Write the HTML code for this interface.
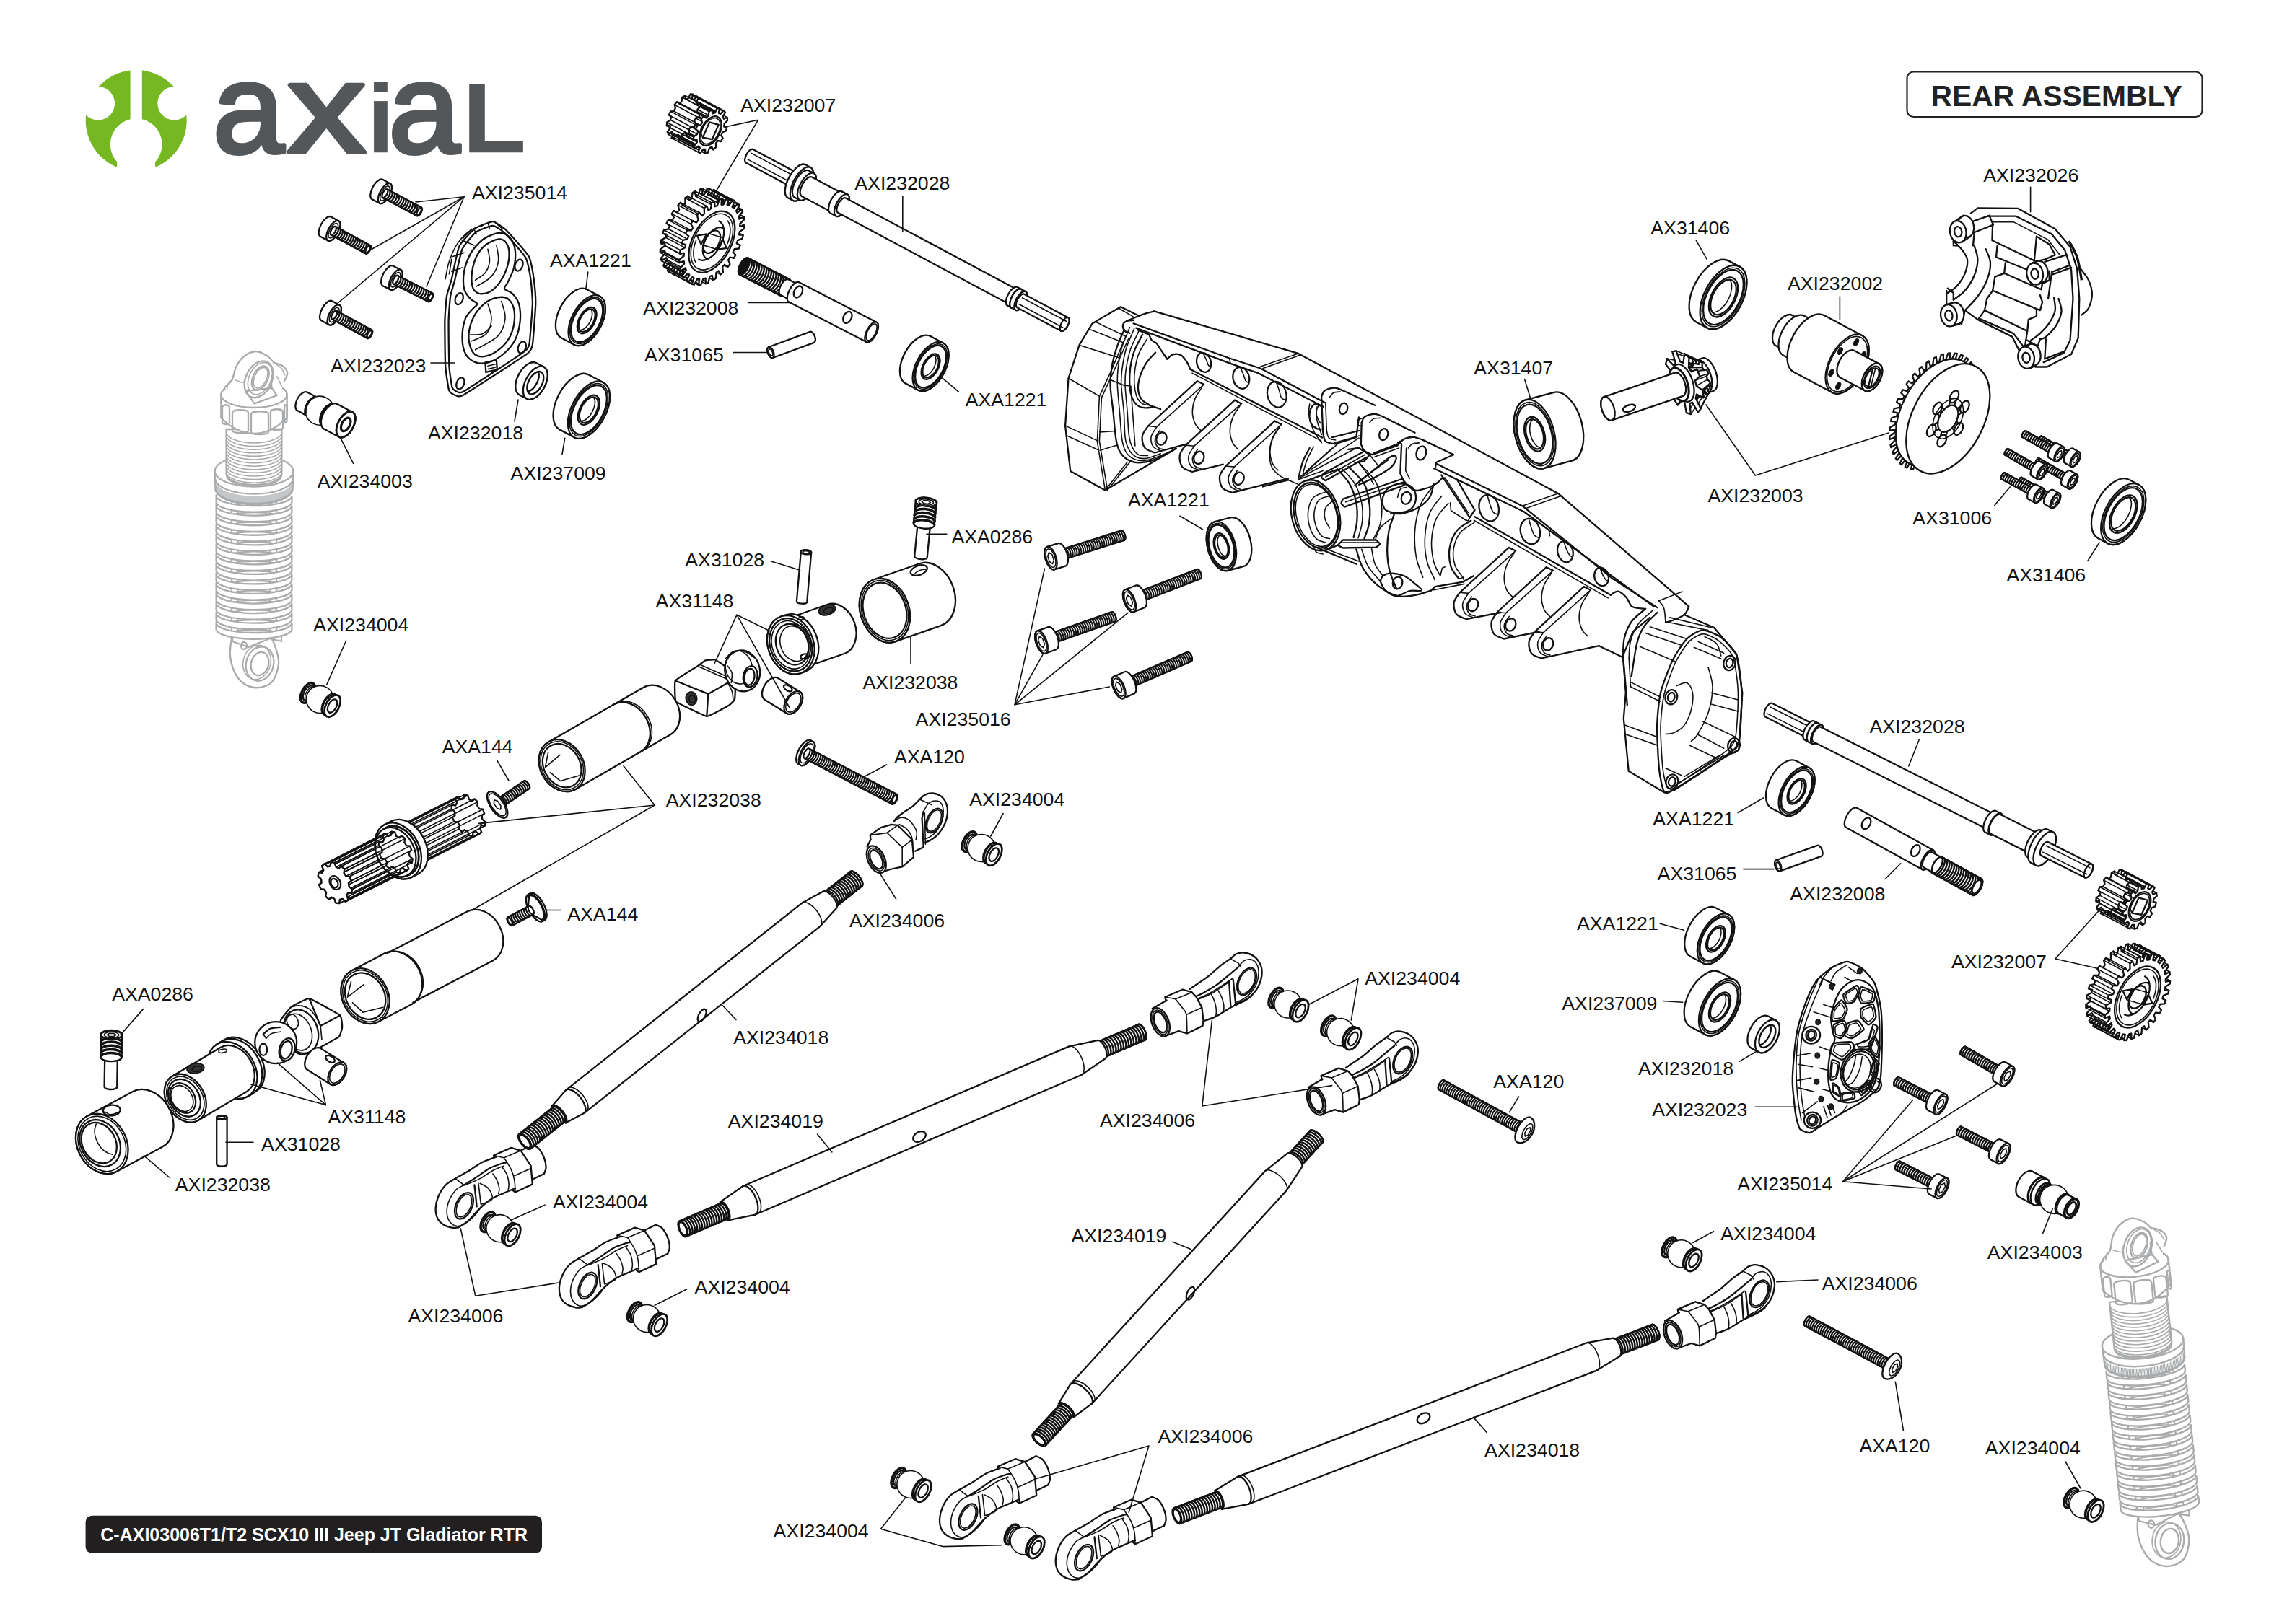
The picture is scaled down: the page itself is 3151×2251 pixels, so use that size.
<!DOCTYPE html>
<html><head><meta charset="utf-8"><title>Rear Assembly</title>
<style>
html,body{margin:0;padding:0;background:#fff;}
body{width:3151px;height:2251px;overflow:hidden;}
svg{display:block;}
.l{font-family:"Liberation Sans",sans-serif;font-size:26.7px;fill:#111;}
.k{fill:#fff;stroke:#111;stroke-width:2.3;stroke-linejoin:round;stroke-linecap:round;}
.w{fill:#fff;stroke:none;}
.n{fill:none;stroke:#111;stroke-width:2.3;stroke-linejoin:round;stroke-linecap:round;}
.t{fill:none;stroke:#111;stroke-width:1.6;stroke-linejoin:round;stroke-linecap:round;}
.ld{fill:none;stroke:#111;stroke-width:1.6;stroke-linecap:round;stroke-linejoin:round;}
.th{fill:#2a2a2a;stroke:#111;stroke-width:1.6;stroke-linejoin:round;}
.g .k{stroke:#a9abad;} .g .n{stroke:#a9abad;} .g .t{stroke:#a9abad;}
</style></head><body>
<svg xmlns="http://www.w3.org/2000/svg" width="3151" height="2251" viewBox="0 0 3151 2251">
<rect width="3151" height="2251" fill="#fff"/>

<defs><mask id="lm" maskUnits="userSpaceOnUse" x="100" y="80" width="180" height="170">
<rect x="100" y="80" width="180" height="170" fill="#000"/>
<circle cx="188.7" cy="167" r="70" fill="#fff"/>
<rect x="180.6" y="90" width="16.2" height="90" fill="#000"/>
<circle cx="188.7" cy="200.2" r="35.9" fill="#000"/>
<rect x="162.2" y="215" width="52.9" height="30" fill="#000"/>
<circle cx="135.9" cy="143.3" r="23.2" fill="#000"/>
<circle cx="241.5" cy="143.3" r="23.2" fill="#000"/>
</mask></defs>
<rect x="100" y="80" width="180" height="170" fill="#76b822" mask="url(#lm)"/>
<text y="210.8" style="font-family:'Liberation Sans',sans-serif;font-size:177px;fill:#53575a;stroke:#53575a;stroke-width:6;stroke-linejoin:round"><tspan x="295">a</tspan><tspan x="398" textLength="109" lengthAdjust="spacingAndGlyphs">x</tspan><tspan x="509" style="font-size:132.7px;font-weight:bold;stroke-width:0.6">i</tspan><tspan x="538.5">a</tspan><tspan x="641" style="font-size:138px;font-weight:bold;stroke-width:0.6" textLength="88" lengthAdjust="spacingAndGlyphs">L</tspan></text>

<!-- p_05_shocks -->
<g class="g" transform="translate(352,487)"><path class="k" d="M-30 391C-30.5 396.3 -34.3 412.7 -33 423C-31.7 433.3 -27.5 445.8 -22 453C-16.5 460.2 -7.7 465 0 466C7.7 467 18.3 464.5 24 459C29.7 453.5 33.2 441.5 34 433C34.8 424.5 31.3 415 29 408C26.7 401 21.5 393.8 20 391"/><ellipse class="n" cx="8" cy="433" rx="19" ry="24" transform="rotate(15 8 433)"/><ellipse class="n" cx="8" cy="433" rx="12" ry="16.5" transform="rotate(15 8 433)"/><ellipse class="t" cx="4" cy="431" rx="19" ry="24" transform="rotate(15 4 431)"/><ellipse class="n" cx="-14" cy="408" rx="4" ry="5"/><path class="n" d="M-30 392L-30 402L-8 410L22 398L38 402L38 388"/><path class="t" d="M18 386L18 398M28 384L28 400"/><rect class="k" x="-31" y="200" width="62" height="190"/><path class="t" d="M-22 200L-22 390M22 200L22 390"/><path class="t" d="M-44 217A46 10 0 0 1 44 217"/><path class="k" d="M-52.4 208A52.4 14 0 0 0 52.4 209.5L52.4 200.9A52.4 14 0 0 1 -52.4 199.4Z"/><path class="t" d="M-44 230.5A46 10 0 0 1 44 230.5"/><path class="k" d="M-52.4 221.5A52.4 14 0 0 0 52.4 223L52.4 214.4A52.4 14 0 0 1 -52.4 212.9Z"/><path class="t" d="M-44 244.1A46 10 0 0 1 44 244.1"/><path class="k" d="M-52.4 235.1A52.4 14 0 0 0 52.4 236.6L52.4 228A52.4 14 0 0 1 -52.4 226.5Z"/><path class="t" d="M-44 257.6A46 10 0 0 1 44 257.6"/><path class="k" d="M-52.4 248.6A52.4 14 0 0 0 52.4 250.1L52.4 241.5A52.4 14 0 0 1 -52.4 240Z"/><path class="t" d="M-44 271.2A46 10 0 0 1 44 271.2"/><path class="k" d="M-52.4 262.2A52.4 14 0 0 0 52.4 263.7L52.4 255.1A52.4 14 0 0 1 -52.4 253.6Z"/><path class="t" d="M-44 284.7A46 10 0 0 1 44 284.7"/><path class="k" d="M-52.4 275.7A52.4 14 0 0 0 52.4 277.2L52.4 268.6A52.4 14 0 0 1 -52.4 267.1Z"/><path class="t" d="M-44 298.2A46 10 0 0 1 44 298.2"/><path class="k" d="M-52.4 289.2A52.4 14 0 0 0 52.4 290.7L52.4 282.1A52.4 14 0 0 1 -52.4 280.6Z"/><path class="t" d="M-44 311.8A46 10 0 0 1 44 311.8"/><path class="k" d="M-52.4 302.8A52.4 14 0 0 0 52.4 304.3L52.4 295.7A52.4 14 0 0 1 -52.4 294.2Z"/><path class="t" d="M-44 325.3A46 10 0 0 1 44 325.3"/><path class="k" d="M-52.4 316.3A52.4 14 0 0 0 52.4 317.8L52.4 309.2A52.4 14 0 0 1 -52.4 307.7Z"/><path class="t" d="M-44 338.8A46 10 0 0 1 44 338.8"/><path class="k" d="M-52.4 329.8A52.4 14 0 0 0 52.4 331.3L52.4 322.7A52.4 14 0 0 1 -52.4 321.2Z"/><path class="t" d="M-44 352.4A46 10 0 0 1 44 352.4"/><path class="k" d="M-52.4 343.4A52.4 14 0 0 0 52.4 344.9L52.4 336.3A52.4 14 0 0 1 -52.4 334.8Z"/><path class="t" d="M-44 365.9A46 10 0 0 1 44 365.9"/><path class="k" d="M-52.4 356.9A52.4 14 0 0 0 52.4 358.4L52.4 349.8A52.4 14 0 0 1 -52.4 348.3Z"/><path class="t" d="M-44 379.5A46 10 0 0 1 44 379.5"/><path class="k" d="M-52.4 370.5A52.4 14 0 0 0 52.4 372L52.4 363.4A52.4 14 0 0 1 -52.4 361.9Z"/><path class="t" d="M-44 393A46 10 0 0 1 44 393"/><path class="k" d="M-52.4 384A52.4 14 0 0 0 52.4 385.5L52.4 376.9A52.4 14 0 0 1 -52.4 375.4Z"/><path class="k" d="M-54.3 166A54.3 21.5 0 0 1 54.3 166L53.5 192A54 22 0 0 1 -53.5 192Z"/><path class="n" d="M-54.3 166A54.3 21.5 0 0 0 54.3 166"/><path class="n" d="M-53.8 178A54 21.5 0 0 0 53.8 178"/><path d="M-52 184.8L-52 196.8M-50 187.1L-50 199.1M-48 188.8L-48 200.8M-46 190.3L-46 202.3M-44 191.5L-44 203.5M-42 192.5L-42 204.5M-40 193.4L-40 205.4M-38 194.3L-38 206.3M-36 195L-36 207M-34 195.7L-34 207.7M-32 196.3L-32 208.3M-30 196.9L-30 208.9M-28 197.4L-28 209.4M-26 197.8L-26 209.8M-24 198.3L-24 210.3M-22 198.6L-22 210.6M-20 199L-20 211M-18 199.3L-18 211.3M-16 199.5L-16 211.5M-14 199.8L-14 211.8M-12 200L-12 212M-10 200.1L-10 212.1M-8 200.3L-8 212.3M-6 200.4L-6 212.4M-4 200.4L-4 212.4M-2 200.5L-2 212.5M0 200.5L0 212.5M2 200.5L2 212.5M4 200.4L4 212.4M6 200.4L6 212.4M8 200.3L8 212.3M10 200.1L10 212.1M12 200L12 212M14 199.8L14 211.8M16 199.5L16 211.5M18 199.3L18 211.3M20 199L20 211M22 198.6L22 210.6M24 198.3L24 210.3M26 197.8L26 209.8M28 197.4L28 209.4M30 196.9L30 208.9M32 196.3L32 208.3M34 195.7L34 207.7M36 195L36 207M38 194.3L38 206.3M40 193.4L40 205.4M42 192.5L42 204.5M44 191.5L44 203.5M46 190.3L46 202.3M48 188.8L48 200.8M50 187.1L50 199.1M52 184.8L52 196.8" fill="none" stroke="#a9abad" stroke-width="1.35"/><path class="n" d="M-53.5 193A54 22 0 0 0 53.5 193"/><path class="k" d="M-38.4 108L-38.4 170A38.4 15 0 0 0 38.4 170L38.4 108Z"/><path class="t" d="M-38.4 112A38.4 15 0 0 0 38.4 112M-38.4 116.6A38.4 15 0 0 0 38.4 116.6M-38.4 121.2A38.4 15 0 0 0 38.4 121.2M-38.4 125.8A38.4 15 0 0 0 38.4 125.8M-38.4 130.4A38.4 15 0 0 0 38.4 130.4M-38.4 135A38.4 15 0 0 0 38.4 135M-38.4 139.6A38.4 15 0 0 0 38.4 139.6M-38.4 144.2A38.4 15 0 0 0 38.4 144.2M-38.4 148.8A38.4 15 0 0 0 38.4 148.8M-38.4 153.4A38.4 15 0 0 0 38.4 153.4M-38.4 158A38.4 15 0 0 0 38.4 158M-38.4 162.6A38.4 15 0 0 0 38.4 162.6M-38.4 167.2A38.4 15 0 0 0 38.4 167.2M-38.4 171.8A38.4 15 0 0 0 38.4 171.8"/><path class="k" d="M-45.7 60L-45.7 92C-30 108 -15 114 0 114C15 114 30 108 45.7 92L45.7 60A45.7 18 0 0 0 -45.7 60Z"/><path class="n" d="M-45.7 60A45.7 18 0 0 0 45.7 60"/><path class="n" d="M-45.7 60A45.7 18 0 0 1 45.7 60"/><path class="n" d="M-44 78C-44 73 -34 73 -34 78L-34 98C-34 102 -44 102 -44 98Z"/><path class="n" d="M-30 85C-30 80 -8 80 -8 85L-8 110C-8 114 -30 114 -30 110Z"/><path class="n" d="M-4 87C-4 82 20 82 20 87L20 112C20 116 -4 116 -4 112Z"/><path class="n" d="M23 84C23 79 40 79 40 84L40 106C40 110 23 110 23 106Z"/><path class="n" d="M42 78C42 73 45.5 73 45.5 78L45.5 96C45.5 100 42 100 42 96Z"/><path class="w" d="M-40.9 50C-41.9 47.9 -32.1 42.4 -30.5 39.7C-29 36.9 -26.9 25.6 -25.3 22.4C-23.8 19.2 -17.8 10 -15 7.8C-12.2 5.5 -1 0.2 2.2 0C5.5 -0.2 15.3 4.5 17.8 6C20.3 7.6 25 14.1 27.2 15.5C29.5 17 38.3 19.2 40.2 20.7C42.1 22.2 46 28.1 46.2 30.2C46.4 32.2 42.7 39.2 41.9 41.4C41.1 43.5 40.2 50 38.4 51.7C36.7 53.4 28.4 57.4 24.7 58.6C20.9 59.8 5 63.6 0.5 63.8C-4 64 -16 61.7 -20.2 60.3C-24.3 59 -39.8 52.1 -40.9 50Z"/><path class="n" d="M-40.9 50C-39.1 48.3 -33.1 44.3 -30.5 39.7C-27.9 35.1 -27.9 27.7 -25.3 22.4C-22.8 17.1 -19.6 11.5 -15 7.8C-10.4 4 -3.2 0.3 2.2 0C7.7 -0.3 13.6 3.4 17.8 6C21.9 8.6 25.7 13.9 27.2 15.5"/><path class="n" d="M27.2 15.5C29.4 16.4 37 18.2 40.2 20.7C43.3 23.1 45.9 26.7 46.2 30.2C46.5 33.6 42.6 39.5 41.9 41.4"/><path class="t" d="M31.6 34.5L38.4 48.3"/><path class="t" d="M29.8 17.2C31.3 18.4 36.3 21.6 38.4 24.1C40.6 26.7 42 31.3 42.8 32.8"/><path class="t" d="M-26.2 39.7C-24.3 40.2 -17.4 44 -15 43.1C-12.6 42.2 -12.1 35.9 -11.6 34.5"/><ellipse class="k" cx="6.6" cy="38.8" rx="18.1" ry="26.7" transform="rotate(25 6.6 38.8)"/><ellipse class="t" cx="8.3" cy="37.6" rx="15.2" ry="23.3" transform="rotate(25 8.3 37.6)"/><ellipse class="n" cx="8.8" cy="37.1" rx="10.3" ry="17.6" transform="rotate(25 8.8 37.1)"/><ellipse class="t" cx="9.1" cy="36.6" rx="8.3" ry="15.2" transform="rotate(25 9.1 36.6)"/><path class="n" d="M-11.6 55.2L24.7 50.9L31.6 61.2L0.5 72.4L-11.6 55.2"/><path class="t" d="M24.7 50.9L23.8 34.5"/><path class="t" d="M-37.4 51.7C-37.1 50.6 -36.8 46.8 -35.7 44.8C-34.5 42.8 -31.4 40.5 -30.5 39.7"/></g>
<g class="g" transform="translate(2951,1689) rotate(-6) scale(1.04)"><path class="k" d="M-30 391C-30.5 396.3 -34.3 412.7 -33 423C-31.7 433.3 -27.5 445.8 -22 453C-16.5 460.2 -7.7 465 0 466C7.7 467 18.3 464.5 24 459C29.7 453.5 33.2 441.5 34 433C34.8 424.5 31.3 415 29 408C26.7 401 21.5 393.8 20 391"/><ellipse class="n" cx="8" cy="433" rx="19" ry="24" transform="rotate(15 8 433)"/><ellipse class="n" cx="8" cy="433" rx="12" ry="16.5" transform="rotate(15 8 433)"/><ellipse class="t" cx="4" cy="431" rx="19" ry="24" transform="rotate(15 4 431)"/><ellipse class="n" cx="-14" cy="408" rx="4" ry="5"/><path class="n" d="M-30 392L-30 402L-8 410L22 398L38 402L38 388"/><path class="t" d="M18 386L18 398M28 384L28 400"/><rect class="k" x="-31" y="200" width="62" height="190"/><path class="t" d="M-22 200L-22 390M22 200L22 390"/><path class="t" d="M-44 217A46 10 0 0 1 44 217"/><path class="k" d="M-52.4 208A52.4 14 0 0 0 52.4 209.5L52.4 200.9A52.4 14 0 0 1 -52.4 199.4Z"/><path class="t" d="M-44 230.5A46 10 0 0 1 44 230.5"/><path class="k" d="M-52.4 221.5A52.4 14 0 0 0 52.4 223L52.4 214.4A52.4 14 0 0 1 -52.4 212.9Z"/><path class="t" d="M-44 244.1A46 10 0 0 1 44 244.1"/><path class="k" d="M-52.4 235.1A52.4 14 0 0 0 52.4 236.6L52.4 228A52.4 14 0 0 1 -52.4 226.5Z"/><path class="t" d="M-44 257.6A46 10 0 0 1 44 257.6"/><path class="k" d="M-52.4 248.6A52.4 14 0 0 0 52.4 250.1L52.4 241.5A52.4 14 0 0 1 -52.4 240Z"/><path class="t" d="M-44 271.2A46 10 0 0 1 44 271.2"/><path class="k" d="M-52.4 262.2A52.4 14 0 0 0 52.4 263.7L52.4 255.1A52.4 14 0 0 1 -52.4 253.6Z"/><path class="t" d="M-44 284.7A46 10 0 0 1 44 284.7"/><path class="k" d="M-52.4 275.7A52.4 14 0 0 0 52.4 277.2L52.4 268.6A52.4 14 0 0 1 -52.4 267.1Z"/><path class="t" d="M-44 298.2A46 10 0 0 1 44 298.2"/><path class="k" d="M-52.4 289.2A52.4 14 0 0 0 52.4 290.7L52.4 282.1A52.4 14 0 0 1 -52.4 280.6Z"/><path class="t" d="M-44 311.8A46 10 0 0 1 44 311.8"/><path class="k" d="M-52.4 302.8A52.4 14 0 0 0 52.4 304.3L52.4 295.7A52.4 14 0 0 1 -52.4 294.2Z"/><path class="t" d="M-44 325.3A46 10 0 0 1 44 325.3"/><path class="k" d="M-52.4 316.3A52.4 14 0 0 0 52.4 317.8L52.4 309.2A52.4 14 0 0 1 -52.4 307.7Z"/><path class="t" d="M-44 338.8A46 10 0 0 1 44 338.8"/><path class="k" d="M-52.4 329.8A52.4 14 0 0 0 52.4 331.3L52.4 322.7A52.4 14 0 0 1 -52.4 321.2Z"/><path class="t" d="M-44 352.4A46 10 0 0 1 44 352.4"/><path class="k" d="M-52.4 343.4A52.4 14 0 0 0 52.4 344.9L52.4 336.3A52.4 14 0 0 1 -52.4 334.8Z"/><path class="t" d="M-44 365.9A46 10 0 0 1 44 365.9"/><path class="k" d="M-52.4 356.9A52.4 14 0 0 0 52.4 358.4L52.4 349.8A52.4 14 0 0 1 -52.4 348.3Z"/><path class="t" d="M-44 379.5A46 10 0 0 1 44 379.5"/><path class="k" d="M-52.4 370.5A52.4 14 0 0 0 52.4 372L52.4 363.4A52.4 14 0 0 1 -52.4 361.9Z"/><path class="t" d="M-44 393A46 10 0 0 1 44 393"/><path class="k" d="M-52.4 384A52.4 14 0 0 0 52.4 385.5L52.4 376.9A52.4 14 0 0 1 -52.4 375.4Z"/><path class="k" d="M-54.3 166A54.3 21.5 0 0 1 54.3 166L53.5 192A54 22 0 0 1 -53.5 192Z"/><path class="n" d="M-54.3 166A54.3 21.5 0 0 0 54.3 166"/><path class="n" d="M-53.8 178A54 21.5 0 0 0 53.8 178"/><path d="M-52 184.8L-52 196.8M-50 187.1L-50 199.1M-48 188.8L-48 200.8M-46 190.3L-46 202.3M-44 191.5L-44 203.5M-42 192.5L-42 204.5M-40 193.4L-40 205.4M-38 194.3L-38 206.3M-36 195L-36 207M-34 195.7L-34 207.7M-32 196.3L-32 208.3M-30 196.9L-30 208.9M-28 197.4L-28 209.4M-26 197.8L-26 209.8M-24 198.3L-24 210.3M-22 198.6L-22 210.6M-20 199L-20 211M-18 199.3L-18 211.3M-16 199.5L-16 211.5M-14 199.8L-14 211.8M-12 200L-12 212M-10 200.1L-10 212.1M-8 200.3L-8 212.3M-6 200.4L-6 212.4M-4 200.4L-4 212.4M-2 200.5L-2 212.5M0 200.5L0 212.5M2 200.5L2 212.5M4 200.4L4 212.4M6 200.4L6 212.4M8 200.3L8 212.3M10 200.1L10 212.1M12 200L12 212M14 199.8L14 211.8M16 199.5L16 211.5M18 199.3L18 211.3M20 199L20 211M22 198.6L22 210.6M24 198.3L24 210.3M26 197.8L26 209.8M28 197.4L28 209.4M30 196.9L30 208.9M32 196.3L32 208.3M34 195.7L34 207.7M36 195L36 207M38 194.3L38 206.3M40 193.4L40 205.4M42 192.5L42 204.5M44 191.5L44 203.5M46 190.3L46 202.3M48 188.8L48 200.8M50 187.1L50 199.1M52 184.8L52 196.8" fill="none" stroke="#a9abad" stroke-width="1.35"/><path class="n" d="M-53.5 193A54 22 0 0 0 53.5 193"/><path class="k" d="M-38.4 108L-38.4 170A38.4 15 0 0 0 38.4 170L38.4 108Z"/><path class="t" d="M-38.4 112A38.4 15 0 0 0 38.4 112M-38.4 116.6A38.4 15 0 0 0 38.4 116.6M-38.4 121.2A38.4 15 0 0 0 38.4 121.2M-38.4 125.8A38.4 15 0 0 0 38.4 125.8M-38.4 130.4A38.4 15 0 0 0 38.4 130.4M-38.4 135A38.4 15 0 0 0 38.4 135M-38.4 139.6A38.4 15 0 0 0 38.4 139.6M-38.4 144.2A38.4 15 0 0 0 38.4 144.2M-38.4 148.8A38.4 15 0 0 0 38.4 148.8M-38.4 153.4A38.4 15 0 0 0 38.4 153.4M-38.4 158A38.4 15 0 0 0 38.4 158M-38.4 162.6A38.4 15 0 0 0 38.4 162.6M-38.4 167.2A38.4 15 0 0 0 38.4 167.2M-38.4 171.8A38.4 15 0 0 0 38.4 171.8"/><path class="k" d="M-45.7 60L-45.7 92C-30 108 -15 114 0 114C15 114 30 108 45.7 92L45.7 60A45.7 18 0 0 0 -45.7 60Z"/><path class="n" d="M-45.7 60A45.7 18 0 0 0 45.7 60"/><path class="n" d="M-45.7 60A45.7 18 0 0 1 45.7 60"/><path class="n" d="M-44 78C-44 73 -34 73 -34 78L-34 98C-34 102 -44 102 -44 98Z"/><path class="n" d="M-30 85C-30 80 -8 80 -8 85L-8 110C-8 114 -30 114 -30 110Z"/><path class="n" d="M-4 87C-4 82 20 82 20 87L20 112C20 116 -4 116 -4 112Z"/><path class="n" d="M23 84C23 79 40 79 40 84L40 106C40 110 23 110 23 106Z"/><path class="n" d="M42 78C42 73 45.5 73 45.5 78L45.5 96C45.5 100 42 100 42 96Z"/><path class="w" d="M-40.9 50C-41.9 47.9 -32.1 42.4 -30.5 39.7C-29 36.9 -26.9 25.6 -25.3 22.4C-23.8 19.2 -17.8 10 -15 7.8C-12.2 5.5 -1 0.2 2.2 0C5.5 -0.2 15.3 4.5 17.8 6C20.3 7.6 25 14.1 27.2 15.5C29.5 17 38.3 19.2 40.2 20.7C42.1 22.2 46 28.1 46.2 30.2C46.4 32.2 42.7 39.2 41.9 41.4C41.1 43.5 40.2 50 38.4 51.7C36.7 53.4 28.4 57.4 24.7 58.6C20.9 59.8 5 63.6 0.5 63.8C-4 64 -16 61.7 -20.2 60.3C-24.3 59 -39.8 52.1 -40.9 50Z"/><path class="n" d="M-40.9 50C-39.1 48.3 -33.1 44.3 -30.5 39.7C-27.9 35.1 -27.9 27.7 -25.3 22.4C-22.8 17.1 -19.6 11.5 -15 7.8C-10.4 4 -3.2 0.3 2.2 0C7.7 -0.3 13.6 3.4 17.8 6C21.9 8.6 25.7 13.9 27.2 15.5"/><path class="n" d="M27.2 15.5C29.4 16.4 37 18.2 40.2 20.7C43.3 23.1 45.9 26.7 46.2 30.2C46.5 33.6 42.6 39.5 41.9 41.4"/><path class="t" d="M31.6 34.5L38.4 48.3"/><path class="t" d="M29.8 17.2C31.3 18.4 36.3 21.6 38.4 24.1C40.6 26.7 42 31.3 42.8 32.8"/><path class="t" d="M-26.2 39.7C-24.3 40.2 -17.4 44 -15 43.1C-12.6 42.2 -12.1 35.9 -11.6 34.5"/><ellipse class="k" cx="6.6" cy="38.8" rx="18.1" ry="26.7" transform="rotate(25 6.6 38.8)"/><ellipse class="t" cx="8.3" cy="37.6" rx="15.2" ry="23.3" transform="rotate(25 8.3 37.6)"/><ellipse class="n" cx="8.8" cy="37.1" rx="10.3" ry="17.6" transform="rotate(25 8.8 37.1)"/><ellipse class="t" cx="9.1" cy="36.6" rx="8.3" ry="15.2" transform="rotate(25 9.1 36.6)"/><path class="n" d="M-11.6 55.2L24.7 50.9L31.6 61.2L0.5 72.4L-11.6 55.2"/><path class="t" d="M24.7 50.9L23.8 34.5"/><path class="t" d="M-37.4 51.7C-37.1 50.6 -36.8 46.8 -35.7 44.8C-34.5 42.8 -31.4 40.5 -30.5 39.7"/></g>
<!-- p_10_bearings -->
<g transform="translate(813.2,444.1) rotate(28)"><path class="k" d="M0 -38L-20 -38A20.9 38 0 0 0 -20 38L0 38A20.9 38 0 0 0 0 -38Z"/><ellipse class="k" cx="0" cy="0" rx="20.9" ry="38"/><ellipse class="t" cx="0" cy="0" rx="19.2" ry="35"/><ellipse class="n" cx="0" cy="0" rx="18" ry="32.7"/><ellipse class="n" cx="0" cy="0" rx="10.9" ry="19.8"/><ellipse class="n" cx="0" cy="0" rx="9.4" ry="17.1"/><path class="t" d="M-1.9 -16.4A9.4 17.1 0 0 1 -1.9 16.4"/></g>
<g transform="translate(815.9,568.2) rotate(28)"><path class="k" d="M0 -43L-23 -43A23.7 43 0 0 0 -23 43L0 43A23.7 43 0 0 0 0 -43Z"/><ellipse class="k" cx="0" cy="0" rx="23.7" ry="43"/><ellipse class="t" cx="0" cy="0" rx="21.8" ry="39.6"/><ellipse class="n" cx="0" cy="0" rx="20.3" ry="37"/><ellipse class="n" cx="0" cy="0" rx="12.3" ry="22.4"/><ellipse class="n" cx="0" cy="0" rx="10.6" ry="19.4"/><path class="t" d="M-2.1 -18.6A10.6 19.4 0 0 1 -2.1 18.6"/></g>
<g transform="translate(741.8,530.7) rotate(28)"><path class="k" d="M0 -25L-12 -25A13.8 25 0 0 0 -12 25L0 25A13.8 25 0 0 0 0 -25Z"/><ellipse class="k" cx="0" cy="0" rx="13.8" ry="25"/><ellipse class="n" cx="0" cy="0" rx="9.4" ry="17"/><path class="n" d="M-3.3 -15.3A9.4 17 0 0 1 -3.3 15.3"/></g>
<g transform="translate(1289.6,508.1) rotate(28)"><path class="k" d="M0 -37L-20 -37A20.4 37 0 0 0 -20 37L0 37A20.4 37 0 0 0 0 -37Z"/><ellipse class="k" cx="0" cy="0" rx="20.4" ry="37"/><ellipse class="t" cx="0" cy="0" rx="18.7" ry="34"/><ellipse class="n" cx="0" cy="0" rx="17.5" ry="31.8"/><ellipse class="n" cx="0" cy="0" rx="10.6" ry="19.2"/><ellipse class="n" cx="0" cy="0" rx="9.2" ry="16.7"/><path class="t" d="M-1.8 -16A9.2 16.7 0 0 1 -1.8 16"/></g>
<g transform="translate(2388,412) rotate(28)"><path class="k" d="M0 -48L-17 -48A26.4 48 0 0 0 -17 48L0 48A26.4 48 0 0 0 0 -48Z"/><ellipse class="k" cx="0" cy="0" rx="26.4" ry="48"/><ellipse class="t" cx="0" cy="0" rx="24.3" ry="44.2"/><ellipse class="n" cx="0" cy="0" rx="22.7" ry="41.3"/><ellipse class="n" cx="0" cy="0" rx="16.4" ry="29.8"/><ellipse class="n" cx="0" cy="0" rx="14.5" ry="26.4"/><path class="t" d="M-2.9 -25.3A14.5 26.4 0 0 1 -2.9 25.3"/></g>
<g transform="translate(2942.2,712.6) rotate(28)"><path class="k" d="M0 -46L-15 -46A25.3 46 0 0 0 -15 46L0 46A25.3 46 0 0 0 0 -46Z"/><ellipse class="k" cx="0" cy="0" rx="25.3" ry="46"/><ellipse class="t" cx="0" cy="0" rx="23.3" ry="42.3"/><ellipse class="n" cx="0" cy="0" rx="21.8" ry="39.6"/><ellipse class="n" cx="0" cy="0" rx="15.7" ry="28.5"/><ellipse class="n" cx="0" cy="0" rx="13.9" ry="25.3"/><path class="t" d="M-2.8 -24.3A13.9 25.3 0 0 1 -2.8 24.3"/></g>
<g transform="translate(2489.6,1096.9) rotate(28)"><path class="k" d="M0 -37L-20 -37A20.4 37 0 0 0 -20 37L0 37A20.4 37 0 0 0 0 -37Z"/><ellipse class="k" cx="0" cy="0" rx="20.4" ry="37"/><ellipse class="t" cx="0" cy="0" rx="18.7" ry="34"/><ellipse class="n" cx="0" cy="0" rx="17.5" ry="31.8"/><ellipse class="n" cx="0" cy="0" rx="10.6" ry="19.2"/><ellipse class="n" cx="0" cy="0" rx="9.2" ry="16.7"/><path class="t" d="M-1.8 -16A9.2 16.7 0 0 1 -1.8 16"/></g>
<g transform="translate(2377.5,1301.4) rotate(28)"><path class="k" d="M0 -38L-20 -38A20.9 38 0 0 0 -20 38L0 38A20.9 38 0 0 0 0 -38Z"/><ellipse class="k" cx="0" cy="0" rx="20.9" ry="38"/><ellipse class="t" cx="0" cy="0" rx="19.2" ry="35"/><ellipse class="n" cx="0" cy="0" rx="18" ry="32.7"/><ellipse class="n" cx="0" cy="0" rx="10.9" ry="19.8"/><ellipse class="n" cx="0" cy="0" rx="9.4" ry="17.1"/><path class="t" d="M-1.9 -16.4A9.4 17.1 0 0 1 -1.9 16.4"/></g>
<g transform="translate(2383,1396) rotate(28)"><path class="k" d="M0 -43L-23 -43A23.7 43 0 0 0 -23 43L0 43A23.7 43 0 0 0 0 -43Z"/><ellipse class="k" cx="0" cy="0" rx="23.7" ry="43"/><ellipse class="t" cx="0" cy="0" rx="21.8" ry="39.6"/><ellipse class="n" cx="0" cy="0" rx="20.3" ry="37"/><ellipse class="n" cx="0" cy="0" rx="12.3" ry="22.4"/><ellipse class="n" cx="0" cy="0" rx="10.6" ry="19.4"/><path class="t" d="M-2.1 -18.6A10.6 19.4 0 0 1 -2.1 18.6"/></g>
<g transform="translate(2448.9,1436.3) rotate(28)"><path class="k" d="M0 -25L-12 -25A13.8 25 0 0 0 -12 25L0 25A13.8 25 0 0 0 0 -25Z"/><ellipse class="k" cx="0" cy="0" rx="13.8" ry="25"/><ellipse class="n" cx="0" cy="0" rx="9.4" ry="17"/><path class="n" d="M-3.3 -15.3A9.4 17 0 0 1 -3.3 15.3"/></g>
<g transform="translate(2126.6,601.7) rotate(165)"><path class="k" d="M0 -49L-40 -49A27 49 0 0 0 -40 49L0 49A27 49 0 0 0 0 -49Z"/><ellipse class="k" cx="0" cy="0" rx="27" ry="49"/><ellipse class="t" cx="0" cy="0" rx="24.8" ry="45.1"/><ellipse class="n" cx="0" cy="0" rx="23.2" ry="42.1"/><ellipse class="n" cx="0" cy="0" rx="13.5" ry="24.5"/><ellipse class="n" cx="0" cy="0" rx="11.6" ry="21.1"/><path class="t" d="M-2.3 -20.2A11.6 21.1 0 0 1 -2.3 20.2"/></g>
<g transform="translate(1692.4,757) rotate(165)"><path class="k" d="M0 -35L-22 -35A19.2 35 0 0 0 -22 35L0 35A19.2 35 0 0 0 0 -35Z"/><ellipse class="k" cx="0" cy="0" rx="19.2" ry="35"/><ellipse class="t" cx="0" cy="0" rx="17.7" ry="32.2"/><ellipse class="n" cx="0" cy="0" rx="16.6" ry="30.1"/><ellipse class="n" cx="0" cy="0" rx="10" ry="18.2"/><ellipse class="n" cx="0" cy="0" rx="8.7" ry="15.8"/><path class="t" d="M-1.7 -15.1A8.7 15.8 0 0 1 -1.7 15.1"/></g>
<!-- p_11_screws -->
<g transform="translate(533.4,268.1) rotate(28)"><path class="k" d="M0 -15.5L-12 -15.5A7 15.5 0 0 0 -12 15.5L0 15.5A7 15.5 0 0 0 0 -15.5Z"/><ellipse class="k" cx="0" cy="0" rx="7" ry="15.5"/><ellipse class="t" cx="0" cy="0" rx="5" ry="11.2"/><path class="k" d="M0 -6.6L53.5 -6.6A3 6.6 0 0 1 53.5 6.6L0 6.6A3 6.6 0 0 1 0 -6.6Z"/><path d="M0 -6.6A3 6.6 0 0 1 0 6.6M3.6 -6.6A3 6.6 0 0 1 3.6 6.6M7.1 -6.6A3 6.6 0 0 1 7.1 6.6M10.7 -6.6A3 6.6 0 0 1 10.7 6.6M14.3 -6.6A3 6.6 0 0 1 14.3 6.6M17.8 -6.6A3 6.6 0 0 1 17.8 6.6M21.4 -6.6A3 6.6 0 0 1 21.4 6.6M25 -6.6A3 6.6 0 0 1 25 6.6M28.6 -6.6A3 6.6 0 0 1 28.6 6.6M32.1 -6.6A3 6.6 0 0 1 32.1 6.6M35.7 -6.6A3 6.6 0 0 1 35.7 6.6M39.3 -6.6A3 6.6 0 0 1 39.3 6.6M42.8 -6.6A3 6.6 0 0 1 42.8 6.6M46.4 -6.6A3 6.6 0 0 1 46.4 6.6M50 -6.6A3 6.6 0 0 1 50 6.6M53.5 -6.6A3 6.6 0 0 1 53.5 6.6" fill="none" stroke="#111" stroke-width="2.4"/><ellipse class="k" cx="53.5" cy="0" rx="2.4" ry="5.3"/></g>
<g transform="translate(461.8,319.8) rotate(28.4)"><path class="k" d="M0 -15.5L-12 -15.5A7 15.5 0 0 0 -12 15.5L0 15.5A7 15.5 0 0 0 0 -15.5Z"/><ellipse class="k" cx="0" cy="0" rx="7" ry="15.5"/><ellipse class="t" cx="0" cy="0" rx="5" ry="11.2"/><path class="k" d="M0 -6.6L54.5 -6.6A3 6.6 0 0 1 54.5 6.6L0 6.6A3 6.6 0 0 1 0 -6.6Z"/><path d="M0 -6.6A3 6.6 0 0 1 0 6.6M3.4 -6.6A3 6.6 0 0 1 3.4 6.6M6.8 -6.6A3 6.6 0 0 1 6.8 6.6M10.2 -6.6A3 6.6 0 0 1 10.2 6.6M13.6 -6.6A3 6.6 0 0 1 13.6 6.6M17 -6.6A3 6.6 0 0 1 17 6.6M20.5 -6.6A3 6.6 0 0 1 20.5 6.6M23.9 -6.6A3 6.6 0 0 1 23.9 6.6M27.3 -6.6A3 6.6 0 0 1 27.3 6.6M30.7 -6.6A3 6.6 0 0 1 30.7 6.6M34.1 -6.6A3 6.6 0 0 1 34.1 6.6M37.5 -6.6A3 6.6 0 0 1 37.5 6.6M40.9 -6.6A3 6.6 0 0 1 40.9 6.6M44.3 -6.6A3 6.6 0 0 1 44.3 6.6M47.7 -6.6A3 6.6 0 0 1 47.7 6.6M51.1 -6.6A3 6.6 0 0 1 51.1 6.6M54.5 -6.6A3 6.6 0 0 1 54.5 6.6" fill="none" stroke="#111" stroke-width="2.4"/><ellipse class="k" cx="54.5" cy="0" rx="2.4" ry="5.3"/></g>
<g transform="translate(548.2,387.8) rotate(26.9)"><path class="k" d="M0 -15.5L-12 -15.5A7 15.5 0 0 0 -12 15.5L0 15.5A7 15.5 0 0 0 0 -15.5Z"/><ellipse class="k" cx="0" cy="0" rx="7" ry="15.5"/><ellipse class="t" cx="0" cy="0" rx="5" ry="11.2"/><path class="k" d="M0 -6.6L53.8 -6.6A3 6.6 0 0 1 53.8 6.6L0 6.6A3 6.6 0 0 1 0 -6.6Z"/><path d="M0 -6.6A3 6.6 0 0 1 0 6.6M3.6 -6.6A3 6.6 0 0 1 3.6 6.6M7.2 -6.6A3 6.6 0 0 1 7.2 6.6M10.8 -6.6A3 6.6 0 0 1 10.8 6.6M14.4 -6.6A3 6.6 0 0 1 14.4 6.6M17.9 -6.6A3 6.6 0 0 1 17.9 6.6M21.5 -6.6A3 6.6 0 0 1 21.5 6.6M25.1 -6.6A3 6.6 0 0 1 25.1 6.6M28.7 -6.6A3 6.6 0 0 1 28.7 6.6M32.3 -6.6A3 6.6 0 0 1 32.3 6.6M35.9 -6.6A3 6.6 0 0 1 35.9 6.6M39.5 -6.6A3 6.6 0 0 1 39.5 6.6M43.1 -6.6A3 6.6 0 0 1 43.1 6.6M46.7 -6.6A3 6.6 0 0 1 46.7 6.6M50.3 -6.6A3 6.6 0 0 1 50.3 6.6M53.8 -6.6A3 6.6 0 0 1 53.8 6.6" fill="none" stroke="#111" stroke-width="2.4"/><ellipse class="k" cx="53.8" cy="0" rx="2.4" ry="5.3"/></g>
<g transform="translate(463.2,436.5) rotate(28.6)"><path class="k" d="M0 -15.5L-12 -15.5A7 15.5 0 0 0 -12 15.5L0 15.5A7 15.5 0 0 0 0 -15.5Z"/><ellipse class="k" cx="0" cy="0" rx="7" ry="15.5"/><ellipse class="t" cx="0" cy="0" rx="5" ry="11.2"/><path class="k" d="M0 -6.6L55.6 -6.6A3 6.6 0 0 1 55.6 6.6L0 6.6A3 6.6 0 0 1 0 -6.6Z"/><path d="M0 -6.6A3 6.6 0 0 1 0 6.6M3.5 -6.6A3 6.6 0 0 1 3.5 6.6M6.9 -6.6A3 6.6 0 0 1 6.9 6.6M10.4 -6.6A3 6.6 0 0 1 10.4 6.6M13.9 -6.6A3 6.6 0 0 1 13.9 6.6M17.4 -6.6A3 6.6 0 0 1 17.4 6.6M20.8 -6.6A3 6.6 0 0 1 20.8 6.6M24.3 -6.6A3 6.6 0 0 1 24.3 6.6M27.8 -6.6A3 6.6 0 0 1 27.8 6.6M31.3 -6.6A3 6.6 0 0 1 31.3 6.6M34.7 -6.6A3 6.6 0 0 1 34.7 6.6M38.2 -6.6A3 6.6 0 0 1 38.2 6.6M41.7 -6.6A3 6.6 0 0 1 41.7 6.6M45.2 -6.6A3 6.6 0 0 1 45.2 6.6M48.6 -6.6A3 6.6 0 0 1 48.6 6.6M52.1 -6.6A3 6.6 0 0 1 52.1 6.6M55.6 -6.6A3 6.6 0 0 1 55.6 6.6" fill="none" stroke="#111" stroke-width="2.4"/><ellipse class="k" cx="55.6" cy="0" rx="2.4" ry="5.3"/></g>
<g transform="translate(2771.1,1485.7) rotate(29.9)"><path class="k" d="M0 -6.6L-58.4 -6.6A3 6.6 0 0 0 -58.4 6.6L0 6.6A3 6.6 0 0 0 0 -6.6Z"/><path d="M-58.4 -6.6A3 6.6 0 0 0 -58.4 6.6M-54.9 -6.6A3 6.6 0 0 0 -54.9 6.6M-51.5 -6.6A3 6.6 0 0 0 -51.5 6.6M-48.1 -6.6A3 6.6 0 0 0 -48.1 6.6M-44.6 -6.6A3 6.6 0 0 0 -44.6 6.6M-41.2 -6.6A3 6.6 0 0 0 -41.2 6.6M-37.8 -6.6A3 6.6 0 0 0 -37.8 6.6M-34.3 -6.6A3 6.6 0 0 0 -34.3 6.6M-30.9 -6.6A3 6.6 0 0 0 -30.9 6.6M-27.5 -6.6A3 6.6 0 0 0 -27.5 6.6M-24 -6.6A3 6.6 0 0 0 -24 6.6M-20.6 -6.6A3 6.6 0 0 0 -20.6 6.6M-17.2 -6.6A3 6.6 0 0 0 -17.2 6.6M-13.7 -6.6A3 6.6 0 0 0 -13.7 6.6M-10.3 -6.6A3 6.6 0 0 0 -10.3 6.6M-6.9 -6.6A3 6.6 0 0 0 -6.9 6.6M-3.4 -6.6A3 6.6 0 0 0 -3.4 6.6M0 -6.6A3 6.6 0 0 0 0 6.6" fill="none" stroke="#111" stroke-width="2.4"/><path class="k" d="M12 -15.5L0 -15.5A7 15.5 0 0 0 0 15.5L12 15.5A7 15.5 0 0 0 12 -15.5Z"/><ellipse class="k" cx="12" cy="0" rx="7" ry="15.5"/><ellipse class="t" cx="12" cy="0" rx="5.6" ry="12.4"/><path class="t" d="M15 3.9L12 7.8L9 3.9L9 -3.9L12 -7.8L15 -3.9Z"/></g>
<g transform="translate(2678.4,1525) rotate(27.3)"><path class="k" d="M0 -6.6L-56.5 -6.6A3 6.6 0 0 0 -56.5 6.6L0 6.6A3 6.6 0 0 0 0 -6.6Z"/><path d="M-56.5 -6.6A3 6.6 0 0 0 -56.5 6.6M-53 -6.6A3 6.6 0 0 0 -53 6.6M-49.5 -6.6A3 6.6 0 0 0 -49.5 6.6M-45.9 -6.6A3 6.6 0 0 0 -45.9 6.6M-42.4 -6.6A3 6.6 0 0 0 -42.4 6.6M-38.9 -6.6A3 6.6 0 0 0 -38.9 6.6M-35.3 -6.6A3 6.6 0 0 0 -35.3 6.6M-31.8 -6.6A3 6.6 0 0 0 -31.8 6.6M-28.3 -6.6A3 6.6 0 0 0 -28.3 6.6M-24.7 -6.6A3 6.6 0 0 0 -24.7 6.6M-21.2 -6.6A3 6.6 0 0 0 -21.2 6.6M-17.7 -6.6A3 6.6 0 0 0 -17.7 6.6M-14.1 -6.6A3 6.6 0 0 0 -14.1 6.6M-10.6 -6.6A3 6.6 0 0 0 -10.6 6.6M-7.1 -6.6A3 6.6 0 0 0 -7.1 6.6M-3.5 -6.6A3 6.6 0 0 0 -3.5 6.6M0 -6.6A3 6.6 0 0 0 0 6.6" fill="none" stroke="#111" stroke-width="2.4"/><path class="k" d="M12 -15.5L0 -15.5A7 15.5 0 0 0 0 15.5L12 15.5A7 15.5 0 0 0 12 -15.5Z"/><ellipse class="k" cx="12" cy="0" rx="7" ry="15.5"/><ellipse class="t" cx="12" cy="0" rx="5.6" ry="12.4"/><path class="t" d="M15 3.9L12 7.8L9 3.9L9 -3.9L12 -7.8L15 -3.9Z"/></g>
<g transform="translate(2765.3,1593.4) rotate(27.2)"><path class="k" d="M0 -6.6L-56.6 -6.6A3 6.6 0 0 0 -56.6 6.6L0 6.6A3 6.6 0 0 0 0 -6.6Z"/><path d="M-56.6 -6.6A3 6.6 0 0 0 -56.6 6.6M-53.1 -6.6A3 6.6 0 0 0 -53.1 6.6M-49.5 -6.6A3 6.6 0 0 0 -49.5 6.6M-46 -6.6A3 6.6 0 0 0 -46 6.6M-42.5 -6.6A3 6.6 0 0 0 -42.5 6.6M-38.9 -6.6A3 6.6 0 0 0 -38.9 6.6M-35.4 -6.6A3 6.6 0 0 0 -35.4 6.6M-31.8 -6.6A3 6.6 0 0 0 -31.8 6.6M-28.3 -6.6A3 6.6 0 0 0 -28.3 6.6M-24.8 -6.6A3 6.6 0 0 0 -24.8 6.6M-21.2 -6.6A3 6.6 0 0 0 -21.2 6.6M-17.7 -6.6A3 6.6 0 0 0 -17.7 6.6M-14.2 -6.6A3 6.6 0 0 0 -14.2 6.6M-10.6 -6.6A3 6.6 0 0 0 -10.6 6.6M-7.1 -6.6A3 6.6 0 0 0 -7.1 6.6M-3.5 -6.6A3 6.6 0 0 0 -3.5 6.6M0 -6.6A3 6.6 0 0 0 0 6.6" fill="none" stroke="#111" stroke-width="2.4"/><path class="k" d="M12 -15.5L0 -15.5A7 15.5 0 0 0 0 15.5L12 15.5A7 15.5 0 0 0 12 -15.5Z"/><ellipse class="k" cx="12" cy="0" rx="7" ry="15.5"/><ellipse class="t" cx="12" cy="0" rx="5.6" ry="12.4"/><path class="t" d="M15 3.9L12 7.8L9 3.9L9 -3.9L12 -7.8L15 -3.9Z"/></g>
<g transform="translate(2680.3,1641.4) rotate(27.2)"><path class="k" d="M0 -6.6L-56.6 -6.6A3 6.6 0 0 0 -56.6 6.6L0 6.6A3 6.6 0 0 0 0 -6.6Z"/><path d="M-56.6 -6.6A3 6.6 0 0 0 -56.6 6.6M-53.1 -6.6A3 6.6 0 0 0 -53.1 6.6M-49.5 -6.6A3 6.6 0 0 0 -49.5 6.6M-46 -6.6A3 6.6 0 0 0 -46 6.6M-42.5 -6.6A3 6.6 0 0 0 -42.5 6.6M-38.9 -6.6A3 6.6 0 0 0 -38.9 6.6M-35.4 -6.6A3 6.6 0 0 0 -35.4 6.6M-31.8 -6.6A3 6.6 0 0 0 -31.8 6.6M-28.3 -6.6A3 6.6 0 0 0 -28.3 6.6M-24.8 -6.6A3 6.6 0 0 0 -24.8 6.6M-21.2 -6.6A3 6.6 0 0 0 -21.2 6.6M-17.7 -6.6A3 6.6 0 0 0 -17.7 6.6M-14.2 -6.6A3 6.6 0 0 0 -14.2 6.6M-10.6 -6.6A3 6.6 0 0 0 -10.6 6.6M-7.1 -6.6A3 6.6 0 0 0 -7.1 6.6M-3.5 -6.6A3 6.6 0 0 0 -3.5 6.6M0 -6.6A3 6.6 0 0 0 0 6.6" fill="none" stroke="#111" stroke-width="2.4"/><path class="k" d="M12 -15.5L0 -15.5A7 15.5 0 0 0 0 15.5L12 15.5A7 15.5 0 0 0 12 -15.5Z"/><ellipse class="k" cx="12" cy="0" rx="7" ry="15.5"/><ellipse class="t" cx="12" cy="0" rx="5.6" ry="12.4"/><path class="t" d="M15 3.9L12 7.8L9 3.9L9 -3.9L12 -7.8L15 -3.9Z"/></g>
<g transform="translate(1471.3,768.8) rotate(162.5)"><path class="k" d="M0 -7.1L-88.5 -7.1A3.2 7.1 0 0 0 -88.5 7.1L0 7.1A3.2 7.1 0 0 0 0 -7.1Z"/><path d="M-88.5 -7.1A3.2 7.1 0 0 0 -88.5 7.1M-85.5 -7.1A3.2 7.1 0 0 0 -85.5 7.1M-82.4 -7.1A3.2 7.1 0 0 0 -82.4 7.1M-79.4 -7.1A3.2 7.1 0 0 0 -79.4 7.1M-76.3 -7.1A3.2 7.1 0 0 0 -76.3 7.1M-73.3 -7.1A3.2 7.1 0 0 0 -73.3 7.1M-70.2 -7.1A3.2 7.1 0 0 0 -70.2 7.1M-67.2 -7.1A3.2 7.1 0 0 0 -67.2 7.1M-64.1 -7.1A3.2 7.1 0 0 0 -64.1 7.1M-61.1 -7.1A3.2 7.1 0 0 0 -61.1 7.1M-58 -7.1A3.2 7.1 0 0 0 -58 7.1M-54.9 -7.1A3.2 7.1 0 0 0 -54.9 7.1M-51.9 -7.1A3.2 7.1 0 0 0 -51.9 7.1M-48.8 -7.1A3.2 7.1 0 0 0 -48.8 7.1M-45.8 -7.1A3.2 7.1 0 0 0 -45.8 7.1M-42.7 -7.1A3.2 7.1 0 0 0 -42.7 7.1M-39.7 -7.1A3.2 7.1 0 0 0 -39.7 7.1M-36.6 -7.1A3.2 7.1 0 0 0 -36.6 7.1M-33.6 -7.1A3.2 7.1 0 0 0 -33.6 7.1M-30.5 -7.1A3.2 7.1 0 0 0 -30.5 7.1M-27.5 -7.1A3.2 7.1 0 0 0 -27.5 7.1M-24.4 -7.1A3.2 7.1 0 0 0 -24.4 7.1M-21.4 -7.1A3.2 7.1 0 0 0 -21.4 7.1M-18.3 -7.1A3.2 7.1 0 0 0 -18.3 7.1M-15.3 -7.1A3.2 7.1 0 0 0 -15.3 7.1M-12.2 -7.1A3.2 7.1 0 0 0 -12.2 7.1M-9.2 -7.1A3.2 7.1 0 0 0 -9.2 7.1M-6.1 -7.1A3.2 7.1 0 0 0 -6.1 7.1M-3.1 -7.1A3.2 7.1 0 0 0 -3.1 7.1M0 -7.1A3.2 7.1 0 0 0 0 7.1" fill="none" stroke="#111" stroke-width="2.1"/><path class="k" d="M16 -16.5L0 -16.5A7.4 16.5 0 0 0 0 16.5L16 16.5A7.4 16.5 0 0 0 16 -16.5Z"/><ellipse class="k" cx="16" cy="0" rx="7.4" ry="16.5"/><ellipse class="t" cx="16" cy="0" rx="5.9" ry="13.2"/><path class="t" d="M19.2 4.1L16 8.2L12.8 4.1L12.8 -4.1L16 -8.2L19.2 -4.1Z"/></g>
<g transform="translate(1579.9,826.9) rotate(158.9)"><path class="k" d="M0 -7.1L-86.9 -7.1A3.2 7.1 0 0 0 -86.9 7.1L0 7.1A3.2 7.1 0 0 0 0 -7.1Z"/><path d="M-86.9 -7.1A3.2 7.1 0 0 0 -86.9 7.1M-83.8 -7.1A3.2 7.1 0 0 0 -83.8 7.1M-80.7 -7.1A3.2 7.1 0 0 0 -80.7 7.1M-77.6 -7.1A3.2 7.1 0 0 0 -77.6 7.1M-74.5 -7.1A3.2 7.1 0 0 0 -74.5 7.1M-71.4 -7.1A3.2 7.1 0 0 0 -71.4 7.1M-68.3 -7.1A3.2 7.1 0 0 0 -68.3 7.1M-65.2 -7.1A3.2 7.1 0 0 0 -65.2 7.1M-62.1 -7.1A3.2 7.1 0 0 0 -62.1 7.1M-59 -7.1A3.2 7.1 0 0 0 -59 7.1M-55.9 -7.1A3.2 7.1 0 0 0 -55.9 7.1M-52.8 -7.1A3.2 7.1 0 0 0 -52.8 7.1M-49.6 -7.1A3.2 7.1 0 0 0 -49.6 7.1M-46.5 -7.1A3.2 7.1 0 0 0 -46.5 7.1M-43.4 -7.1A3.2 7.1 0 0 0 -43.4 7.1M-40.3 -7.1A3.2 7.1 0 0 0 -40.3 7.1M-37.2 -7.1A3.2 7.1 0 0 0 -37.2 7.1M-34.1 -7.1A3.2 7.1 0 0 0 -34.1 7.1M-31 -7.1A3.2 7.1 0 0 0 -31 7.1M-27.9 -7.1A3.2 7.1 0 0 0 -27.9 7.1M-24.8 -7.1A3.2 7.1 0 0 0 -24.8 7.1M-21.7 -7.1A3.2 7.1 0 0 0 -21.7 7.1M-18.6 -7.1A3.2 7.1 0 0 0 -18.6 7.1M-15.5 -7.1A3.2 7.1 0 0 0 -15.5 7.1M-12.4 -7.1A3.2 7.1 0 0 0 -12.4 7.1M-9.3 -7.1A3.2 7.1 0 0 0 -9.3 7.1M-6.2 -7.1A3.2 7.1 0 0 0 -6.2 7.1M-3.1 -7.1A3.2 7.1 0 0 0 -3.1 7.1M0 -7.1A3.2 7.1 0 0 0 0 7.1" fill="none" stroke="#111" stroke-width="2.1"/><path class="k" d="M16 -16.5L0 -16.5A7.4 16.5 0 0 0 0 16.5L16 16.5A7.4 16.5 0 0 0 16 -16.5Z"/><ellipse class="k" cx="16" cy="0" rx="7.4" ry="16.5"/><ellipse class="t" cx="16" cy="0" rx="5.9" ry="13.2"/><path class="t" d="M19.2 4.1L16 8.2L12.8 4.1L12.8 -4.1L16 -8.2L19.2 -4.1Z"/></g>
<g transform="translate(1458.1,884.7) rotate(160.6)"><path class="k" d="M0 -7.1L-89.8 -7.1A3.2 7.1 0 0 0 -89.8 7.1L0 7.1A3.2 7.1 0 0 0 0 -7.1Z"/><path d="M-89.8 -7.1A3.2 7.1 0 0 0 -89.8 7.1M-86.7 -7.1A3.2 7.1 0 0 0 -86.7 7.1M-83.6 -7.1A3.2 7.1 0 0 0 -83.6 7.1M-80.5 -7.1A3.2 7.1 0 0 0 -80.5 7.1M-77.4 -7.1A3.2 7.1 0 0 0 -77.4 7.1M-74.3 -7.1A3.2 7.1 0 0 0 -74.3 7.1M-71.2 -7.1A3.2 7.1 0 0 0 -71.2 7.1M-68.1 -7.1A3.2 7.1 0 0 0 -68.1 7.1M-65 -7.1A3.2 7.1 0 0 0 -65 7.1M-61.9 -7.1A3.2 7.1 0 0 0 -61.9 7.1M-58.8 -7.1A3.2 7.1 0 0 0 -58.8 7.1M-55.7 -7.1A3.2 7.1 0 0 0 -55.7 7.1M-52.6 -7.1A3.2 7.1 0 0 0 -52.6 7.1M-49.5 -7.1A3.2 7.1 0 0 0 -49.5 7.1M-46.4 -7.1A3.2 7.1 0 0 0 -46.4 7.1M-43.3 -7.1A3.2 7.1 0 0 0 -43.3 7.1M-40.3 -7.1A3.2 7.1 0 0 0 -40.3 7.1M-37.2 -7.1A3.2 7.1 0 0 0 -37.2 7.1M-34.1 -7.1A3.2 7.1 0 0 0 -34.1 7.1M-31 -7.1A3.2 7.1 0 0 0 -31 7.1M-27.9 -7.1A3.2 7.1 0 0 0 -27.9 7.1M-24.8 -7.1A3.2 7.1 0 0 0 -24.8 7.1M-21.7 -7.1A3.2 7.1 0 0 0 -21.7 7.1M-18.6 -7.1A3.2 7.1 0 0 0 -18.6 7.1M-15.5 -7.1A3.2 7.1 0 0 0 -15.5 7.1M-12.4 -7.1A3.2 7.1 0 0 0 -12.4 7.1M-9.3 -7.1A3.2 7.1 0 0 0 -9.3 7.1M-6.2 -7.1A3.2 7.1 0 0 0 -6.2 7.1M-3.1 -7.1A3.2 7.1 0 0 0 -3.1 7.1M0 -7.1A3.2 7.1 0 0 0 0 7.1" fill="none" stroke="#111" stroke-width="2.1"/><path class="k" d="M16 -16.5L0 -16.5A7.4 16.5 0 0 0 0 16.5L16 16.5A7.4 16.5 0 0 0 16 -16.5Z"/><ellipse class="k" cx="16" cy="0" rx="7.4" ry="16.5"/><ellipse class="t" cx="16" cy="0" rx="5.9" ry="13.2"/><path class="t" d="M19.2 4.1L16 8.2L12.8 4.1L12.8 -4.1L16 -8.2L19.2 -4.1Z"/></g>
<g transform="translate(1564.9,946.4) rotate(156.5)"><path class="k" d="M0 -7.1L-90.6 -7.1A3.2 7.1 0 0 0 -90.6 7.1L0 7.1A3.2 7.1 0 0 0 0 -7.1Z"/><path d="M-90.6 -7.1A3.2 7.1 0 0 0 -90.6 7.1M-87.6 -7.1A3.2 7.1 0 0 0 -87.6 7.1M-84.6 -7.1A3.2 7.1 0 0 0 -84.6 7.1M-81.6 -7.1A3.2 7.1 0 0 0 -81.6 7.1M-78.6 -7.1A3.2 7.1 0 0 0 -78.6 7.1M-75.5 -7.1A3.2 7.1 0 0 0 -75.5 7.1M-72.5 -7.1A3.2 7.1 0 0 0 -72.5 7.1M-69.5 -7.1A3.2 7.1 0 0 0 -69.5 7.1M-66.5 -7.1A3.2 7.1 0 0 0 -66.5 7.1M-63.4 -7.1A3.2 7.1 0 0 0 -63.4 7.1M-60.4 -7.1A3.2 7.1 0 0 0 -60.4 7.1M-57.4 -7.1A3.2 7.1 0 0 0 -57.4 7.1M-54.4 -7.1A3.2 7.1 0 0 0 -54.4 7.1M-51.4 -7.1A3.2 7.1 0 0 0 -51.4 7.1M-48.3 -7.1A3.2 7.1 0 0 0 -48.3 7.1M-45.3 -7.1A3.2 7.1 0 0 0 -45.3 7.1M-42.3 -7.1A3.2 7.1 0 0 0 -42.3 7.1M-39.3 -7.1A3.2 7.1 0 0 0 -39.3 7.1M-36.3 -7.1A3.2 7.1 0 0 0 -36.3 7.1M-33.2 -7.1A3.2 7.1 0 0 0 -33.2 7.1M-30.2 -7.1A3.2 7.1 0 0 0 -30.2 7.1M-27.2 -7.1A3.2 7.1 0 0 0 -27.2 7.1M-24.2 -7.1A3.2 7.1 0 0 0 -24.2 7.1M-21.1 -7.1A3.2 7.1 0 0 0 -21.1 7.1M-18.1 -7.1A3.2 7.1 0 0 0 -18.1 7.1M-15.1 -7.1A3.2 7.1 0 0 0 -15.1 7.1M-12.1 -7.1A3.2 7.1 0 0 0 -12.1 7.1M-9.1 -7.1A3.2 7.1 0 0 0 -9.1 7.1M-6 -7.1A3.2 7.1 0 0 0 -6 7.1M-3 -7.1A3.2 7.1 0 0 0 -3 7.1M0 -7.1A3.2 7.1 0 0 0 0 7.1" fill="none" stroke="#111" stroke-width="2.1"/><path class="k" d="M16 -16.5L0 -16.5A7.4 16.5 0 0 0 0 16.5L16 16.5A7.4 16.5 0 0 0 16 -16.5Z"/><ellipse class="k" cx="16" cy="0" rx="7.4" ry="16.5"/><ellipse class="t" cx="16" cy="0" rx="5.9" ry="13.2"/><path class="t" d="M19.2 4.1L16 8.2L12.8 4.1L12.8 -4.1L16 -8.2L19.2 -4.1Z"/></g>
<g transform="translate(2867,631.8) rotate(29.7)"><path class="k" d="M0 -5L-46 -5A2.2 5 0 0 0 -46 5L0 5A2.2 5 0 0 0 0 -5Z"/><path d="M-46 -5A2.2 5 0 0 0 -46 5M-42.7 -5A2.2 5 0 0 0 -42.7 5M-39.4 -5A2.2 5 0 0 0 -39.4 5M-36.1 -5A2.2 5 0 0 0 -36.1 5M-32.9 -5A2.2 5 0 0 0 -32.9 5M-29.6 -5A2.2 5 0 0 0 -29.6 5M-26.3 -5A2.2 5 0 0 0 -26.3 5M-23 -5A2.2 5 0 0 0 -23 5M-19.7 -5A2.2 5 0 0 0 -19.7 5M-16.4 -5A2.2 5 0 0 0 -16.4 5M-13.1 -5A2.2 5 0 0 0 -13.1 5M-9.9 -5A2.2 5 0 0 0 -9.9 5M-6.6 -5A2.2 5 0 0 0 -6.6 5M-3.3 -5A2.2 5 0 0 0 -3.3 5M0 -5A2.2 5 0 0 0 0 5" fill="none" stroke="#111" stroke-width="2.2"/><path class="k" d="M10 -11.5L0 -11.5A5.2 11.5 0 0 0 0 11.5L10 11.5A5.2 11.5 0 0 0 10 -11.5Z"/><ellipse class="k" cx="10" cy="0" rx="5.2" ry="11.5"/><ellipse class="t" cx="10" cy="0" rx="4.1" ry="9.2"/><path class="t" d="M12.2 2.9L10 5.8L7.8 2.9L7.8 -2.9L10 -5.8L12.2 -2.9Z"/></g>
<g transform="translate(2863.3,662.5) rotate(29.7)"><path class="k" d="M0 -5L-46 -5A2.2 5 0 0 0 -46 5L0 5A2.2 5 0 0 0 0 -5Z"/><path d="M-46 -5A2.2 5 0 0 0 -46 5M-42.7 -5A2.2 5 0 0 0 -42.7 5M-39.4 -5A2.2 5 0 0 0 -39.4 5M-36.1 -5A2.2 5 0 0 0 -36.1 5M-32.9 -5A2.2 5 0 0 0 -32.9 5M-29.6 -5A2.2 5 0 0 0 -29.6 5M-26.3 -5A2.2 5 0 0 0 -26.3 5M-23 -5A2.2 5 0 0 0 -23 5M-19.7 -5A2.2 5 0 0 0 -19.7 5M-16.4 -5A2.2 5 0 0 0 -16.4 5M-13.1 -5A2.2 5 0 0 0 -13.1 5M-9.9 -5A2.2 5 0 0 0 -9.9 5M-6.6 -5A2.2 5 0 0 0 -6.6 5M-3.3 -5A2.2 5 0 0 0 -3.3 5M0 -5A2.2 5 0 0 0 0 5" fill="none" stroke="#111" stroke-width="2.2"/><path class="k" d="M10 -11.5L0 -11.5A5.2 11.5 0 0 0 0 11.5L10 11.5A5.2 11.5 0 0 0 10 -11.5Z"/><ellipse class="k" cx="10" cy="0" rx="5.2" ry="11.5"/><ellipse class="t" cx="10" cy="0" rx="4.1" ry="9.2"/><path class="t" d="M12.2 2.9L10 5.8L7.8 2.9L7.8 -2.9L10 -5.8L12.2 -2.9Z"/></g>
<g transform="translate(2839.3,689.1) rotate(29.7)"><path class="k" d="M0 -5L-46 -5A2.2 5 0 0 0 -46 5L0 5A2.2 5 0 0 0 0 -5Z"/><path d="M-46 -5A2.2 5 0 0 0 -46 5M-42.7 -5A2.2 5 0 0 0 -42.7 5M-39.4 -5A2.2 5 0 0 0 -39.4 5M-36.1 -5A2.2 5 0 0 0 -36.1 5M-32.9 -5A2.2 5 0 0 0 -32.9 5M-29.6 -5A2.2 5 0 0 0 -29.6 5M-26.3 -5A2.2 5 0 0 0 -26.3 5M-23 -5A2.2 5 0 0 0 -23 5M-19.7 -5A2.2 5 0 0 0 -19.7 5M-16.4 -5A2.2 5 0 0 0 -16.4 5M-13.1 -5A2.2 5 0 0 0 -13.1 5M-9.9 -5A2.2 5 0 0 0 -9.9 5M-6.6 -5A2.2 5 0 0 0 -6.6 5M-3.3 -5A2.2 5 0 0 0 -3.3 5M0 -5A2.2 5 0 0 0 0 5" fill="none" stroke="#111" stroke-width="2.2"/><path class="k" d="M10 -11.5L0 -11.5A5.2 11.5 0 0 0 0 11.5L10 11.5A5.2 11.5 0 0 0 10 -11.5Z"/><ellipse class="k" cx="10" cy="0" rx="5.2" ry="11.5"/><ellipse class="t" cx="10" cy="0" rx="4.1" ry="9.2"/><path class="t" d="M12.2 2.9L10 5.8L7.8 2.9L7.8 -2.9L10 -5.8L12.2 -2.9Z"/></g>
<g transform="translate(2844.9,624.6) rotate(29.7)"><path class="k" d="M0 -5L-46.2 -5A2.2 5 0 0 0 -46.2 5L0 5A2.2 5 0 0 0 0 -5Z"/><path d="M-46.2 -5A2.2 5 0 0 0 -46.2 5M-42.9 -5A2.2 5 0 0 0 -42.9 5M-39.6 -5A2.2 5 0 0 0 -39.6 5M-36.3 -5A2.2 5 0 0 0 -36.3 5M-33 -5A2.2 5 0 0 0 -33 5M-29.7 -5A2.2 5 0 0 0 -29.7 5M-26.4 -5A2.2 5 0 0 0 -26.4 5M-23.1 -5A2.2 5 0 0 0 -23.1 5M-19.8 -5A2.2 5 0 0 0 -19.8 5M-16.5 -5A2.2 5 0 0 0 -16.5 5M-13.2 -5A2.2 5 0 0 0 -13.2 5M-9.9 -5A2.2 5 0 0 0 -9.9 5M-6.6 -5A2.2 5 0 0 0 -6.6 5M-3.3 -5A2.2 5 0 0 0 -3.3 5M0 -5A2.2 5 0 0 0 0 5" fill="none" stroke="#111" stroke-width="2.2"/><path class="k" d="M10 -11.5L0 -11.5A5.2 11.5 0 0 0 0 11.5L10 11.5A5.2 11.5 0 0 0 10 -11.5Z"/><ellipse class="k" cx="10" cy="0" rx="5.2" ry="11.5"/><ellipse class="t" cx="10" cy="0" rx="4.1" ry="9.2"/><path class="t" d="M12.2 2.9L10 5.8L7.8 2.9L7.8 -2.9L10 -5.8L12.2 -2.9Z"/></g>
<g transform="translate(2820.9,649.6) rotate(29.9)"><path class="k" d="M0 -5L-46.3 -5A2.2 5 0 0 0 -46.3 5L0 5A2.2 5 0 0 0 0 -5Z"/><path d="M-46.3 -5A2.2 5 0 0 0 -46.3 5M-43 -5A2.2 5 0 0 0 -43 5M-39.7 -5A2.2 5 0 0 0 -39.7 5M-36.4 -5A2.2 5 0 0 0 -36.4 5M-33.1 -5A2.2 5 0 0 0 -33.1 5M-29.8 -5A2.2 5 0 0 0 -29.8 5M-26.5 -5A2.2 5 0 0 0 -26.5 5M-23.2 -5A2.2 5 0 0 0 -23.2 5M-19.8 -5A2.2 5 0 0 0 -19.8 5M-16.5 -5A2.2 5 0 0 0 -16.5 5M-13.2 -5A2.2 5 0 0 0 -13.2 5M-9.9 -5A2.2 5 0 0 0 -9.9 5M-6.6 -5A2.2 5 0 0 0 -6.6 5M-3.3 -5A2.2 5 0 0 0 -3.3 5M0 -5A2.2 5 0 0 0 0 5" fill="none" stroke="#111" stroke-width="2.2"/><path class="k" d="M10 -11.5L0 -11.5A5.2 11.5 0 0 0 0 11.5L10 11.5A5.2 11.5 0 0 0 10 -11.5Z"/><ellipse class="k" cx="10" cy="0" rx="5.2" ry="11.5"/><ellipse class="t" cx="10" cy="0" rx="4.1" ry="9.2"/><path class="t" d="M12.2 2.9L10 5.8L7.8 2.9L7.8 -2.9L10 -5.8L12.2 -2.9Z"/></g>
<g transform="translate(2816.3,681.9) rotate(28.7)"><path class="k" d="M0 -5L-46 -5A2.2 5 0 0 0 -46 5L0 5A2.2 5 0 0 0 0 -5Z"/><path d="M-46 -5A2.2 5 0 0 0 -46 5M-42.7 -5A2.2 5 0 0 0 -42.7 5M-39.4 -5A2.2 5 0 0 0 -39.4 5M-36.1 -5A2.2 5 0 0 0 -36.1 5M-32.8 -5A2.2 5 0 0 0 -32.8 5M-29.6 -5A2.2 5 0 0 0 -29.6 5M-26.3 -5A2.2 5 0 0 0 -26.3 5M-23 -5A2.2 5 0 0 0 -23 5M-19.7 -5A2.2 5 0 0 0 -19.7 5M-16.4 -5A2.2 5 0 0 0 -16.4 5M-13.1 -5A2.2 5 0 0 0 -13.1 5M-9.9 -5A2.2 5 0 0 0 -9.9 5M-6.6 -5A2.2 5 0 0 0 -6.6 5M-3.3 -5A2.2 5 0 0 0 -3.3 5M0 -5A2.2 5 0 0 0 0 5" fill="none" stroke="#111" stroke-width="2.2"/><path class="k" d="M10 -11.5L0 -11.5A5.2 11.5 0 0 0 0 11.5L10 11.5A5.2 11.5 0 0 0 10 -11.5Z"/><ellipse class="k" cx="10" cy="0" rx="5.2" ry="11.5"/><ellipse class="t" cx="10" cy="0" rx="4.1" ry="9.2"/><path class="t" d="M12.2 2.9L10 5.8L7.8 2.9L7.8 -2.9L10 -5.8L12.2 -2.9Z"/></g>
<g transform="translate(1118,1044.3) rotate(27.6)"><path class="k" d="M0 -18.5L-4 -18.5A8.3 18.5 0 0 0 -4 18.5L0 18.5A8.3 18.5 0 0 0 0 -18.5Z"/><ellipse class="k" cx="0" cy="0" rx="8.3" ry="18.5"/><ellipse class="t" cx="0" cy="0" rx="6.7" ry="14.8"/><path class="k" d="M0 -7.5L137 -7.5A3.4 7.5 0 0 1 137 7.5L0 7.5A3.4 7.5 0 0 1 0 -7.5Z"/><path d="M0 -7.5A3.4 7.5 0 0 1 0 7.5M3.3 -7.5A3.4 7.5 0 0 1 3.3 7.5M6.5 -7.5A3.4 7.5 0 0 1 6.5 7.5M9.8 -7.5A3.4 7.5 0 0 1 9.8 7.5M13 -7.5A3.4 7.5 0 0 1 13 7.5M16.3 -7.5A3.4 7.5 0 0 1 16.3 7.5M19.6 -7.5A3.4 7.5 0 0 1 19.6 7.5M22.8 -7.5A3.4 7.5 0 0 1 22.8 7.5M26.1 -7.5A3.4 7.5 0 0 1 26.1 7.5M29.4 -7.5A3.4 7.5 0 0 1 29.4 7.5M32.6 -7.5A3.4 7.5 0 0 1 32.6 7.5M35.9 -7.5A3.4 7.5 0 0 1 35.9 7.5M39.1 -7.5A3.4 7.5 0 0 1 39.1 7.5M42.4 -7.5A3.4 7.5 0 0 1 42.4 7.5M45.7 -7.5A3.4 7.5 0 0 1 45.7 7.5M48.9 -7.5A3.4 7.5 0 0 1 48.9 7.5M52.2 -7.5A3.4 7.5 0 0 1 52.2 7.5M55.5 -7.5A3.4 7.5 0 0 1 55.5 7.5M58.7 -7.5A3.4 7.5 0 0 1 58.7 7.5M62 -7.5A3.4 7.5 0 0 1 62 7.5M65.2 -7.5A3.4 7.5 0 0 1 65.2 7.5M68.5 -7.5A3.4 7.5 0 0 1 68.5 7.5M71.8 -7.5A3.4 7.5 0 0 1 71.8 7.5M75 -7.5A3.4 7.5 0 0 1 75 7.5M78.3 -7.5A3.4 7.5 0 0 1 78.3 7.5M81.5 -7.5A3.4 7.5 0 0 1 81.5 7.5M84.8 -7.5A3.4 7.5 0 0 1 84.8 7.5M88.1 -7.5A3.4 7.5 0 0 1 88.1 7.5M91.3 -7.5A3.4 7.5 0 0 1 91.3 7.5M94.6 -7.5A3.4 7.5 0 0 1 94.6 7.5M97.9 -7.5A3.4 7.5 0 0 1 97.9 7.5M101.1 -7.5A3.4 7.5 0 0 1 101.1 7.5M104.4 -7.5A3.4 7.5 0 0 1 104.4 7.5M107.6 -7.5A3.4 7.5 0 0 1 107.6 7.5M110.9 -7.5A3.4 7.5 0 0 1 110.9 7.5M114.2 -7.5A3.4 7.5 0 0 1 114.2 7.5M117.4 -7.5A3.4 7.5 0 0 1 117.4 7.5M120.7 -7.5A3.4 7.5 0 0 1 120.7 7.5M124 -7.5A3.4 7.5 0 0 1 124 7.5M127.2 -7.5A3.4 7.5 0 0 1 127.2 7.5M130.5 -7.5A3.4 7.5 0 0 1 130.5 7.5M133.7 -7.5A3.4 7.5 0 0 1 133.7 7.5M137 -7.5A3.4 7.5 0 0 1 137 7.5" fill="none" stroke="#111" stroke-width="2.2"/><ellipse class="k" cx="137" cy="0" rx="2.7" ry="6"/></g>
<g transform="translate(2111.5,1566) rotate(28.6)"><path class="k" d="M0 -7.5L-129.9 -7.5A3.4 7.5 0 0 0 -129.9 7.5L0 7.5A3.4 7.5 0 0 0 0 -7.5Z"/><path d="M-129.9 -7.5A3.4 7.5 0 0 0 -129.9 7.5M-126.7 -7.5A3.4 7.5 0 0 0 -126.7 7.5M-123.4 -7.5A3.4 7.5 0 0 0 -123.4 7.5M-120.2 -7.5A3.4 7.5 0 0 0 -120.2 7.5M-117 -7.5A3.4 7.5 0 0 0 -117 7.5M-113.7 -7.5A3.4 7.5 0 0 0 -113.7 7.5M-110.5 -7.5A3.4 7.5 0 0 0 -110.5 7.5M-107.2 -7.5A3.4 7.5 0 0 0 -107.2 7.5M-104 -7.5A3.4 7.5 0 0 0 -104 7.5M-100.7 -7.5A3.4 7.5 0 0 0 -100.7 7.5M-97.5 -7.5A3.4 7.5 0 0 0 -97.5 7.5M-94.2 -7.5A3.4 7.5 0 0 0 -94.2 7.5M-91 -7.5A3.4 7.5 0 0 0 -91 7.5M-87.7 -7.5A3.4 7.5 0 0 0 -87.7 7.5M-84.5 -7.5A3.4 7.5 0 0 0 -84.5 7.5M-81.2 -7.5A3.4 7.5 0 0 0 -81.2 7.5M-78 -7.5A3.4 7.5 0 0 0 -78 7.5M-74.7 -7.5A3.4 7.5 0 0 0 -74.7 7.5M-71.5 -7.5A3.4 7.5 0 0 0 -71.5 7.5M-68.2 -7.5A3.4 7.5 0 0 0 -68.2 7.5M-65 -7.5A3.4 7.5 0 0 0 -65 7.5M-61.7 -7.5A3.4 7.5 0 0 0 -61.7 7.5M-58.5 -7.5A3.4 7.5 0 0 0 -58.5 7.5M-55.2 -7.5A3.4 7.5 0 0 0 -55.2 7.5M-52 -7.5A3.4 7.5 0 0 0 -52 7.5M-48.7 -7.5A3.4 7.5 0 0 0 -48.7 7.5M-45.5 -7.5A3.4 7.5 0 0 0 -45.5 7.5M-42.2 -7.5A3.4 7.5 0 0 0 -42.2 7.5M-39 -7.5A3.4 7.5 0 0 0 -39 7.5M-35.7 -7.5A3.4 7.5 0 0 0 -35.7 7.5M-32.5 -7.5A3.4 7.5 0 0 0 -32.5 7.5M-29.2 -7.5A3.4 7.5 0 0 0 -29.2 7.5M-26 -7.5A3.4 7.5 0 0 0 -26 7.5M-22.7 -7.5A3.4 7.5 0 0 0 -22.7 7.5M-19.5 -7.5A3.4 7.5 0 0 0 -19.5 7.5M-16.2 -7.5A3.4 7.5 0 0 0 -16.2 7.5M-13 -7.5A3.4 7.5 0 0 0 -13 7.5M-9.7 -7.5A3.4 7.5 0 0 0 -9.7 7.5M-6.5 -7.5A3.4 7.5 0 0 0 -6.5 7.5M-3.2 -7.5A3.4 7.5 0 0 0 -3.2 7.5M0 -7.5A3.4 7.5 0 0 0 0 7.5" fill="none" stroke="#111" stroke-width="2.2"/><path class="k" d="M0 -19.5C7 -19.5 13 -10.7 13 0C13 10.7 7 19.5 0 19.5A8.8 19.5 0 0 1 0 -19.5Z"/><ellipse class="t" cx="5.5" cy="0" rx="5.4" ry="12.1"/><path class="t" d="M8.7 3.5L6 7L3.3 3.5L3.3 -3.5L6 -7L8.7 -3.5Z"/></g>
<g transform="translate(2620.4,1893.4) rotate(28.2)"><path class="k" d="M0 -7.5L-131.5 -7.5A3.4 7.5 0 0 0 -131.5 7.5L0 7.5A3.4 7.5 0 0 0 0 -7.5Z"/><path d="M-131.5 -7.5A3.4 7.5 0 0 0 -131.5 7.5M-128.3 -7.5A3.4 7.5 0 0 0 -128.3 7.5M-125.1 -7.5A3.4 7.5 0 0 0 -125.1 7.5M-121.9 -7.5A3.4 7.5 0 0 0 -121.9 7.5M-118.7 -7.5A3.4 7.5 0 0 0 -118.7 7.5M-115.5 -7.5A3.4 7.5 0 0 0 -115.5 7.5M-112.3 -7.5A3.4 7.5 0 0 0 -112.3 7.5M-109.1 -7.5A3.4 7.5 0 0 0 -109.1 7.5M-105.9 -7.5A3.4 7.5 0 0 0 -105.9 7.5M-102.7 -7.5A3.4 7.5 0 0 0 -102.7 7.5M-99.4 -7.5A3.4 7.5 0 0 0 -99.4 7.5M-96.2 -7.5A3.4 7.5 0 0 0 -96.2 7.5M-93 -7.5A3.4 7.5 0 0 0 -93 7.5M-89.8 -7.5A3.4 7.5 0 0 0 -89.8 7.5M-86.6 -7.5A3.4 7.5 0 0 0 -86.6 7.5M-83.4 -7.5A3.4 7.5 0 0 0 -83.4 7.5M-80.2 -7.5A3.4 7.5 0 0 0 -80.2 7.5M-77 -7.5A3.4 7.5 0 0 0 -77 7.5M-73.8 -7.5A3.4 7.5 0 0 0 -73.8 7.5M-70.6 -7.5A3.4 7.5 0 0 0 -70.6 7.5M-67.4 -7.5A3.4 7.5 0 0 0 -67.4 7.5M-64.2 -7.5A3.4 7.5 0 0 0 -64.2 7.5M-61 -7.5A3.4 7.5 0 0 0 -61 7.5M-57.7 -7.5A3.4 7.5 0 0 0 -57.7 7.5M-54.5 -7.5A3.4 7.5 0 0 0 -54.5 7.5M-51.3 -7.5A3.4 7.5 0 0 0 -51.3 7.5M-48.1 -7.5A3.4 7.5 0 0 0 -48.1 7.5M-44.9 -7.5A3.4 7.5 0 0 0 -44.9 7.5M-41.7 -7.5A3.4 7.5 0 0 0 -41.7 7.5M-38.5 -7.5A3.4 7.5 0 0 0 -38.5 7.5M-35.3 -7.5A3.4 7.5 0 0 0 -35.3 7.5M-32.1 -7.5A3.4 7.5 0 0 0 -32.1 7.5M-28.9 -7.5A3.4 7.5 0 0 0 -28.9 7.5M-25.7 -7.5A3.4 7.5 0 0 0 -25.7 7.5M-22.5 -7.5A3.4 7.5 0 0 0 -22.5 7.5M-19.2 -7.5A3.4 7.5 0 0 0 -19.2 7.5M-16 -7.5A3.4 7.5 0 0 0 -16 7.5M-12.8 -7.5A3.4 7.5 0 0 0 -12.8 7.5M-9.6 -7.5A3.4 7.5 0 0 0 -9.6 7.5M-6.4 -7.5A3.4 7.5 0 0 0 -6.4 7.5M-3.2 -7.5A3.4 7.5 0 0 0 -3.2 7.5M0 -7.5A3.4 7.5 0 0 0 0 7.5" fill="none" stroke="#111" stroke-width="2.2"/><path class="k" d="M0 -19.5C7 -19.5 13 -10.7 13 0C13 10.7 7 19.5 0 19.5A8.8 19.5 0 0 1 0 -19.5Z"/><ellipse class="t" cx="5.5" cy="0" rx="5.4" ry="12.1"/><path class="t" d="M8.7 3.5L6 7L3.3 3.5L3.3 -3.5L6 -7L8.7 -3.5Z"/></g>
<g transform="translate(689.2,1115.4) rotate(145.7)"><path class="k" d="M-7 -6.6L-49 -6.6A3 6.6 0 0 0 -49 6.6L-7 6.6A3 6.6 0 0 0 -7 -6.6Z"/><path d="M-49 -6.6A3 6.6 0 0 0 -49 6.6M-45.8 -6.6A3 6.6 0 0 0 -45.8 6.6M-42.5 -6.6A3 6.6 0 0 0 -42.5 6.6M-39.3 -6.6A3 6.6 0 0 0 -39.3 6.6M-36.1 -6.6A3 6.6 0 0 0 -36.1 6.6M-32.8 -6.6A3 6.6 0 0 0 -32.8 6.6M-29.6 -6.6A3 6.6 0 0 0 -29.6 6.6M-26.4 -6.6A3 6.6 0 0 0 -26.4 6.6M-23.2 -6.6A3 6.6 0 0 0 -23.2 6.6M-19.9 -6.6A3 6.6 0 0 0 -19.9 6.6M-16.7 -6.6A3 6.6 0 0 0 -16.7 6.6M-13.5 -6.6A3 6.6 0 0 0 -13.5 6.6M-10.2 -6.6A3 6.6 0 0 0 -10.2 6.6M-7 -6.6A3 6.6 0 0 0 -7 6.6" fill="none" stroke="#111" stroke-width="2.2"/><path class="k" d="M0 -21L-8 -6.6A3 6.6 0 0 0 -8 6.6L0 21A9.5 21 0 0 0 0 -21Z"/><ellipse class="k" cx="0" cy="0" rx="9.5" ry="21"/><ellipse class="t" cx="0" cy="0" rx="8" ry="17.8"/><path class="t" d="M3.1 4L0 8L-3.1 4L-3.1 -4L0 -8L3.1 -4Z"/></g>
<g transform="translate(742,1258.3) rotate(152)"><path class="k" d="M0 -21L-3 -21A9.5 21 0 0 0 -3 21L0 21A9.5 21 0 0 0 0 -21Z"/><ellipse class="k" cx="0" cy="0" rx="9.5" ry="21"/><path class="k" d="M8 -6.6L0 -18.9A8.5 18.9 0 0 0 0 18.9L8 6.6A3 6.6 0 0 0 8 -6.6Z"/><ellipse class="k" cx="8" cy="0" rx="3" ry="6.6"/><path class="k" d="M7 -6.6L40 -6.6A3 6.6 0 0 1 40 6.6L7 6.6A3 6.6 0 0 1 7 -6.6Z"/><path d="M7 -6.6A3 6.6 0 0 1 7 6.6M10.3 -6.6A3 6.6 0 0 1 10.3 6.6M13.6 -6.6A3 6.6 0 0 1 13.6 6.6M16.9 -6.6A3 6.6 0 0 1 16.9 6.6M20.2 -6.6A3 6.6 0 0 1 20.2 6.6M23.5 -6.6A3 6.6 0 0 1 23.5 6.6M26.8 -6.6A3 6.6 0 0 1 26.8 6.6M30.1 -6.6A3 6.6 0 0 1 30.1 6.6M33.4 -6.6A3 6.6 0 0 1 33.4 6.6M36.7 -6.6A3 6.6 0 0 1 36.7 6.6M40 -6.6A3 6.6 0 0 1 40 6.6" fill="none" stroke="#111" stroke-width="2.2"/><ellipse class="k" cx="40" cy="0" rx="2.4" ry="5.3"/></g>
<g transform="translate(1276,771.7) rotate(-84.5)"><path class="k" d="M45.1 -8.8L0 -8.8A3.5 8.8 0 0 0 0 8.8L45.1 8.8A3.5 8.8 0 0 0 45.1 -8.8Z"/><ellipse class="k" cx="45.1" cy="0" rx="3.5" ry="8.8"/><path class="k" d="M45.1 -14.5L76.1 -14.5A5.8 14.5 0 0 1 76.1 14.5L45.1 14.5A5.8 14.5 0 0 1 45.1 -14.5Z"/><path d="M45.1 -14.5A5.8 14.5 0 0 1 45.1 14.5M50.2 -14.5A5.8 14.5 0 0 1 50.2 14.5M55.4 -14.5A5.8 14.5 0 0 1 55.4 14.5M60.6 -14.5A5.8 14.5 0 0 1 60.6 14.5M65.7 -14.5A5.8 14.5 0 0 1 65.7 14.5M70.9 -14.5A5.8 14.5 0 0 1 70.9 14.5M76.1 -14.5A5.8 14.5 0 0 1 76.1 14.5" fill="none" stroke="#111" stroke-width="3.5"/><ellipse class="k" cx="76.1" cy="0" rx="5.8" ry="14.5"/><ellipse class="t" cx="76.1" cy="0" rx="4.1" ry="10.1"/><path class="t" d="M78.2 3L76.1 6.1L73.9 3L73.9 -3L76.1 -6.1L78.2 -3Z"/></g>
<g transform="translate(153.4,1506.5) rotate(-89.1)"><path class="k" d="M41.1 -8.8L0 -8.8A3.5 8.8 0 0 0 0 8.8L41.1 8.8A3.5 8.8 0 0 0 41.1 -8.8Z"/><ellipse class="k" cx="41.1" cy="0" rx="3.5" ry="8.8"/><path class="k" d="M41.1 -14.5L72.1 -14.5A5.8 14.5 0 0 1 72.1 14.5L41.1 14.5A5.8 14.5 0 0 1 41.1 -14.5Z"/><path d="M41.1 -14.5A5.8 14.5 0 0 1 41.1 14.5M46.3 -14.5A5.8 14.5 0 0 1 46.3 14.5M51.4 -14.5A5.8 14.5 0 0 1 51.4 14.5M56.6 -14.5A5.8 14.5 0 0 1 56.6 14.5M61.8 -14.5A5.8 14.5 0 0 1 61.8 14.5M66.9 -14.5A5.8 14.5 0 0 1 66.9 14.5M72.1 -14.5A5.8 14.5 0 0 1 72.1 14.5" fill="none" stroke="#111" stroke-width="3.5"/><ellipse class="k" cx="72.1" cy="0" rx="5.8" ry="14.5"/><ellipse class="t" cx="72.1" cy="0" rx="4.1" ry="10.1"/><path class="t" d="M74.2 3L72.1 6.1L70 3L70 -3L72.1 -6.1L74.2 -3Z"/></g>
<g transform="translate(1111.1,833.8) rotate(-85.1)"><path class="k" d="M68.7 -7.2L0 -7.2A2.9 7.2 0 0 0 0 7.2L68.7 7.2A2.9 7.2 0 0 0 68.7 -7.2Z"/><ellipse class="k" cx="68.7" cy="0" rx="2.9" ry="7.2"/><ellipse class="t" cx="68.7" cy="0" rx="1.7" ry="4.3"/></g>
<g transform="translate(307.4,1613.7) rotate(-90)"><path class="k" d="M64.7 -7.2L0 -7.2A2.9 7.2 0 0 0 0 7.2L64.7 7.2A2.9 7.2 0 0 0 64.7 -7.2Z"/><ellipse class="k" cx="64.7" cy="0" rx="2.9" ry="7.2"/><ellipse class="t" cx="64.7" cy="0" rx="1.7" ry="4.3"/></g>
<g transform="translate(1067.9,488.5) rotate(-20.2)"><path class="k" d="M0 -8L61.1 -8A4 8 0 0 1 61.1 8L0 8A4 8 0 0 1 0 -8Z"/><ellipse class="k" cx="0" cy="0" rx="4" ry="8"/><ellipse class="t" cx="0" cy="0" rx="2.4" ry="4.8"/></g>
<g transform="translate(2463.7,1199.8) rotate(-19.6)"><path class="k" d="M0 -8L60.8 -8A4 8 0 0 1 60.8 8L0 8A4 8 0 0 1 0 -8Z"/><ellipse class="k" cx="0" cy="0" rx="4" ry="8"/><ellipse class="t" cx="0" cy="0" rx="2.4" ry="4.8"/></g>
<!-- p_20_rodends -->
<g transform="translate(1294.5,1137.5) rotate(0)"><path class="w" d="M-20.1 -29.6C-18.4 -31.1 -14.5 -35 -12.7 -35.9C-10.9 -36.7 -4.3 -38.2 -2.1 -38C0.1 -37.8 7.6 -35.3 9.5 -33.8C11.4 -32.3 16 -25.5 16.9 -23.2C17.8 -20.9 18.7 -13.3 18.5 -10.6C18.3 -7.8 16.1 1.3 14.8 4.2C13.5 7.2 7.2 16.8 5.3 19C3.4 21.2 -2.3 25 -4.2 26.4C-6.1 27.8 -11.5 31.1 -13.7 32.7C-15.9 34.3 -24.9 40.4 -26.4 42.2C-27.9 44 -26.7 48.5 -28.5 50.7C-30.3 52.8 -41.1 62.2 -44.3 63.9C-47.6 65.5 -57.9 66.6 -61.2 67.5C-64.5 68.4 -73.9 73.6 -77 72.8C-80.2 72.1 -91.3 63.9 -92.9 60.2C-94.5 56.5 -93.4 39.3 -92.9 35.9C-92.4 32.5 -88.5 28 -88.1 26.4C-87.7 24.8 -90.1 21.7 -88.7 20.1C-87.2 18.4 -76.8 11 -73.9 9.5C-70.9 8 -61.4 6.8 -59.1 5.3C-56.8 3.8 -52.3 -3.6 -50.7 -5.3C-49 -7 -44.3 -10.1 -42.2 -11.6C-40.1 -13.1 -31.8 -18.3 -29.6 -20.1C-27.3 -21.8 -21.7 -28 -20.1 -29.6Z"/><path class="n" d="M-20.1 -29.6C-18.8 -30.6 -15.7 -34.5 -12.7 -35.9C-9.7 -37.3 -5.8 -38.3 -2.1 -38C1.6 -37.6 6.3 -36.2 9.5 -33.8C12.7 -31.3 15.4 -27.1 16.9 -23.2C18.4 -19.3 18.8 -15.1 18.5 -10.6C18.1 -6 17 -0.7 14.8 4.2C12.6 9.1 8.4 15.3 5.3 19C2.1 22.7 -1.1 24.5 -4.2 26.4C-7.4 28.3 -12.1 29.9 -13.7 30.6"/><path class="t" d="M-14.8 -12.7C-13.7 -14.4 -11.1 -20.8 -8.4 -23.2C-5.8 -25.7 -1.9 -27.3 1.1 -27.4C4 -27.6 7.6 -26.7 9.5 -24.3C11.4 -21.8 12.5 -16.9 12.7 -12.7C12.8 -8.4 12.1 -3.5 10.6 1.1C9 5.6 5.8 11.3 3.2 14.8C0.5 18.3 -2.6 20.4 -5.3 22.2C-7.9 23.9 -11.4 24.8 -12.7 25.3"/><path class="n" d="M-14.8 -12.7L-16.9 -3.2L-14.8 36.9"/><path class="t" d="M-13.2 -10.6L-12.1 32.7"/><path class="t" d="M-20.1 -29.6L-6.3 -23.2L-3.2 -21.6"/><ellipse class="n" cx="0" cy="0" rx="10" ry="17.9" transform="rotate(25 0 0)"/><ellipse class="t" cx="0" cy="0" rx="8.2" ry="15.8" transform="rotate(25 0 0)"/><path class="n" d="M-20.1 -29.6C-21.6 -28 -25.9 -23 -29.6 -20.1C-33.2 -17.1 -38.7 -14.1 -42.2 -11.6C-45.7 -9.1 -48.4 -7.4 -50.7 -5.3C-52.9 -3.2 -55.1 0 -55.9 1.1"/><path class="t" d="M-55.9 1.1C-54.4 0.2 -49.6 -3.7 -46.4 -4.2C-43.3 -4.7 -39.8 -3.7 -36.9 -2.1C-34.1 -0.5 -31.7 2.3 -29.6 5.3C-27.4 8.3 -25 12.3 -24.3 15.8C-23.6 19.3 -25.2 24.6 -25.3 26.4"/><path class="t" d="M-48.5 5.3C-46.8 6.3 -40.8 9 -38 11.6C-35.2 14.2 -33.1 17.6 -31.7 21.1C-30.3 24.6 -29.9 30.8 -29.6 32.7"/><path class="n" d="M-26.4 42.2L-14.8 36.9"/><path class="n" d="M-88.1 26.4L-88.7 20.1L-73.9 9.5L-59.1 5.3L-50.7 6.3L-30.6 26.4L-28.5 50.7L-44.3 63.9L-61.2 67.5"/><path class="t" d="M-88.7 20.1L-65.4 16.9L-50.7 6.3"/><path class="t" d="M-65.4 16.9L-44.3 36.9L-44.3 63.9"/><path class="t" d="M-44.3 36.9L-30.6 26.4"/><path class="n" d="M-88.1 26.4L-92.9 35.9"/><path class="n" d="M-77 72.8L-61.2 67.5"/><ellipse class="k" cx="-80.2" cy="53.8" rx="11.6" ry="20.1" transform="rotate(-25 -80.2 53.8)"/><ellipse class="t" cx="-80.2" cy="53.8" rx="9.5" ry="16.9" transform="rotate(-25 -80.2 53.8)"/><ellipse class="n" cx="-80.2" cy="53.8" rx="7.6" ry="13.9" transform="rotate(-25 -80.2 53.8)"/></g>
<g transform="translate(1727.5,1360.4) rotate(0)"><path class="w" d="M-22.2 -31.6C-20 -33.3 -16.3 -37.4 -14.4 -38.2C-12.5 -39.1 -5.8 -40.2 -3.3 -39.9C-0.9 -39.6 7.8 -36.5 10 -34.9C12.2 -33.3 17.7 -26.3 18.8 -23.8C20 -21.4 21.3 -13.5 21.1 -10.5C20.8 -7.5 18.2 3 16.6 6.1C15.1 9.2 7.8 18.4 5.5 20.5C3.3 22.6 -2.8 25.6 -5.5 27.2C-8.3 28.7 -18.5 33.9 -22.2 36C-25.8 38.1 -38.4 46.3 -42.1 48.2C-45.9 50.1 -58 53.5 -59.9 54.9C-61.8 56.2 -58.7 59.8 -61 61.5C-63.2 63.2 -79.3 71.3 -82.6 72.1C-85.9 72.8 -91.1 68.3 -94.2 68.7C-97.4 69.1 -110.6 76.7 -114.2 75.9C-117.7 75.2 -128 65.4 -129.7 61.5C-131.4 57.7 -132.6 41.1 -130.8 37.7C-129 34.3 -113.7 28.8 -112 27.2C-110.2 25.6 -115.4 23.2 -113.1 21.6C-110.8 20 -92.4 11.8 -88.7 11.1C-85 10.4 -78.6 15.8 -76.5 15C-74.4 14.1 -70 5 -67.6 2.8C-65.3 0.6 -56.3 -4.8 -53.2 -7.2C-50.1 -9.6 -39.7 -19.2 -36.6 -21.6C-33.5 -24.1 -24.4 -29.9 -22.2 -31.6Z"/><path class="n" d="M-22.2 -31.6C-20.9 -32.7 -17.6 -36.9 -14.4 -38.2C-11.3 -39.6 -7.4 -40.5 -3.3 -39.9C0.7 -39.4 6.3 -37.6 10 -34.9C13.7 -32.2 17 -27.9 18.8 -23.8C20.7 -19.8 21.4 -15.5 21.1 -10.5C20.7 -5.5 19.2 0.9 16.6 6.1C14 11.3 9.2 17 5.5 20.5C1.8 24 -1.8 25.3 -5.5 27.2C-9.2 29 -14.8 30.9 -16.6 31.6"/><path class="t" d="M-11.6 -20C-10.4 -21.3 -7.3 -26.5 -4.4 -28.3C-1.6 -30 2.6 -31 5.5 -30.5C8.5 -29.9 11.5 -27.9 13.3 -24.9C15.2 -22 16.6 -17.6 16.6 -12.7C16.6 -7.9 15.3 -1.1 13.3 3.9C11.3 8.9 7.6 13.7 4.4 17.2C1.3 20.7 -2.2 22.9 -5.5 24.9C-8.9 27 -13.9 28.6 -15.5 29.4"/><path class="t" d="M-21.1 -30.5L-11.6 -25.5L-8.3 -20.5"/><ellipse class="n" cx="0" cy="0" rx="11.6" ry="20" transform="rotate(25 0 0)"/><ellipse class="t" cx="0" cy="0" rx="10" ry="17.7" transform="rotate(25 0 0)"/><path class="n" d="M-22.2 -31.6C-24.6 -29.9 -31.4 -25.7 -36.6 -21.6C-41.8 -17.6 -48 -11.3 -53.2 -7.2C-58.4 -3.1 -63.4 -0.2 -67.6 2.8C-71.9 5.7 -76.9 9.2 -78.7 10.5"/><path class="n" d="M-11.6 -20C-14 -18 -20.4 -12.5 -25.5 -8.3C-30.6 -4.2 -36.6 1.1 -42.1 5C-47.7 8.9 -54.1 12.4 -58.8 15C-63.4 17.6 -68 19.6 -69.8 20.5"/><path class="t" d="M-20 -3.9C-22.7 -2 -31 3.7 -36.6 7.2C-42.1 10.7 -48 14.4 -53.2 17.2C-58.4 20 -65.2 22.7 -67.6 23.8"/><path class="t" d="M-68.7 25.5C-65.2 23.9 -55.1 20.2 -47.7 16.1C-40.3 11.9 -28.3 3.1 -24.4 0.6"/><path class="n" d="M-59.9 54.9C-56.9 53.8 -48.4 51.4 -42.1 48.2C-35.8 45.1 -28.6 39.5 -22.2 36C-15.7 32.5 -8.3 29.9 -3.3 27.2C1.7 24.4 5.9 20.7 7.8 19.4"/><path class="t" d="M-48.8 18.3C-48 20 -45.5 24.8 -44.3 28.3C-43.2 31.8 -42.4 36 -42.1 39.4C-41.9 42.7 -42.6 46.7 -42.7 48.2"/><path class="t" d="M-39.4 12.7C-38.5 14.4 -35.7 19.2 -34.4 22.7C-33.1 26.2 -32 30.5 -31.6 33.8C-31.2 37.1 -32.1 41.2 -32.2 42.7"/><path class="n" d="M-24.4 0.6L-22.2 33.8"/><path class="n" d="M-18.8 -2.8L-15.5 29.9"/><path class="n" d="M-112 27.2L-113.1 21.6L-88.7 11.1L-75.9 15L-69.8 21.6L-62.1 36L-59.9 54.9L-61 61.5L-82.6 72.1L-94.2 68.7"/><path class="t" d="M-113.1 21.6L-98.7 24.4L-75.9 15"/><path class="t" d="M-98.7 24.4C-97 26.5 -91.2 33.5 -88.7 37.1C-86.2 40.7 -84.7 40.2 -83.7 46C-82.7 51.8 -82.8 67.7 -82.6 72.1"/><path class="t" d="M-83.7 46L-62.1 36"/><path class="n" d="M-110.9 26.1L-130.8 37.7"/><path class="n" d="M-94.2 68.7L-114.2 75.9"/><ellipse class="k" cx="-119.7" cy="56.5" rx="11.6" ry="20.5" transform="rotate(-21 -119.7 56.5)"/><ellipse class="t" cx="-119.7" cy="56.5" rx="9.5" ry="17.7" transform="rotate(-21 -119.7 56.5)"/><ellipse class="n" cx="-119.7" cy="56.5" rx="7.8" ry="15" transform="rotate(-21 -119.7 56.5)"/></g>
<g transform="translate(1943.7,1469.5) rotate(0)"><path class="w" d="M-22.2 -31.6C-20 -33.3 -16.3 -37.4 -14.4 -38.2C-12.5 -39.1 -5.8 -40.2 -3.3 -39.9C-0.9 -39.6 7.8 -36.5 10 -34.9C12.2 -33.3 17.7 -26.3 18.8 -23.8C20 -21.4 21.3 -13.5 21.1 -10.5C20.8 -7.5 18.2 3 16.6 6.1C15.1 9.2 7.8 18.4 5.5 20.5C3.3 22.6 -2.8 25.6 -5.5 27.2C-8.3 28.7 -18.5 33.9 -22.2 36C-25.8 38.1 -38.4 46.3 -42.1 48.2C-45.9 50.1 -58 53.5 -59.9 54.9C-61.8 56.2 -58.7 59.8 -61 61.5C-63.2 63.2 -79.3 71.3 -82.6 72.1C-85.9 72.8 -91.1 68.3 -94.2 68.7C-97.4 69.1 -110.6 76.7 -114.2 75.9C-117.7 75.2 -128 65.4 -129.7 61.5C-131.4 57.7 -132.6 41.1 -130.8 37.7C-129 34.3 -113.7 28.8 -112 27.2C-110.2 25.6 -115.4 23.2 -113.1 21.6C-110.8 20 -92.4 11.8 -88.7 11.1C-85 10.4 -78.6 15.8 -76.5 15C-74.4 14.1 -70 5 -67.6 2.8C-65.3 0.6 -56.3 -4.8 -53.2 -7.2C-50.1 -9.6 -39.7 -19.2 -36.6 -21.6C-33.5 -24.1 -24.4 -29.9 -22.2 -31.6Z"/><path class="n" d="M-22.2 -31.6C-20.9 -32.7 -17.6 -36.9 -14.4 -38.2C-11.3 -39.6 -7.4 -40.5 -3.3 -39.9C0.7 -39.4 6.3 -37.6 10 -34.9C13.7 -32.2 17 -27.9 18.8 -23.8C20.7 -19.8 21.4 -15.5 21.1 -10.5C20.7 -5.5 19.2 0.9 16.6 6.1C14 11.3 9.2 17 5.5 20.5C1.8 24 -1.8 25.3 -5.5 27.2C-9.2 29 -14.8 30.9 -16.6 31.6"/><path class="t" d="M-11.6 -20C-10.4 -21.3 -7.3 -26.5 -4.4 -28.3C-1.6 -30 2.6 -31 5.5 -30.5C8.5 -29.9 11.5 -27.9 13.3 -24.9C15.2 -22 16.6 -17.6 16.6 -12.7C16.6 -7.9 15.3 -1.1 13.3 3.9C11.3 8.9 7.6 13.7 4.4 17.2C1.3 20.7 -2.2 22.9 -5.5 24.9C-8.9 27 -13.9 28.6 -15.5 29.4"/><path class="t" d="M-21.1 -30.5L-11.6 -25.5L-8.3 -20.5"/><ellipse class="n" cx="0" cy="0" rx="11.6" ry="20" transform="rotate(25 0 0)"/><ellipse class="t" cx="0" cy="0" rx="10" ry="17.7" transform="rotate(25 0 0)"/><path class="n" d="M-22.2 -31.6C-24.6 -29.9 -31.4 -25.7 -36.6 -21.6C-41.8 -17.6 -48 -11.3 -53.2 -7.2C-58.4 -3.1 -63.4 -0.2 -67.6 2.8C-71.9 5.7 -76.9 9.2 -78.7 10.5"/><path class="n" d="M-11.6 -20C-14 -18 -20.4 -12.5 -25.5 -8.3C-30.6 -4.2 -36.6 1.1 -42.1 5C-47.7 8.9 -54.1 12.4 -58.8 15C-63.4 17.6 -68 19.6 -69.8 20.5"/><path class="t" d="M-20 -3.9C-22.7 -2 -31 3.7 -36.6 7.2C-42.1 10.7 -48 14.4 -53.2 17.2C-58.4 20 -65.2 22.7 -67.6 23.8"/><path class="t" d="M-68.7 25.5C-65.2 23.9 -55.1 20.2 -47.7 16.1C-40.3 11.9 -28.3 3.1 -24.4 0.6"/><path class="n" d="M-59.9 54.9C-56.9 53.8 -48.4 51.4 -42.1 48.2C-35.8 45.1 -28.6 39.5 -22.2 36C-15.7 32.5 -8.3 29.9 -3.3 27.2C1.7 24.4 5.9 20.7 7.8 19.4"/><path class="t" d="M-48.8 18.3C-48 20 -45.5 24.8 -44.3 28.3C-43.2 31.8 -42.4 36 -42.1 39.4C-41.9 42.7 -42.6 46.7 -42.7 48.2"/><path class="t" d="M-39.4 12.7C-38.5 14.4 -35.7 19.2 -34.4 22.7C-33.1 26.2 -32 30.5 -31.6 33.8C-31.2 37.1 -32.1 41.2 -32.2 42.7"/><path class="n" d="M-24.4 0.6L-22.2 33.8"/><path class="n" d="M-18.8 -2.8L-15.5 29.9"/><path class="n" d="M-112 27.2L-113.1 21.6L-88.7 11.1L-75.9 15L-69.8 21.6L-62.1 36L-59.9 54.9L-61 61.5L-82.6 72.1L-94.2 68.7"/><path class="t" d="M-113.1 21.6L-98.7 24.4L-75.9 15"/><path class="t" d="M-98.7 24.4C-97 26.5 -91.2 33.5 -88.7 37.1C-86.2 40.7 -84.7 40.2 -83.7 46C-82.7 51.8 -82.8 67.7 -82.6 72.1"/><path class="t" d="M-83.7 46L-62.1 36"/><path class="n" d="M-110.9 26.1L-130.8 37.7"/><path class="n" d="M-94.2 68.7L-114.2 75.9"/><ellipse class="k" cx="-119.7" cy="56.5" rx="11.6" ry="20.5" transform="rotate(-21 -119.7 56.5)"/><ellipse class="t" cx="-119.7" cy="56.5" rx="9.5" ry="17.7" transform="rotate(-21 -119.7 56.5)"/><ellipse class="n" cx="-119.7" cy="56.5" rx="7.8" ry="15" transform="rotate(-21 -119.7 56.5)"/></g>
<g transform="translate(2437.8,1793.3) rotate(0)"><path class="w" d="M-22.2 -31.6C-20 -33.3 -16.3 -37.4 -14.4 -38.2C-12.5 -39.1 -5.8 -40.2 -3.3 -39.9C-0.9 -39.6 7.8 -36.5 10 -34.9C12.2 -33.3 17.7 -26.3 18.8 -23.8C20 -21.4 21.3 -13.5 21.1 -10.5C20.8 -7.5 18.2 3 16.6 6.1C15.1 9.2 7.8 18.4 5.5 20.5C3.3 22.6 -2.8 25.6 -5.5 27.2C-8.3 28.7 -18.5 33.9 -22.2 36C-25.8 38.1 -38.4 46.3 -42.1 48.2C-45.9 50.1 -58 53.5 -59.9 54.9C-61.8 56.2 -58.7 59.8 -61 61.5C-63.2 63.2 -79.3 71.3 -82.6 72.1C-85.9 72.8 -91.1 68.3 -94.2 68.7C-97.4 69.1 -110.6 76.7 -114.2 75.9C-117.7 75.2 -128 65.4 -129.7 61.5C-131.4 57.7 -132.6 41.1 -130.8 37.7C-129 34.3 -113.7 28.8 -112 27.2C-110.2 25.6 -115.4 23.2 -113.1 21.6C-110.8 20 -92.4 11.8 -88.7 11.1C-85 10.4 -78.6 15.8 -76.5 15C-74.4 14.1 -70 5 -67.6 2.8C-65.3 0.6 -56.3 -4.8 -53.2 -7.2C-50.1 -9.6 -39.7 -19.2 -36.6 -21.6C-33.5 -24.1 -24.4 -29.9 -22.2 -31.6Z"/><path class="n" d="M-22.2 -31.6C-20.9 -32.7 -17.6 -36.9 -14.4 -38.2C-11.3 -39.6 -7.4 -40.5 -3.3 -39.9C0.7 -39.4 6.3 -37.6 10 -34.9C13.7 -32.2 17 -27.9 18.8 -23.8C20.7 -19.8 21.4 -15.5 21.1 -10.5C20.7 -5.5 19.2 0.9 16.6 6.1C14 11.3 9.2 17 5.5 20.5C1.8 24 -1.8 25.3 -5.5 27.2C-9.2 29 -14.8 30.9 -16.6 31.6"/><path class="t" d="M-11.6 -20C-10.4 -21.3 -7.3 -26.5 -4.4 -28.3C-1.6 -30 2.6 -31 5.5 -30.5C8.5 -29.9 11.5 -27.9 13.3 -24.9C15.2 -22 16.6 -17.6 16.6 -12.7C16.6 -7.9 15.3 -1.1 13.3 3.9C11.3 8.9 7.6 13.7 4.4 17.2C1.3 20.7 -2.2 22.9 -5.5 24.9C-8.9 27 -13.9 28.6 -15.5 29.4"/><path class="t" d="M-21.1 -30.5L-11.6 -25.5L-8.3 -20.5"/><ellipse class="n" cx="0" cy="0" rx="11.6" ry="20" transform="rotate(25 0 0)"/><ellipse class="t" cx="0" cy="0" rx="10" ry="17.7" transform="rotate(25 0 0)"/><path class="n" d="M-22.2 -31.6C-24.6 -29.9 -31.4 -25.7 -36.6 -21.6C-41.8 -17.6 -48 -11.3 -53.2 -7.2C-58.4 -3.1 -63.4 -0.2 -67.6 2.8C-71.9 5.7 -76.9 9.2 -78.7 10.5"/><path class="n" d="M-11.6 -20C-14 -18 -20.4 -12.5 -25.5 -8.3C-30.6 -4.2 -36.6 1.1 -42.1 5C-47.7 8.9 -54.1 12.4 -58.8 15C-63.4 17.6 -68 19.6 -69.8 20.5"/><path class="t" d="M-20 -3.9C-22.7 -2 -31 3.7 -36.6 7.2C-42.1 10.7 -48 14.4 -53.2 17.2C-58.4 20 -65.2 22.7 -67.6 23.8"/><path class="t" d="M-68.7 25.5C-65.2 23.9 -55.1 20.2 -47.7 16.1C-40.3 11.9 -28.3 3.1 -24.4 0.6"/><path class="n" d="M-59.9 54.9C-56.9 53.8 -48.4 51.4 -42.1 48.2C-35.8 45.1 -28.6 39.5 -22.2 36C-15.7 32.5 -8.3 29.9 -3.3 27.2C1.7 24.4 5.9 20.7 7.8 19.4"/><path class="t" d="M-48.8 18.3C-48 20 -45.5 24.8 -44.3 28.3C-43.2 31.8 -42.4 36 -42.1 39.4C-41.9 42.7 -42.6 46.7 -42.7 48.2"/><path class="t" d="M-39.4 12.7C-38.5 14.4 -35.7 19.2 -34.4 22.7C-33.1 26.2 -32 30.5 -31.6 33.8C-31.2 37.1 -32.1 41.2 -32.2 42.7"/><path class="n" d="M-24.4 0.6L-22.2 33.8"/><path class="n" d="M-18.8 -2.8L-15.5 29.9"/><path class="n" d="M-112 27.2L-113.1 21.6L-88.7 11.1L-75.9 15L-69.8 21.6L-62.1 36L-59.9 54.9L-61 61.5L-82.6 72.1L-94.2 68.7"/><path class="t" d="M-113.1 21.6L-98.7 24.4L-75.9 15"/><path class="t" d="M-98.7 24.4C-97 26.5 -91.2 33.5 -88.7 37.1C-86.2 40.7 -84.7 40.2 -83.7 46C-82.7 51.8 -82.8 67.7 -82.6 72.1"/><path class="t" d="M-83.7 46L-62.1 36"/><path class="n" d="M-110.9 26.1L-130.8 37.7"/><path class="n" d="M-94.2 68.7L-114.2 75.9"/><ellipse class="k" cx="-119.7" cy="56.5" rx="11.6" ry="20.5" transform="rotate(-21 -119.7 56.5)"/><ellipse class="t" cx="-119.7" cy="56.5" rx="9.5" ry="17.7" transform="rotate(-21 -119.7 56.5)"/><ellipse class="n" cx="-119.7" cy="56.5" rx="7.8" ry="15" transform="rotate(-21 -119.7 56.5)"/></g>
<g transform="translate(814.3,1782) rotate(0)"><path class="w" d="M-12.2 -37.7C-15.3 -35.8 -23.2 -31.3 -25.5 -28.8C-27.8 -26.4 -34.1 -16.5 -35.5 -13.3C-36.9 -10.1 -39.2 0.2 -39.4 3.3C-39.5 6.4 -37.7 15.4 -36.6 17.7C-35.4 20.1 -29.8 25.3 -27.7 26.6C-25.6 27.9 -17.5 30.2 -15.5 30.5C-13.5 30.8 -9.9 30.9 -7.8 29.9C-5.7 29 2.5 23.7 5.5 21.1C8.5 18.4 18.8 6.4 22.2 3.3C25.5 0.2 35.5 -7.9 38.8 -10C42.1 -12.1 52.2 -16.9 55.4 -17.7C58.6 -18.6 67 -17.6 71 -18.8C74.9 -20.1 90.8 -27.4 94.8 -29.9C98.8 -32.5 109 -42 110.9 -44.3C112.7 -46.7 113.6 -51 113.6 -53.2C113.6 -55.4 111.9 -63.9 110.9 -66.5C109.8 -69.2 104.8 -78 103.1 -79.8C101.4 -81.6 96.7 -84.6 94.2 -84.3C91.8 -83.9 81.6 -76.9 78.7 -76.5C75.8 -76.1 69.2 -81 65.4 -80.4C61.6 -79.7 45.1 -71.9 41 -69.8C36.9 -67.8 27.9 -62.1 24.4 -59.9C20.8 -57.6 9.2 -49.9 5.5 -47.7C1.9 -45.5 -9.1 -39.6 -12.2 -37.7Z"/><path class="n" d="M-12.2 -37.7C-14.4 -36.2 -21.6 -32.9 -25.5 -28.8C-29.4 -24.8 -33.2 -18.7 -35.5 -13.3C-37.8 -7.9 -39.2 -1.8 -39.4 3.3C-39.5 8.5 -38.5 13.9 -36.6 17.7C-34.6 21.6 -31.2 24.5 -27.7 26.6C-24.2 28.7 -18.8 29.9 -15.5 30.5C-12.2 31 -9.1 30 -7.8 29.9"/><path class="t" d="M0 -28.8C-1.8 -27.7 -7.8 -25.5 -11.1 -22.2C-14.4 -18.8 -17.8 -13.7 -20 -8.9C-22.1 -4.1 -23.7 1.8 -23.8 6.7C-24 11.5 -23 16.4 -21.1 20C-19.1 23.5 -15.3 26.6 -12.2 27.7C-9.1 28.8 -5.5 27.9 -2.2 26.6C1.1 25.3 4.4 22.7 7.8 20C11.1 17.2 15 13.3 17.7 10C20.5 6.7 23.3 1.7 24.4 0"/><path class="t" d="M-12.2 -37.7L0 -28.8L4.4 -29.9"/><ellipse class="n" cx="0" cy="0" rx="11.1" ry="19.4" transform="rotate(25 0 0)"/><ellipse class="t" cx="0" cy="0" rx="9.1" ry="16.6" transform="rotate(25 0 0)"/><path class="n" d="M-12.2 -37.7C-9.2 -39.4 -0.6 -44 5.5 -47.7C11.6 -51.4 18.5 -56.7 24.4 -59.9C30.3 -63 37.7 -65.2 41 -66.5C44.3 -67.8 43.8 -67.4 44.3 -67.6"/><path class="n" d="M0 -28.8C3 -30.7 11.8 -36 17.7 -39.9C23.7 -43.8 29.6 -49 35.5 -52.1C41.4 -55.2 49.3 -57.5 53.2 -58.8C57.1 -60.1 57.8 -59.7 58.8 -59.9"/><path class="t" d="M4.4 -29.9C7.4 -31.2 16.3 -34.6 22.2 -37.7C28.1 -40.8 34.4 -45.8 39.9 -48.8C45.5 -51.7 52.8 -54.3 55.4 -55.4"/><path class="n" d="M-7.8 29.9C-5.5 28.5 0.6 25.5 5.5 21.1C10.5 16.6 16.6 8.5 22.2 3.3C27.7 -1.8 33.3 -6.5 38.8 -10C44.3 -13.5 50.1 -15.3 55.4 -17.7C60.8 -20.1 68.4 -23.3 71 -24.4"/><path class="n" d="M14.4 -28.8L17.7 1.1"/><path class="t" d="M20 -31L23.3 -2.2"/><path class="t" d="M22.2 -31C24 -29.9 30.5 -27.2 33.3 -24.4C36 -21.6 38.1 -17.2 38.8 -14.4C39.5 -11.6 40.1 -9.8 37.7 -7.8C35.3 -5.7 26.6 -3.1 24.4 -2.2"/><path class="t" d="M39.9 -44.3C40.8 -42.9 44 -38.8 45.5 -35.5C46.9 -32.2 48.4 -27.5 48.8 -24.4C49.2 -21.2 47.9 -17.9 47.7 -16.6"/><path class="t" d="M53.2 -53.2C54.3 -51.4 58.4 -46 59.9 -42.1C61.3 -38.2 61.9 -33.4 62.1 -29.9C62.3 -26.4 61.2 -22.5 61 -21.1"/><path class="n" d="M41.6 -66.5L41 -69.8L65.4 -80.4L78.7 -76.5L92.6 -55.4L94.8 -29.9L71 -18.8L66.5 -22.2"/><path class="t" d="M41 -69.8L55.4 -66.5L78.7 -76.5"/><path class="t" d="M55.4 -66.5C57.1 -63.7 63 -55.1 65.4 -49.9C67.8 -44.7 68.9 -40.7 69.8 -35.5C70.8 -30.3 70.8 -21.6 71 -18.8"/><path class="t" d="M69.8 -41.6L93.1 -52.1"/><path class="n" d="M78.7 -76.5L94.2 -84.3"/><path class="n" d="M94.2 -84.3C95.7 -83.5 100.3 -82.8 103.1 -79.8C105.9 -76.9 109.1 -71 110.9 -66.5C112.6 -62.1 113.6 -56.9 113.6 -53.2C113.6 -49.5 111.3 -45.8 110.9 -44.3"/><path class="n" d="M110.9 -44.3L94.8 -36.6"/></g>
<g transform="translate(643,1671.3) rotate(0)"><path class="w" d="M-12.2 -37.7C-15.3 -35.8 -23.2 -31.3 -25.5 -28.8C-27.8 -26.4 -34.1 -16.5 -35.5 -13.3C-36.9 -10.1 -39.2 0.2 -39.4 3.3C-39.5 6.4 -37.7 15.4 -36.6 17.7C-35.4 20.1 -29.8 25.3 -27.7 26.6C-25.6 27.9 -17.5 30.2 -15.5 30.5C-13.5 30.8 -9.9 30.9 -7.8 29.9C-5.7 29 2.5 23.7 5.5 21.1C8.5 18.4 18.8 6.4 22.2 3.3C25.5 0.2 35.5 -7.9 38.8 -10C42.1 -12.1 52.2 -16.9 55.4 -17.7C58.6 -18.6 67 -17.6 71 -18.8C74.9 -20.1 90.8 -27.4 94.8 -29.9C98.8 -32.5 109 -42 110.9 -44.3C112.7 -46.7 113.6 -51 113.6 -53.2C113.6 -55.4 111.9 -63.9 110.9 -66.5C109.8 -69.2 104.8 -78 103.1 -79.8C101.4 -81.6 96.7 -84.6 94.2 -84.3C91.8 -83.9 81.6 -76.9 78.7 -76.5C75.8 -76.1 69.2 -81 65.4 -80.4C61.6 -79.7 45.1 -71.9 41 -69.8C36.9 -67.8 27.9 -62.1 24.4 -59.9C20.8 -57.6 9.2 -49.9 5.5 -47.7C1.9 -45.5 -9.1 -39.6 -12.2 -37.7Z"/><path class="n" d="M-12.2 -37.7C-14.4 -36.2 -21.6 -32.9 -25.5 -28.8C-29.4 -24.8 -33.2 -18.7 -35.5 -13.3C-37.8 -7.9 -39.2 -1.8 -39.4 3.3C-39.5 8.5 -38.5 13.9 -36.6 17.7C-34.6 21.6 -31.2 24.5 -27.7 26.6C-24.2 28.7 -18.8 29.9 -15.5 30.5C-12.2 31 -9.1 30 -7.8 29.9"/><path class="t" d="M0 -28.8C-1.8 -27.7 -7.8 -25.5 -11.1 -22.2C-14.4 -18.8 -17.8 -13.7 -20 -8.9C-22.1 -4.1 -23.7 1.8 -23.8 6.7C-24 11.5 -23 16.4 -21.1 20C-19.1 23.5 -15.3 26.6 -12.2 27.7C-9.1 28.8 -5.5 27.9 -2.2 26.6C1.1 25.3 4.4 22.7 7.8 20C11.1 17.2 15 13.3 17.7 10C20.5 6.7 23.3 1.7 24.4 0"/><path class="t" d="M-12.2 -37.7L0 -28.8L4.4 -29.9"/><ellipse class="n" cx="0" cy="0" rx="11.1" ry="19.4" transform="rotate(25 0 0)"/><ellipse class="t" cx="0" cy="0" rx="9.1" ry="16.6" transform="rotate(25 0 0)"/><path class="n" d="M-12.2 -37.7C-9.2 -39.4 -0.6 -44 5.5 -47.7C11.6 -51.4 18.5 -56.7 24.4 -59.9C30.3 -63 37.7 -65.2 41 -66.5C44.3 -67.8 43.8 -67.4 44.3 -67.6"/><path class="n" d="M0 -28.8C3 -30.7 11.8 -36 17.7 -39.9C23.7 -43.8 29.6 -49 35.5 -52.1C41.4 -55.2 49.3 -57.5 53.2 -58.8C57.1 -60.1 57.8 -59.7 58.8 -59.9"/><path class="t" d="M4.4 -29.9C7.4 -31.2 16.3 -34.6 22.2 -37.7C28.1 -40.8 34.4 -45.8 39.9 -48.8C45.5 -51.7 52.8 -54.3 55.4 -55.4"/><path class="n" d="M-7.8 29.9C-5.5 28.5 0.6 25.5 5.5 21.1C10.5 16.6 16.6 8.5 22.2 3.3C27.7 -1.8 33.3 -6.5 38.8 -10C44.3 -13.5 50.1 -15.3 55.4 -17.7C60.8 -20.1 68.4 -23.3 71 -24.4"/><path class="n" d="M14.4 -28.8L17.7 1.1"/><path class="t" d="M20 -31L23.3 -2.2"/><path class="t" d="M22.2 -31C24 -29.9 30.5 -27.2 33.3 -24.4C36 -21.6 38.1 -17.2 38.8 -14.4C39.5 -11.6 40.1 -9.8 37.7 -7.8C35.3 -5.7 26.6 -3.1 24.4 -2.2"/><path class="t" d="M39.9 -44.3C40.8 -42.9 44 -38.8 45.5 -35.5C46.9 -32.2 48.4 -27.5 48.8 -24.4C49.2 -21.2 47.9 -17.9 47.7 -16.6"/><path class="t" d="M53.2 -53.2C54.3 -51.4 58.4 -46 59.9 -42.1C61.3 -38.2 61.9 -33.4 62.1 -29.9C62.3 -26.4 61.2 -22.5 61 -21.1"/><path class="n" d="M41.6 -66.5L41 -69.8L65.4 -80.4L78.7 -76.5L92.6 -55.4L94.8 -29.9L71 -18.8L66.5 -22.2"/><path class="t" d="M41 -69.8L55.4 -66.5L78.7 -76.5"/><path class="t" d="M55.4 -66.5C57.1 -63.7 63 -55.1 65.4 -49.9C67.8 -44.7 68.9 -40.7 69.8 -35.5C70.8 -30.3 70.8 -21.6 71 -18.8"/><path class="t" d="M69.8 -41.6L93.1 -52.1"/><path class="n" d="M78.7 -76.5L94.2 -84.3"/><path class="n" d="M94.2 -84.3C95.7 -83.5 100.3 -82.8 103.1 -79.8C105.9 -76.9 109.1 -71 110.9 -66.5C112.6 -62.1 113.6 -56.9 113.6 -53.2C113.6 -49.5 111.3 -45.8 110.9 -44.3"/><path class="n" d="M110.9 -44.3L94.8 -36.6"/></g>
<g transform="translate(1341.4,2102.6) rotate(0)"><path class="w" d="M-12.2 -37.7C-15.3 -35.8 -23.2 -31.3 -25.5 -28.8C-27.8 -26.4 -34.1 -16.5 -35.5 -13.3C-36.9 -10.1 -39.2 0.2 -39.4 3.3C-39.5 6.4 -37.7 15.4 -36.6 17.7C-35.4 20.1 -29.8 25.3 -27.7 26.6C-25.6 27.9 -17.5 30.2 -15.5 30.5C-13.5 30.8 -9.9 30.9 -7.8 29.9C-5.7 29 2.5 23.7 5.5 21.1C8.5 18.4 18.8 6.4 22.2 3.3C25.5 0.2 35.5 -7.9 38.8 -10C42.1 -12.1 52.2 -16.9 55.4 -17.7C58.6 -18.6 67 -17.6 71 -18.8C74.9 -20.1 90.8 -27.4 94.8 -29.9C98.8 -32.5 109 -42 110.9 -44.3C112.7 -46.7 113.6 -51 113.6 -53.2C113.6 -55.4 111.9 -63.9 110.9 -66.5C109.8 -69.2 104.8 -78 103.1 -79.8C101.4 -81.6 96.7 -84.6 94.2 -84.3C91.8 -83.9 81.6 -76.9 78.7 -76.5C75.8 -76.1 69.2 -81 65.4 -80.4C61.6 -79.7 45.1 -71.9 41 -69.8C36.9 -67.8 27.9 -62.1 24.4 -59.9C20.8 -57.6 9.2 -49.9 5.5 -47.7C1.9 -45.5 -9.1 -39.6 -12.2 -37.7Z"/><path class="n" d="M-12.2 -37.7C-14.4 -36.2 -21.6 -32.9 -25.5 -28.8C-29.4 -24.8 -33.2 -18.7 -35.5 -13.3C-37.8 -7.9 -39.2 -1.8 -39.4 3.3C-39.5 8.5 -38.5 13.9 -36.6 17.7C-34.6 21.6 -31.2 24.5 -27.7 26.6C-24.2 28.7 -18.8 29.9 -15.5 30.5C-12.2 31 -9.1 30 -7.8 29.9"/><path class="t" d="M0 -28.8C-1.8 -27.7 -7.8 -25.5 -11.1 -22.2C-14.4 -18.8 -17.8 -13.7 -20 -8.9C-22.1 -4.1 -23.7 1.8 -23.8 6.7C-24 11.5 -23 16.4 -21.1 20C-19.1 23.5 -15.3 26.6 -12.2 27.7C-9.1 28.8 -5.5 27.9 -2.2 26.6C1.1 25.3 4.4 22.7 7.8 20C11.1 17.2 15 13.3 17.7 10C20.5 6.7 23.3 1.7 24.4 0"/><path class="t" d="M-12.2 -37.7L0 -28.8L4.4 -29.9"/><ellipse class="n" cx="0" cy="0" rx="11.1" ry="19.4" transform="rotate(25 0 0)"/><ellipse class="t" cx="0" cy="0" rx="9.1" ry="16.6" transform="rotate(25 0 0)"/><path class="n" d="M-12.2 -37.7C-9.2 -39.4 -0.6 -44 5.5 -47.7C11.6 -51.4 18.5 -56.7 24.4 -59.9C30.3 -63 37.7 -65.2 41 -66.5C44.3 -67.8 43.8 -67.4 44.3 -67.6"/><path class="n" d="M0 -28.8C3 -30.7 11.8 -36 17.7 -39.9C23.7 -43.8 29.6 -49 35.5 -52.1C41.4 -55.2 49.3 -57.5 53.2 -58.8C57.1 -60.1 57.8 -59.7 58.8 -59.9"/><path class="t" d="M4.4 -29.9C7.4 -31.2 16.3 -34.6 22.2 -37.7C28.1 -40.8 34.4 -45.8 39.9 -48.8C45.5 -51.7 52.8 -54.3 55.4 -55.4"/><path class="n" d="M-7.8 29.9C-5.5 28.5 0.6 25.5 5.5 21.1C10.5 16.6 16.6 8.5 22.2 3.3C27.7 -1.8 33.3 -6.5 38.8 -10C44.3 -13.5 50.1 -15.3 55.4 -17.7C60.8 -20.1 68.4 -23.3 71 -24.4"/><path class="n" d="M14.4 -28.8L17.7 1.1"/><path class="t" d="M20 -31L23.3 -2.2"/><path class="t" d="M22.2 -31C24 -29.9 30.5 -27.2 33.3 -24.4C36 -21.6 38.1 -17.2 38.8 -14.4C39.5 -11.6 40.1 -9.8 37.7 -7.8C35.3 -5.7 26.6 -3.1 24.4 -2.2"/><path class="t" d="M39.9 -44.3C40.8 -42.9 44 -38.8 45.5 -35.5C46.9 -32.2 48.4 -27.5 48.8 -24.4C49.2 -21.2 47.9 -17.9 47.7 -16.6"/><path class="t" d="M53.2 -53.2C54.3 -51.4 58.4 -46 59.9 -42.1C61.3 -38.2 61.9 -33.4 62.1 -29.9C62.3 -26.4 61.2 -22.5 61 -21.1"/><path class="n" d="M41.6 -66.5L41 -69.8L65.4 -80.4L78.7 -76.5L92.6 -55.4L94.8 -29.9L71 -18.8L66.5 -22.2"/><path class="t" d="M41 -69.8L55.4 -66.5L78.7 -76.5"/><path class="t" d="M55.4 -66.5C57.1 -63.7 63 -55.1 65.4 -49.9C67.8 -44.7 68.9 -40.7 69.8 -35.5C70.8 -30.3 70.8 -21.6 71 -18.8"/><path class="t" d="M69.8 -41.6L93.1 -52.1"/><path class="n" d="M78.7 -76.5L94.2 -84.3"/><path class="n" d="M94.2 -84.3C95.7 -83.5 100.3 -82.8 103.1 -79.8C105.9 -76.9 109.1 -71 110.9 -66.5C112.6 -62.1 113.6 -56.9 113.6 -53.2C113.6 -49.5 111.3 -45.8 110.9 -44.3"/><path class="n" d="M110.9 -44.3L94.8 -36.6"/></g>
<g transform="translate(1502.1,2159.1) rotate(0)"><path class="w" d="M-12.2 -37.7C-15.3 -35.8 -23.2 -31.3 -25.5 -28.8C-27.8 -26.4 -34.1 -16.5 -35.5 -13.3C-36.9 -10.1 -39.2 0.2 -39.4 3.3C-39.5 6.4 -37.7 15.4 -36.6 17.7C-35.4 20.1 -29.8 25.3 -27.7 26.6C-25.6 27.9 -17.5 30.2 -15.5 30.5C-13.5 30.8 -9.9 30.9 -7.8 29.9C-5.7 29 2.5 23.7 5.5 21.1C8.5 18.4 18.8 6.4 22.2 3.3C25.5 0.2 35.5 -7.9 38.8 -10C42.1 -12.1 52.2 -16.9 55.4 -17.7C58.6 -18.6 67 -17.6 71 -18.8C74.9 -20.1 90.8 -27.4 94.8 -29.9C98.8 -32.5 109 -42 110.9 -44.3C112.7 -46.7 113.6 -51 113.6 -53.2C113.6 -55.4 111.9 -63.9 110.9 -66.5C109.8 -69.2 104.8 -78 103.1 -79.8C101.4 -81.6 96.7 -84.6 94.2 -84.3C91.8 -83.9 81.6 -76.9 78.7 -76.5C75.8 -76.1 69.2 -81 65.4 -80.4C61.6 -79.7 45.1 -71.9 41 -69.8C36.9 -67.8 27.9 -62.1 24.4 -59.9C20.8 -57.6 9.2 -49.9 5.5 -47.7C1.9 -45.5 -9.1 -39.6 -12.2 -37.7Z"/><path class="n" d="M-12.2 -37.7C-14.4 -36.2 -21.6 -32.9 -25.5 -28.8C-29.4 -24.8 -33.2 -18.7 -35.5 -13.3C-37.8 -7.9 -39.2 -1.8 -39.4 3.3C-39.5 8.5 -38.5 13.9 -36.6 17.7C-34.6 21.6 -31.2 24.5 -27.7 26.6C-24.2 28.7 -18.8 29.9 -15.5 30.5C-12.2 31 -9.1 30 -7.8 29.9"/><path class="t" d="M0 -28.8C-1.8 -27.7 -7.8 -25.5 -11.1 -22.2C-14.4 -18.8 -17.8 -13.7 -20 -8.9C-22.1 -4.1 -23.7 1.8 -23.8 6.7C-24 11.5 -23 16.4 -21.1 20C-19.1 23.5 -15.3 26.6 -12.2 27.7C-9.1 28.8 -5.5 27.9 -2.2 26.6C1.1 25.3 4.4 22.7 7.8 20C11.1 17.2 15 13.3 17.7 10C20.5 6.7 23.3 1.7 24.4 0"/><path class="t" d="M-12.2 -37.7L0 -28.8L4.4 -29.9"/><ellipse class="n" cx="0" cy="0" rx="11.1" ry="19.4" transform="rotate(25 0 0)"/><ellipse class="t" cx="0" cy="0" rx="9.1" ry="16.6" transform="rotate(25 0 0)"/><path class="n" d="M-12.2 -37.7C-9.2 -39.4 -0.6 -44 5.5 -47.7C11.6 -51.4 18.5 -56.7 24.4 -59.9C30.3 -63 37.7 -65.2 41 -66.5C44.3 -67.8 43.8 -67.4 44.3 -67.6"/><path class="n" d="M0 -28.8C3 -30.7 11.8 -36 17.7 -39.9C23.7 -43.8 29.6 -49 35.5 -52.1C41.4 -55.2 49.3 -57.5 53.2 -58.8C57.1 -60.1 57.8 -59.7 58.8 -59.9"/><path class="t" d="M4.4 -29.9C7.4 -31.2 16.3 -34.6 22.2 -37.7C28.1 -40.8 34.4 -45.8 39.9 -48.8C45.5 -51.7 52.8 -54.3 55.4 -55.4"/><path class="n" d="M-7.8 29.9C-5.5 28.5 0.6 25.5 5.5 21.1C10.5 16.6 16.6 8.5 22.2 3.3C27.7 -1.8 33.3 -6.5 38.8 -10C44.3 -13.5 50.1 -15.3 55.4 -17.7C60.8 -20.1 68.4 -23.3 71 -24.4"/><path class="n" d="M14.4 -28.8L17.7 1.1"/><path class="t" d="M20 -31L23.3 -2.2"/><path class="t" d="M22.2 -31C24 -29.9 30.5 -27.2 33.3 -24.4C36 -21.6 38.1 -17.2 38.8 -14.4C39.5 -11.6 40.1 -9.8 37.7 -7.8C35.3 -5.7 26.6 -3.1 24.4 -2.2"/><path class="t" d="M39.9 -44.3C40.8 -42.9 44 -38.8 45.5 -35.5C46.9 -32.2 48.4 -27.5 48.8 -24.4C49.2 -21.2 47.9 -17.9 47.7 -16.6"/><path class="t" d="M53.2 -53.2C54.3 -51.4 58.4 -46 59.9 -42.1C61.3 -38.2 61.9 -33.4 62.1 -29.9C62.3 -26.4 61.2 -22.5 61 -21.1"/><path class="n" d="M41.6 -66.5L41 -69.8L65.4 -80.4L78.7 -76.5L92.6 -55.4L94.8 -29.9L71 -18.8L66.5 -22.2"/><path class="t" d="M41 -69.8L55.4 -66.5L78.7 -76.5"/><path class="t" d="M55.4 -66.5C57.1 -63.7 63 -55.1 65.4 -49.9C67.8 -44.7 68.9 -40.7 69.8 -35.5C70.8 -30.3 70.8 -21.6 71 -18.8"/><path class="t" d="M69.8 -41.6L93.1 -52.1"/><path class="n" d="M78.7 -76.5L94.2 -84.3"/><path class="n" d="M94.2 -84.3C95.7 -83.5 100.3 -82.8 103.1 -79.8C105.9 -76.9 109.1 -71 110.9 -66.5C112.6 -62.1 113.6 -56.9 113.6 -53.2C113.6 -49.5 111.3 -45.8 110.9 -44.3"/><path class="n" d="M110.9 -44.3L94.8 -36.6"/></g>
<!-- p_21_ballstuds -->
<g transform="translate(443.4,969.4) rotate(28)"><ellipse cx="-19" cy="0" rx="8.2" ry="15" style="fill:#fff;stroke:#111;stroke-width:3.6"/><path class="k" d="M-8 -11.5L-18 -11.5A6.3 11.5 0 0 0 -18 11.5L-8 11.5A6.3 11.5 0 0 0 -8 -11.5Z"/><ellipse class="k" cx="-8" cy="0" rx="6.3" ry="11.5"/><path class="t" d="M-15 -11.5A6.3 11.5 0 0 0 -15 11.5"/><circle class="t" cx="0" cy="0" r="19" style="fill:#fff"/><ellipse cx="15" cy="0" rx="8.5" ry="15.5" style="fill:#fff;stroke:#111;stroke-width:3.6"/><ellipse cx="19.5" cy="0" rx="9.1" ry="16.5" style="fill:#fff;stroke:#111;stroke-width:2.8"/><ellipse class="n" cx="19.5" cy="0" rx="5.5" ry="10"/></g>
<g transform="translate(1360,1175.5) rotate(28)"><ellipse cx="-19" cy="0" rx="8.2" ry="15" style="fill:#fff;stroke:#111;stroke-width:3.6"/><path class="k" d="M-8 -11.5L-18 -11.5A6.3 11.5 0 0 0 -18 11.5L-8 11.5A6.3 11.5 0 0 0 -8 -11.5Z"/><ellipse class="k" cx="-8" cy="0" rx="6.3" ry="11.5"/><path class="t" d="M-15 -11.5A6.3 11.5 0 0 0 -15 11.5"/><circle class="t" cx="0" cy="0" r="19" style="fill:#fff"/><ellipse cx="15" cy="0" rx="8.5" ry="15.5" style="fill:#fff;stroke:#111;stroke-width:3.6"/><ellipse cx="19.5" cy="0" rx="9.1" ry="16.5" style="fill:#fff;stroke:#111;stroke-width:2.8"/><ellipse class="n" cx="19.5" cy="0" rx="5.5" ry="10"/></g>
<g transform="translate(1784.8,1392) rotate(28)"><ellipse cx="-19" cy="0" rx="8.2" ry="15" style="fill:#fff;stroke:#111;stroke-width:3.6"/><path class="k" d="M-8 -11.5L-18 -11.5A6.3 11.5 0 0 0 -18 11.5L-8 11.5A6.3 11.5 0 0 0 -8 -11.5Z"/><ellipse class="k" cx="-8" cy="0" rx="6.3" ry="11.5"/><path class="t" d="M-15 -11.5A6.3 11.5 0 0 0 -15 11.5"/><circle class="t" cx="0" cy="0" r="19" style="fill:#fff"/><ellipse cx="15" cy="0" rx="8.5" ry="15.5" style="fill:#fff;stroke:#111;stroke-width:3.6"/><ellipse cx="19.5" cy="0" rx="9.1" ry="16.5" style="fill:#fff;stroke:#111;stroke-width:2.8"/><ellipse class="n" cx="19.5" cy="0" rx="5.5" ry="10"/></g>
<g transform="translate(1857.6,1430.7) rotate(28)"><ellipse cx="-19" cy="0" rx="8.2" ry="15" style="fill:#fff;stroke:#111;stroke-width:3.6"/><path class="k" d="M-8 -11.5L-18 -11.5A6.3 11.5 0 0 0 -18 11.5L-8 11.5A6.3 11.5 0 0 0 -8 -11.5Z"/><ellipse class="k" cx="-8" cy="0" rx="6.3" ry="11.5"/><path class="t" d="M-15 -11.5A6.3 11.5 0 0 0 -15 11.5"/><circle class="t" cx="0" cy="0" r="19" style="fill:#fff"/><ellipse cx="15" cy="0" rx="8.5" ry="15.5" style="fill:#fff;stroke:#111;stroke-width:3.6"/><ellipse cx="19.5" cy="0" rx="9.1" ry="16.5" style="fill:#fff;stroke:#111;stroke-width:2.8"/><ellipse class="n" cx="19.5" cy="0" rx="5.5" ry="10"/></g>
<g transform="translate(692.9,1702.7) rotate(28)"><ellipse cx="-19" cy="0" rx="8.2" ry="15" style="fill:#fff;stroke:#111;stroke-width:3.6"/><path class="k" d="M-8 -11.5L-18 -11.5A6.3 11.5 0 0 0 -18 11.5L-8 11.5A6.3 11.5 0 0 0 -8 -11.5Z"/><ellipse class="k" cx="-8" cy="0" rx="6.3" ry="11.5"/><path class="t" d="M-15 -11.5A6.3 11.5 0 0 0 -15 11.5"/><circle class="t" cx="0" cy="0" r="19" style="fill:#fff"/><ellipse cx="15" cy="0" rx="8.5" ry="15.5" style="fill:#fff;stroke:#111;stroke-width:3.6"/><ellipse cx="19.5" cy="0" rx="9.1" ry="16.5" style="fill:#fff;stroke:#111;stroke-width:2.8"/><ellipse class="n" cx="19.5" cy="0" rx="5.5" ry="10"/></g>
<g transform="translate(896.4,1827.5) rotate(28)"><ellipse cx="-19" cy="0" rx="8.2" ry="15" style="fill:#fff;stroke:#111;stroke-width:3.6"/><path class="k" d="M-8 -11.5L-18 -11.5A6.3 11.5 0 0 0 -18 11.5L-8 11.5A6.3 11.5 0 0 0 -8 -11.5Z"/><ellipse class="k" cx="-8" cy="0" rx="6.3" ry="11.5"/><path class="t" d="M-15 -11.5A6.3 11.5 0 0 0 -15 11.5"/><circle class="t" cx="0" cy="0" r="19" style="fill:#fff"/><ellipse cx="15" cy="0" rx="8.5" ry="15.5" style="fill:#fff;stroke:#111;stroke-width:3.6"/><ellipse cx="19.5" cy="0" rx="9.1" ry="16.5" style="fill:#fff;stroke:#111;stroke-width:2.8"/><ellipse class="n" cx="19.5" cy="0" rx="5.5" ry="10"/></g>
<g transform="translate(1261.9,2057.5) rotate(28)"><ellipse cx="-19" cy="0" rx="8.2" ry="15" style="fill:#fff;stroke:#111;stroke-width:3.6"/><path class="k" d="M-8 -11.5L-18 -11.5A6.3 11.5 0 0 0 -18 11.5L-8 11.5A6.3 11.5 0 0 0 -8 -11.5Z"/><ellipse class="k" cx="-8" cy="0" rx="6.3" ry="11.5"/><path class="t" d="M-15 -11.5A6.3 11.5 0 0 0 -15 11.5"/><circle class="t" cx="0" cy="0" r="19" style="fill:#fff"/><ellipse cx="15" cy="0" rx="8.5" ry="15.5" style="fill:#fff;stroke:#111;stroke-width:3.6"/><ellipse cx="19.5" cy="0" rx="9.1" ry="16.5" style="fill:#fff;stroke:#111;stroke-width:2.8"/><ellipse class="n" cx="19.5" cy="0" rx="5.5" ry="10"/></g>
<g transform="translate(1419,2135.8) rotate(28)"><ellipse cx="-19" cy="0" rx="8.2" ry="15" style="fill:#fff;stroke:#111;stroke-width:3.6"/><path class="k" d="M-8 -11.5L-18 -11.5A6.3 11.5 0 0 0 -18 11.5L-8 11.5A6.3 11.5 0 0 0 -8 -11.5Z"/><ellipse class="k" cx="-8" cy="0" rx="6.3" ry="11.5"/><path class="t" d="M-15 -11.5A6.3 11.5 0 0 0 -15 11.5"/><circle class="t" cx="0" cy="0" r="19" style="fill:#fff"/><ellipse cx="15" cy="0" rx="8.5" ry="15.5" style="fill:#fff;stroke:#111;stroke-width:3.6"/><ellipse cx="19.5" cy="0" rx="9.1" ry="16.5" style="fill:#fff;stroke:#111;stroke-width:2.8"/><ellipse class="n" cx="19.5" cy="0" rx="5.5" ry="10"/></g>
<g transform="translate(2329.8,1737.8) rotate(28)"><ellipse cx="-19" cy="0" rx="8.2" ry="15" style="fill:#fff;stroke:#111;stroke-width:3.6"/><path class="k" d="M-8 -11.5L-18 -11.5A6.3 11.5 0 0 0 -18 11.5L-8 11.5A6.3 11.5 0 0 0 -8 -11.5Z"/><ellipse class="k" cx="-8" cy="0" rx="6.3" ry="11.5"/><path class="t" d="M-15 -11.5A6.3 11.5 0 0 0 -15 11.5"/><circle class="t" cx="0" cy="0" r="19" style="fill:#fff"/><ellipse cx="15" cy="0" rx="8.5" ry="15.5" style="fill:#fff;stroke:#111;stroke-width:3.6"/><ellipse cx="19.5" cy="0" rx="9.1" ry="16.5" style="fill:#fff;stroke:#111;stroke-width:2.8"/><ellipse class="n" cx="19.5" cy="0" rx="5.5" ry="10"/></g>
<g transform="translate(2886.8,2085.2) rotate(28)"><ellipse cx="-19" cy="0" rx="8.2" ry="15" style="fill:#fff;stroke:#111;stroke-width:3.6"/><path class="k" d="M-8 -11.5L-18 -11.5A6.3 11.5 0 0 0 -18 11.5L-8 11.5A6.3 11.5 0 0 0 -8 -11.5Z"/><ellipse class="k" cx="-8" cy="0" rx="6.3" ry="11.5"/><path class="t" d="M-15 -11.5A6.3 11.5 0 0 0 -15 11.5"/><circle class="t" cx="0" cy="0" r="19" style="fill:#fff"/><ellipse cx="15" cy="0" rx="8.5" ry="15.5" style="fill:#fff;stroke:#111;stroke-width:3.6"/><ellipse cx="19.5" cy="0" rx="9.1" ry="16.5" style="fill:#fff;stroke:#111;stroke-width:2.8"/><ellipse class="n" cx="19.5" cy="0" rx="5.5" ry="10"/></g>
<g transform="translate(443,569.2) rotate(28)"><path class="k" d="M-12 -14.5L-27 -14.5A8 14.5 0 0 0 -27 14.5L-12 14.5A8 14.5 0 0 0 -12 -14.5Z"/><ellipse class="k" cx="-12" cy="0" rx="8" ry="14.5"/><circle class="t" cx="0" cy="0" r="20" style="fill:#fff"/><path d="M-15 -13A8 14.5 0 0 0 -15 13" style="fill:none;stroke:#111;stroke-width:3.4"/><ellipse cx="13" cy="0" rx="8.8" ry="16" style="fill:#fff;stroke:#111;stroke-width:3.6"/><ellipse cx="16" cy="0" rx="8.8" ry="16" style="fill:#fff;stroke:#111;stroke-width:2.8"/><path class="k" d="M41 -19.5L17 -19.5A10.7 19.5 0 0 0 17 19.5L41 19.5A10.7 19.5 0 0 0 41 -19.5Z"/><ellipse class="k" cx="41" cy="0" rx="10.7" ry="19.5"/><ellipse cx="41" cy="0" rx="10.7" ry="19.5" style="fill:#fff;stroke:#111;stroke-width:2.8"/><ellipse cx="41" cy="0" rx="5.5" ry="10" style="fill:#fff;stroke:#111;stroke-width:3.2"/></g>
<g transform="translate(2846.6,1662.4) rotate(28)"><path class="k" d="M-22 -20L-45 -20A11 20 0 0 0 -45 20L-22 20A11 20 0 0 0 -22 -20Z"/><ellipse class="k" cx="-22" cy="0" rx="11" ry="20"/><path d="M-26 -20A11 20 0 0 0 -26 20" style="fill:none;stroke:#111;stroke-width:3.2"/><ellipse cx="-17" cy="0" rx="8.8" ry="16" style="fill:#fff;stroke:#111;stroke-width:2.8"/><ellipse cx="-14" cy="0" rx="8.2" ry="15" style="fill:#fff;stroke:#111;stroke-width:3.6"/><circle class="t" cx="0" cy="0" r="20" style="fill:#fff"/><ellipse cx="13" cy="0" rx="8.2" ry="15" style="fill:#fff;stroke:#111;stroke-width:2.8"/><path class="k" d="M27 -14.5L15 -14.5A8 14.5 0 0 0 15 14.5L27 14.5A8 14.5 0 0 0 27 -14.5Z"/><ellipse class="k" cx="27" cy="0" rx="8" ry="14.5"/><ellipse cx="27" cy="0" rx="8" ry="14.5" style="fill:#fff;stroke:#111;stroke-width:3.6"/><ellipse cx="27" cy="0" rx="5.2" ry="9.5" style="fill:#fff;stroke:#111;stroke-width:2.8"/></g>
<!-- p_22_linkrods -->
<g transform="translate(727.2,1582.1) rotate(-38.4)"><path class="k" d="M538.4 -13L585.4 -13A5.9 13 0 0 1 585.4 13L538.4 13A5.9 13 0 0 1 538.4 -13Z"/><path d="M538.4 -13A5.9 13 0 0 1 538.4 13M542 -13A5.9 13 0 0 1 542 13M545.6 -13A5.9 13 0 0 1 545.6 13M549.2 -13A5.9 13 0 0 1 549.2 13M552.8 -13A5.9 13 0 0 1 552.8 13M556.5 -13A5.9 13 0 0 1 556.5 13M560.1 -13A5.9 13 0 0 1 560.1 13M563.7 -13A5.9 13 0 0 1 563.7 13M567.3 -13A5.9 13 0 0 1 567.3 13M570.9 -13A5.9 13 0 0 1 570.9 13M574.5 -13A5.9 13 0 0 1 574.5 13M578.1 -13A5.9 13 0 0 1 578.1 13M581.8 -13A5.9 13 0 0 1 581.8 13M585.4 -13A5.9 13 0 0 1 585.4 13" fill="none" stroke="#111" stroke-width="2.5"/><path class="n" d="M585.4 -13A5.9 13 0 0 1 585.4 13"/><path class="k" d="M0 -13L60 -13A5.9 13 0 0 1 60 13L0 13A5.9 13 0 0 1 0 -13Z"/><path d="M0 -13A5.9 13 0 0 1 0 13M3.8 -13A5.9 13 0 0 1 3.8 13M7.5 -13A5.9 13 0 0 1 7.5 13M11.2 -13A5.9 13 0 0 1 11.2 13M15 -13A5.9 13 0 0 1 15 13M18.8 -13A5.9 13 0 0 1 18.8 13M22.5 -13A5.9 13 0 0 1 22.5 13M26.2 -13A5.9 13 0 0 1 26.2 13M30 -13A5.9 13 0 0 1 30 13M33.8 -13A5.9 13 0 0 1 33.8 13M37.5 -13A5.9 13 0 0 1 37.5 13M41.2 -13A5.9 13 0 0 1 41.2 13M45 -13A5.9 13 0 0 1 45 13M48.8 -13A5.9 13 0 0 1 48.8 13M52.5 -13A5.9 13 0 0 1 52.5 13M56.2 -13A5.9 13 0 0 1 56.2 13M60 -13A5.9 13 0 0 1 60 13" fill="none" stroke="#111" stroke-width="2.5"/><path class="k" d="M60 -15L89 -20.4L506.4 -20.4L538.4 -15A6.8 15 0 0 1 538.4 15L506.4 20.4L89 20.4L60 15A6.8 15 0 0 0 60 -15Z"/><path class="n" d="M89 -20.4A9.2 20.4 0 0 1 89 20.4"/><path class="t" d="M93.5 -20.4A9.2 20.4 0 0 1 93.5 20.4"/><path class="t" d="M506.4 -20.4A9.2 20.4 0 0 1 506.4 20.4"/><path d="M60 -15A6.8 15 0 0 1 60 15" style="fill:none;stroke:#111;stroke-width:3"/><ellipse class="k" cx="0" cy="0" rx="4.8" ry="10.7"/><ellipse class="n" cx="300.9" cy="15.6" rx="9.5" ry="4.5" transform="rotate(-23.6 300.9 15.6)"/></g>
<g transform="translate(946.2,1703.2) rotate(-23.2)"><path class="k" d="M630.5 -11.8L691.5 -11.8A5.3 11.8 0 0 1 691.5 11.8L630.5 11.8A5.3 11.8 0 0 1 630.5 -11.8Z"/><path d="M630.5 -11.8A5.3 11.8 0 0 1 630.5 11.8M634.3 -11.8A5.3 11.8 0 0 1 634.3 11.8M638.1 -11.8A5.3 11.8 0 0 1 638.1 11.8M641.9 -11.8A5.3 11.8 0 0 1 641.9 11.8M645.8 -11.8A5.3 11.8 0 0 1 645.8 11.8M649.6 -11.8A5.3 11.8 0 0 1 649.6 11.8M653.4 -11.8A5.3 11.8 0 0 1 653.4 11.8M657.2 -11.8A5.3 11.8 0 0 1 657.2 11.8M661 -11.8A5.3 11.8 0 0 1 661 11.8M664.8 -11.8A5.3 11.8 0 0 1 664.8 11.8M668.6 -11.8A5.3 11.8 0 0 1 668.6 11.8M672.4 -11.8A5.3 11.8 0 0 1 672.4 11.8M676.3 -11.8A5.3 11.8 0 0 1 676.3 11.8M680.1 -11.8A5.3 11.8 0 0 1 680.1 11.8M683.9 -11.8A5.3 11.8 0 0 1 683.9 11.8M687.7 -11.8A5.3 11.8 0 0 1 687.7 11.8M691.5 -11.8A5.3 11.8 0 0 1 691.5 11.8" fill="none" stroke="#111" stroke-width="2.5"/><path class="n" d="M691.5 -11.8A5.3 11.8 0 0 1 691.5 11.8"/><path class="k" d="M0 -11.8L62 -11.8A5.3 11.8 0 0 1 62 11.8L0 11.8A5.3 11.8 0 0 1 0 -11.8Z"/><path d="M0 -11.8A5.3 11.8 0 0 1 0 11.8M3.6 -11.8A5.3 11.8 0 0 1 3.6 11.8M7.3 -11.8A5.3 11.8 0 0 1 7.3 11.8M10.9 -11.8A5.3 11.8 0 0 1 10.9 11.8M14.6 -11.8A5.3 11.8 0 0 1 14.6 11.8M18.2 -11.8A5.3 11.8 0 0 1 18.2 11.8M21.9 -11.8A5.3 11.8 0 0 1 21.9 11.8M25.5 -11.8A5.3 11.8 0 0 1 25.5 11.8M29.2 -11.8A5.3 11.8 0 0 1 29.2 11.8M32.8 -11.8A5.3 11.8 0 0 1 32.8 11.8M36.5 -11.8A5.3 11.8 0 0 1 36.5 11.8M40.1 -11.8A5.3 11.8 0 0 1 40.1 11.8M43.8 -11.8A5.3 11.8 0 0 1 43.8 11.8M47.4 -11.8A5.3 11.8 0 0 1 47.4 11.8M51.1 -11.8A5.3 11.8 0 0 1 51.1 11.8M54.7 -11.8A5.3 11.8 0 0 1 54.7 11.8M58.4 -11.8A5.3 11.8 0 0 1 58.4 11.8M62 -11.8A5.3 11.8 0 0 1 62 11.8" fill="none" stroke="#111" stroke-width="2.5"/><path class="k" d="M62 -13.8L100 -21.5L591.5 -21.5L630.5 -13.8A6.2 13.8 0 0 1 630.5 13.8L591.5 21.5L100 21.5L62 13.8A6.2 13.8 0 0 0 62 -13.8Z"/><path class="n" d="M100 -21.5A9.7 21.5 0 0 1 100 21.5"/><path class="t" d="M104.5 -21.5A9.7 21.5 0 0 1 104.5 21.5"/><path class="t" d="M591.5 -21.5A9.7 21.5 0 0 1 591.5 21.5"/><path d="M62 -13.8A6.2 13.8 0 0 1 62 13.8" style="fill:none;stroke:#111;stroke-width:3"/><ellipse class="k" cx="0" cy="0" rx="4.4" ry="9.7"/><ellipse class="n" cx="351.6" cy="11.8" rx="9.5" ry="6.5" transform="rotate(-8.8 351.6 11.8)"/></g>
<g transform="translate(1440,1995.7) rotate(-47.6)"><path class="k" d="M523.9 -12L568.9 -12A5.4 12 0 0 1 568.9 12L523.9 12A5.4 12 0 0 1 523.9 -12Z"/><path d="M523.9 -12A5.4 12 0 0 1 523.9 12M527.7 -12A5.4 12 0 0 1 527.7 12M531.4 -12A5.4 12 0 0 1 531.4 12M535.2 -12A5.4 12 0 0 1 535.2 12M538.9 -12A5.4 12 0 0 1 538.9 12M542.7 -12A5.4 12 0 0 1 542.7 12M546.4 -12A5.4 12 0 0 1 546.4 12M550.2 -12A5.4 12 0 0 1 550.2 12M553.9 -12A5.4 12 0 0 1 553.9 12M557.7 -12A5.4 12 0 0 1 557.7 12M561.4 -12A5.4 12 0 0 1 561.4 12M565.2 -12A5.4 12 0 0 1 565.2 12M568.9 -12A5.4 12 0 0 1 568.9 12" fill="none" stroke="#111" stroke-width="2.5"/><path class="n" d="M568.9 -12A5.4 12 0 0 1 568.9 12"/><path class="k" d="M0 -12L55 -12A5.4 12 0 0 1 55 12L0 12A5.4 12 0 0 1 0 -12Z"/><path d="M0 -12A5.4 12 0 0 1 0 12M3.7 -12A5.4 12 0 0 1 3.7 12M7.3 -12A5.4 12 0 0 1 7.3 12M11 -12A5.4 12 0 0 1 11 12M14.7 -12A5.4 12 0 0 1 14.7 12M18.3 -12A5.4 12 0 0 1 18.3 12M22 -12A5.4 12 0 0 1 22 12M25.7 -12A5.4 12 0 0 1 25.7 12M29.3 -12A5.4 12 0 0 1 29.3 12M33 -12A5.4 12 0 0 1 33 12M36.7 -12A5.4 12 0 0 1 36.7 12M40.3 -12A5.4 12 0 0 1 40.3 12M44 -12A5.4 12 0 0 1 44 12M47.7 -12A5.4 12 0 0 1 47.7 12M51.3 -12A5.4 12 0 0 1 51.3 12M55 -12A5.4 12 0 0 1 55 12" fill="none" stroke="#111" stroke-width="2.5"/><path class="k" d="M55 -14L86 -20L485.9 -20L523.9 -14A6.3 14 0 0 1 523.9 14L485.9 20L86 20L55 14A6.3 14 0 0 0 55 -14Z"/><path class="n" d="M86 -20A9 20 0 0 1 86 20"/><path class="t" d="M90.5 -20A9 20 0 0 1 90.5 20"/><path class="t" d="M485.9 -20A9 20 0 0 1 485.9 20"/><path d="M55 -14A6.3 14 0 0 1 55 14" style="fill:none;stroke:#111;stroke-width:3"/><ellipse class="k" cx="0" cy="0" rx="4.4" ry="9.8"/><ellipse class="n" cx="291.2" cy="17.8" rx="9.5" ry="4.5" transform="rotate(-17.4 291.2 17.8)"/></g>
<g transform="translate(1630.9,2101) rotate(-21)"><path class="k" d="M651.2 -11.6L709.2 -11.6A5.2 11.6 0 0 1 709.2 11.6L651.2 11.6A5.2 11.6 0 0 1 651.2 -11.6Z"/><path d="M651.2 -11.6A5.2 11.6 0 0 1 651.2 11.6M654.8 -11.6A5.2 11.6 0 0 1 654.8 11.6M658.4 -11.6A5.2 11.6 0 0 1 658.4 11.6M662 -11.6A5.2 11.6 0 0 1 662 11.6M665.7 -11.6A5.2 11.6 0 0 1 665.7 11.6M669.3 -11.6A5.2 11.6 0 0 1 669.3 11.6M672.9 -11.6A5.2 11.6 0 0 1 672.9 11.6M676.5 -11.6A5.2 11.6 0 0 1 676.5 11.6M680.2 -11.6A5.2 11.6 0 0 1 680.2 11.6M683.8 -11.6A5.2 11.6 0 0 1 683.8 11.6M687.4 -11.6A5.2 11.6 0 0 1 687.4 11.6M691 -11.6A5.2 11.6 0 0 1 691 11.6M694.7 -11.6A5.2 11.6 0 0 1 694.7 11.6M698.3 -11.6A5.2 11.6 0 0 1 698.3 11.6M701.9 -11.6A5.2 11.6 0 0 1 701.9 11.6M705.5 -11.6A5.2 11.6 0 0 1 705.5 11.6M709.2 -11.6A5.2 11.6 0 0 1 709.2 11.6" fill="none" stroke="#111" stroke-width="2.5"/><path class="n" d="M709.2 -11.6A5.2 11.6 0 0 1 709.2 11.6"/><path class="k" d="M0 -11.6L61 -11.6A5.2 11.6 0 0 1 61 11.6L0 11.6A5.2 11.6 0 0 1 0 -11.6Z"/><path d="M0 -11.6A5.2 11.6 0 0 1 0 11.6M3.8 -11.6A5.2 11.6 0 0 1 3.8 11.6M7.6 -11.6A5.2 11.6 0 0 1 7.6 11.6M11.4 -11.6A5.2 11.6 0 0 1 11.4 11.6M15.2 -11.6A5.2 11.6 0 0 1 15.2 11.6M19.1 -11.6A5.2 11.6 0 0 1 19.1 11.6M22.9 -11.6A5.2 11.6 0 0 1 22.9 11.6M26.7 -11.6A5.2 11.6 0 0 1 26.7 11.6M30.5 -11.6A5.2 11.6 0 0 1 30.5 11.6M34.3 -11.6A5.2 11.6 0 0 1 34.3 11.6M38.1 -11.6A5.2 11.6 0 0 1 38.1 11.6M41.9 -11.6A5.2 11.6 0 0 1 41.9 11.6M45.8 -11.6A5.2 11.6 0 0 1 45.8 11.6M49.6 -11.6A5.2 11.6 0 0 1 49.6 11.6M53.4 -11.6A5.2 11.6 0 0 1 53.4 11.6M57.2 -11.6A5.2 11.6 0 0 1 57.2 11.6M61 -11.6A5.2 11.6 0 0 1 61 11.6" fill="none" stroke="#111" stroke-width="2.5"/><path class="k" d="M61 -13.6L98 -20.4L615.2 -20.4L651.2 -13.6A6.1 13.6 0 0 1 651.2 13.6L615.2 20.4L98 20.4L61 13.6A6.1 13.6 0 0 0 61 -13.6Z"/><path class="n" d="M98 -20.4A9.2 20.4 0 0 1 98 20.4"/><path class="t" d="M102.5 -20.4A9.2 20.4 0 0 1 102.5 20.4"/><path class="t" d="M615.2 -20.4A9.2 20.4 0 0 1 615.2 20.4"/><path d="M61 -13.6A6.1 13.6 0 0 1 61 13.6" style="fill:none;stroke:#111;stroke-width:3"/><ellipse class="k" cx="0" cy="0" rx="4.3" ry="9.5"/><ellipse class="n" cx="367.4" cy="-3.8" rx="9.5" ry="6.5" transform="rotate(-11 367.4 -3.8)"/></g>
<!-- p_23_shafts -->
<g transform="translate(1038.5,216.3) rotate(28.1)"><path class="k" d="M75 -10.5L0 -10.5A4.7 10.5 0 0 0 0 10.5L75 10.5A4.7 10.5 0 0 0 75 -10.5Z"/><ellipse class="k" cx="75" cy="0" rx="4.7" ry="10.5"/><path class="t" d="M0 -4.7L75 -4.7"/><path class="t" d="M0 5.2L75 5.2"/><path class="k" d="M82 -26L74 -26A11.7 26 0 0 0 74 26L82 26A11.7 26 0 0 0 82 -26Z"/><ellipse class="k" cx="82" cy="0" rx="11.7" ry="26"/><path class="k" d="M90 -21L82 -21A9.5 21 0 0 0 82 21L90 21A9.5 21 0 0 0 90 -21Z"/><ellipse class="k" cx="90" cy="0" rx="9.5" ry="21"/><path class="k" d="M136 -15L90 -15A6.8 15 0 0 0 90 15L136 15A6.8 15 0 0 0 136 -15Z"/><ellipse class="k" cx="136" cy="0" rx="6.8" ry="15"/><path class="k" d="M145 -17L136 -17A7.7 17 0 0 0 136 17L145 17A7.7 17 0 0 0 145 -17Z"/><ellipse class="k" cx="145" cy="0" rx="7.7" ry="17"/><path class="k" d="M413 -11.5L145 -11.5A5.2 11.5 0 0 0 145 11.5L413 11.5A5.2 11.5 0 0 0 413 -11.5Z"/><ellipse class="k" cx="413" cy="0" rx="5.2" ry="11.5"/><path class="k" d="M419 -14.5L413 -14.5A6.5 14.5 0 0 0 413 14.5L419 14.5A6.5 14.5 0 0 0 419 -14.5Z"/><ellipse class="k" cx="419" cy="0" rx="6.5" ry="14.5"/><path class="k" d="M426 -14.5L419 -14.5A6.5 14.5 0 0 0 419 14.5L426 14.5A6.5 14.5 0 0 0 426 -14.5Z"/><ellipse class="k" cx="426" cy="0" rx="6.5" ry="14.5"/><path class="k" d="M495 -10.5L426 -10.5A4.7 10.5 0 0 0 426 10.5L495 10.5A4.7 10.5 0 0 0 495 -10.5Z"/><ellipse class="k" cx="495" cy="0" rx="4.7" ry="10.5"/><path class="t" d="M426 -4.7L495 -4.7"/><path class="t" d="M426 5.2L495 5.2"/></g>
<g transform="translate(1030.8,369.1) rotate(27.3)"><path class="k" d="M0 -13L64 -13A5.9 13 0 0 1 64 13L0 13A5.9 13 0 0 1 0 -13Z"/><path d="M0 -13A5.9 13 0 0 1 0 13A5.9 13 0 0 1 0 -13Z" fill="#111" stroke="none"/><path d="M0 -13A5.9 13 0 0 1 0 13M3.8 -13A5.9 13 0 0 1 3.8 13M7.5 -13A5.9 13 0 0 1 7.5 13M11.3 -13A5.9 13 0 0 1 11.3 13M15.1 -13A5.9 13 0 0 1 15.1 13M18.8 -13A5.9 13 0 0 1 18.8 13M22.6 -13A5.9 13 0 0 1 22.6 13M26.4 -13A5.9 13 0 0 1 26.4 13M30.1 -13A5.9 13 0 0 1 30.1 13M33.9 -13A5.9 13 0 0 1 33.9 13M37.6 -13A5.9 13 0 0 1 37.6 13M41.4 -13A5.9 13 0 0 1 41.4 13M45.2 -13A5.9 13 0 0 1 45.2 13M48.9 -13A5.9 13 0 0 1 48.9 13M52.7 -13A5.9 13 0 0 1 52.7 13M56.5 -13A5.9 13 0 0 1 56.5 13M60.2 -13A5.9 13 0 0 1 60.2 13M64 -13A5.9 13 0 0 1 64 13" fill="none" stroke="#111" stroke-width="2.5"/><ellipse class="k" cx="64" cy="0" rx="4.7" ry="10.4"/><path class="k" d="M79 -12L63 -12A5.4 12 0 0 0 63 12L79 12A5.4 12 0 0 0 79 -12Z"/><ellipse class="k" cx="79" cy="0" rx="5.4" ry="12"/><path class="k" d="M199 -15.4L78 -15.4A6.9 15.4 0 0 0 78 15.4L199 15.4A6.9 15.4 0 0 0 199 -15.4Z"/><ellipse class="k" cx="199" cy="0" rx="6.9" ry="15.4"/><ellipse class="n" cx="83" cy="-3" rx="5.5" ry="8.5"/><ellipse class="n" cx="160" cy="-3" rx="5.5" ry="8.5"/><ellipse class="t" cx="199" cy="0" rx="5.6" ry="12.5"/></g>
<g transform="translate(2450.8,984.2) rotate(26.7)"><path class="k" d="M63 -10.5L0 -10.5A4.7 10.5 0 0 0 0 10.5L63 10.5A4.7 10.5 0 0 0 63 -10.5Z"/><ellipse class="k" cx="63" cy="0" rx="4.7" ry="10.5"/><path class="t" d="M0 -4.7L63 -4.7"/><path class="t" d="M0 5.2L63 5.2"/><path class="k" d="M69 -14.5L63 -14.5A6.5 14.5 0 0 0 63 14.5L69 14.5A6.5 14.5 0 0 0 69 -14.5Z"/><ellipse class="k" cx="69" cy="0" rx="6.5" ry="14.5"/><path class="k" d="M75 -14.5L69 -14.5A6.5 14.5 0 0 0 69 14.5L75 14.5A6.5 14.5 0 0 0 75 -14.5Z"/><ellipse class="k" cx="75" cy="0" rx="6.5" ry="14.5"/><path class="k" d="M344 -11.5L75 -11.5A5.2 11.5 0 0 0 75 11.5L344 11.5A5.2 11.5 0 0 0 344 -11.5Z"/><ellipse class="k" cx="344" cy="0" rx="5.2" ry="11.5"/><path class="k" d="M352 -16.5L344 -16.5A7.4 16.5 0 0 0 344 16.5L352 16.5A7.4 16.5 0 0 0 352 -16.5Z"/><ellipse class="k" cx="352" cy="0" rx="7.4" ry="16.5"/><path class="k" d="M412 -15L352 -15A6.8 15 0 0 0 352 15L412 15A6.8 15 0 0 0 412 -15Z"/><ellipse class="k" cx="412" cy="0" rx="6.8" ry="15"/><path class="k" d="M420 -21L412 -21A9.5 21 0 0 0 412 21L420 21A9.5 21 0 0 0 420 -21Z"/><ellipse class="k" cx="420" cy="0" rx="9.5" ry="21"/><path class="k" d="M428 -26L420 -26A11.7 26 0 0 0 420 26L428 26A11.7 26 0 0 0 428 -26Z"/><ellipse class="k" cx="428" cy="0" rx="11.7" ry="26"/><path class="k" d="M496 -10.5L428 -10.5A4.7 10.5 0 0 0 428 10.5L496 10.5A4.7 10.5 0 0 0 496 -10.5Z"/><ellipse class="k" cx="496" cy="0" rx="4.7" ry="10.5"/><path class="t" d="M428 -4.7L496 -4.7"/><path class="t" d="M428 5.2L496 5.2"/></g>
<g transform="translate(2565.3,1133.3) rotate(28.9)"><path class="k" d="M121 -15.4L0 -15.4A6.9 15.4 0 0 0 0 15.4L121 15.4A6.9 15.4 0 0 0 121 -15.4Z"/><ellipse class="k" cx="121" cy="0" rx="6.9" ry="15.4"/><path class="k" d="M135 -13L198.5 -13A5.9 13 0 0 1 198.5 13L135 13A5.9 13 0 0 1 135 -13Z"/><path d="M135 -13A5.9 13 0 0 1 135 13M138.7 -13A5.9 13 0 0 1 138.7 13M142.5 -13A5.9 13 0 0 1 142.5 13M146.2 -13A5.9 13 0 0 1 146.2 13M149.9 -13A5.9 13 0 0 1 149.9 13M153.7 -13A5.9 13 0 0 1 153.7 13M157.4 -13A5.9 13 0 0 1 157.4 13M161.1 -13A5.9 13 0 0 1 161.1 13M164.9 -13A5.9 13 0 0 1 164.9 13M168.6 -13A5.9 13 0 0 1 168.6 13M172.4 -13A5.9 13 0 0 1 172.4 13M176.1 -13A5.9 13 0 0 1 176.1 13M179.8 -13A5.9 13 0 0 1 179.8 13M183.6 -13A5.9 13 0 0 1 183.6 13M187.3 -13A5.9 13 0 0 1 187.3 13M191 -13A5.9 13 0 0 1 191 13M194.8 -13A5.9 13 0 0 1 194.8 13M198.5 -13A5.9 13 0 0 1 198.5 13" fill="none" stroke="#111" stroke-width="2.5"/><ellipse class="k" cx="198.5" cy="0" rx="4.7" ry="10.4"/><path class="k" d="M136 -12L121 -12A5.4 12 0 0 0 121 12L136 12A5.4 12 0 0 0 136 -12Z"/><ellipse class="k" cx="136" cy="0" rx="5.4" ry="12"/><ellipse class="n" cx="22" cy="-3" rx="5.5" ry="8.5"/><ellipse class="n" cx="100" cy="-3" rx="5.5" ry="8.5"/></g>
<!-- p_30_gears -->
<g transform="translate(984.5,181.6) rotate(28)"><path class="k" d="M-26.1 -1.5L-22.3 0.6L-22.6 6.2L-26.6 6.9L-27.5 11.4L-24.7 16.3L-26.5 21L-30.2 18.5L-32.2 21.7L-31.1 28.3L-33.9 31L-36.5 25.8L-39.2 27.1L-40 33.8L-43.2 33.9L-44.1 27.3L-46.8 26.2L-49.3 31.6L-52.2 29.1L-51.2 22.4L-53.3 19.3L-57 22.1L-58.9 17.6L-56.2 12.5L-57.3 8L-61.2 7.5L-61.7 2L-57.9 -0.4L-57.7 -5.1L-61.1 -8.7L-60 -14L-56 -13.1L-54.5 -17.1L-56.5 -23L-54.1 -26.8L-50.9 -22.8L-48.5 -25.1L-48.7 -32L-45.5 -33.4L-43.7 -27.3L-40.9 -27.4L-39.3 -33.7L-36.1 -32.5L-36.2 -25.6L-33.7 -23.5L-30.5 -27.6L-28 -24L-29.9 -18L-28.3 -14.1L-24.4 -15.3L-23.2 -10.1L-26.5 -6.2Z"/><path class="t" d="M19.7 0.6L-22.3 0.6M19.4 6.2L-22.6 6.2M15.4 6.9L-26.6 6.9M17.3 16.3L-24.7 16.3M15.5 21L-26.5 21M11.8 18.5L-30.2 18.5M10.9 28.3L-31.1 28.3M8.1 31L-33.9 31M5.5 25.8L-36.5 25.8M2 33.8L-40 33.8M-1.2 33.9L-43.2 33.9M-2.1 27.3L-44.1 27.3M-7.3 31.6L-49.3 31.6M-10.2 29.1L-52.2 29.1M-9.2 22.4L-51.2 22.4M-15 22.1L-57 22.1M-16.9 17.6L-58.9 17.6M-14.2 12.5L-56.2 12.5M-19.2 7.5L-61.2 7.5M-19.7 2L-61.7 2M-15.9 -0.4L-57.9 -0.4M-19.1 -8.7L-61.1 -8.7M-18 -14L-60 -14M-14 -13.1L-56 -13.1M-14.5 -23L-56.5 -23M-12.1 -26.8L-54.1 -26.8M-8.9 -22.8L-50.9 -22.8M-6.7 -32L-48.7 -32M-3.5 -33.4L-45.5 -33.4M-1.7 -27.3L-43.7 -27.3M2.7 -33.7L-39.3 -33.7M5.9 -32.5L-36.1 -32.5M5.8 -25.6L-36.2 -25.6M11.5 -27.6L-30.5 -27.6M14 -24L-28 -24M12.1 -18L-29.9 -18M17.6 -15.3L-24.4 -15.3M18.8 -10.1L-23.2 -10.1M15.5 -6.2L-26.5 -6.2"/><path class="k" d="M15.9 -1.5L19.7 0.6L19.4 6.2L15.4 6.9L14.5 11.4L17.3 16.3L15.5 21L11.8 18.5L9.8 21.7L10.9 28.3L8.1 31L5.5 25.8L2.8 27.1L2 33.8L-1.2 33.9L-2.1 27.3L-4.8 26.2L-7.3 31.6L-10.2 29.1L-9.2 22.4L-11.3 19.3L-15 22.1L-16.9 17.6L-14.2 12.5L-15.3 8L-19.2 7.5L-19.7 2L-15.9 -0.4L-15.7 -5.1L-19.1 -8.7L-18 -14L-14 -13.1L-12.5 -17.1L-14.5 -23L-12.1 -26.8L-8.9 -22.8L-6.5 -25.1L-6.7 -32L-3.5 -33.4L-1.7 -27.3L1.1 -27.4L2.7 -33.7L5.9 -32.5L5.8 -25.6L8.3 -23.5L11.5 -27.6L14 -24L12.1 -18L13.7 -14.1L17.6 -15.3L18.8 -10.1L15.5 -6.2Z"/><ellipse class="n" cx="0" cy="0" rx="12.8" ry="22"/><ellipse class="t" cx="0" cy="0" rx="11.3" ry="19.5"/><path class="n" d="M-7 -10L5.8 -13L7.5 9L-5.2 13Z"/><path class="t" d="M-5.2 13L-11.2 8L-12 -8"/></g>
<g transform="translate(986.4,335.2) rotate(28)"><path class="k" d="M2.5 -1.4L7.7 0.7L7.5 5.8L2.2 7L1.8 11.6L6.6 15.6L5.8 20.6L0.4 19.6L-0.6 23.9L3.5 29.8L2 34.3L-3 31.2L-4.6 34.9L-1.4 42.3L-3.4 46.1L-7.9 41L-10 44.1L-7.8 52.5L-10.3 55.4L-14 48.7L-16.4 50.9L-15.4 59.9L-18.2 61.7L-20.9 53.8L-23.6 54.9L-23.8 64.1L-26.8 64.8L-28.4 55.9L-31.1 56L-32.6 64.8L-35.5 64.3L-35.9 55.1L-38.6 54L-41.2 62.1L-44 60.4L-43.1 51.2L-45.5 49.2L-49.2 55.9L-51.7 53.2L-49.6 44.6L-51.7 41.7L-56.2 46.8L-58.2 43.1L-55 35.6L-56.7 31.9L-61.7 35.1L-63.2 30.7L-59.1 24.7L-60.2 20.4L-65.6 21.6L-66.4 16.7L-61.7 12.5L-62.2 7.9L-67.5 6.9L-67.7 1.7L-62.5 -0.5L-62.3 -5.1L-67.4 -8.2L-66.9 -13.3L-61.5 -13.4L-60.8 -17.9L-65.3 -22.9L-64.1 -27.6L-58.9 -25.5L-57.6 -29.6L-61.3 -36.3L-59.5 -40.4L-54.7 -36.3L-52.9 -39.8L-55.6 -47.7L-53.3 -51.1L-49.2 -45.2L-46.9 -47.8L-48.5 -56.6L-45.9 -59L-42.6 -51.6L-40.1 -53.2L-40.4 -62.5L-37.5 -63.7L-35.4 -55.2L-32.7 -55.8L-31.8 -64.9L-28.8 -65L-27.8 -55.9L-25.1 -55.4L-23.1 -63.9L-20.2 -62.7L-20.4 -53.5L-17.9 -51.9L-14.7 -59.4L-12 -57.1L-13.5 -48.3L-11.2 -45.7L-7.2 -51.7L-4.9 -48.5L-7.5 -40.4L-5.6 -37L-0.9 -41.3L0.9 -37.2L-2.7 -30.4L-1.3 -26.3L3.9 -28.6L5.1 -23.9L0.6 -18.7L1.4 -14.2L6.8 -14.3L7.3 -9.3L2.3 -6Z"/><path class="t" d="M37.7 0.7L7.7 0.7M37.5 5.8L7.5 5.8M32.2 7L2.2 7M36.6 15.6L6.6 15.6M35.8 20.6L5.8 20.6M30.4 19.6L0.4 19.6M33.5 29.8L3.5 29.8M32 34.3L2 34.3M27 31.2L-3 31.2M28.6 42.3L-1.4 42.3M26.6 46.1L-3.4 46.1M22.1 41L-7.9 41M22.2 52.5L-7.8 52.5M19.7 55.4L-10.3 55.4M16 48.7L-14 48.7M14.6 59.9L-15.4 59.9M11.8 61.7L-18.2 61.7M9.1 53.8L-20.9 53.8M6.2 64.1L-23.8 64.1M3.2 64.8L-26.8 64.8M1.6 55.9L-28.4 55.9M-2.6 64.8L-32.6 64.8M-5.5 64.3L-35.5 64.3M-5.9 55.1L-35.9 55.1M-11.2 62.1L-41.2 62.1M-14 60.4L-44 60.4M-13.1 51.2L-43.1 51.2M-19.2 55.9L-49.2 55.9M-21.7 53.2L-51.7 53.2M-19.6 44.6L-49.6 44.6M-26.2 46.8L-56.2 46.8M-28.2 43.1L-58.2 43.1M-25 35.6L-55 35.6M-31.7 35.1L-61.7 35.1M-33.2 30.7L-63.2 30.7M-29.1 24.7L-59.1 24.7M-35.6 21.6L-65.6 21.6M-36.4 16.7L-66.4 16.7M-31.7 12.5L-61.7 12.5M-37.5 6.9L-67.5 6.9M-37.7 1.7L-67.7 1.7M-32.5 -0.5L-62.5 -0.5M-37.4 -8.2L-67.4 -8.2M-36.9 -13.3L-66.9 -13.3M-31.5 -13.4L-61.5 -13.4M-35.3 -22.9L-65.3 -22.9M-34.1 -27.6L-64.1 -27.6M-28.9 -25.5L-58.9 -25.5M-31.3 -36.3L-61.3 -36.3M-29.5 -40.4L-59.5 -40.4M-24.7 -36.3L-54.7 -36.3M-25.6 -47.7L-55.6 -47.7M-23.3 -51.1L-53.3 -51.1M-19.2 -45.2L-49.2 -45.2M-18.5 -56.6L-48.5 -56.6M-15.9 -59L-45.9 -59M-12.6 -51.6L-42.6 -51.6M-10.4 -62.5L-40.4 -62.5M-7.5 -63.7L-37.5 -63.7M-5.4 -55.2L-35.4 -55.2M-1.8 -64.9L-31.8 -64.9M1.2 -65L-28.8 -65M2.2 -55.9L-27.8 -55.9M6.9 -63.9L-23.1 -63.9M9.8 -62.7L-20.2 -62.7M9.6 -53.5L-20.4 -53.5M15.3 -59.4L-14.7 -59.4M18 -57.1L-12 -57.1M16.5 -48.3L-13.5 -48.3M22.8 -51.7L-7.2 -51.7M25.1 -48.5L-4.9 -48.5M22.5 -40.4L-7.5 -40.4M29.1 -41.3L-0.9 -41.3M30.9 -37.2L0.9 -37.2M27.3 -30.4L-2.7 -30.4M33.9 -28.6L3.9 -28.6M35.1 -23.9L5.1 -23.9M30.6 -18.7L0.6 -18.7M36.8 -14.3L6.8 -14.3M37.3 -9.3L7.3 -9.3M32.3 -6L2.3 -6"/><path class="k" d="M32.5 -1.4L37.7 0.7L37.5 5.8L32.2 7L31.8 11.6L36.6 15.6L35.8 20.6L30.4 19.6L29.4 23.9L33.5 29.8L32 34.3L27 31.2L25.4 34.9L28.6 42.3L26.6 46.1L22.1 41L20 44.1L22.2 52.5L19.7 55.4L16 48.7L13.6 50.9L14.6 59.9L11.8 61.7L9.1 53.8L6.4 54.9L6.2 64.1L3.2 64.8L1.6 55.9L-1.1 56L-2.6 64.8L-5.5 64.3L-5.9 55.1L-8.6 54L-11.2 62.1L-14 60.4L-13.1 51.2L-15.5 49.2L-19.2 55.9L-21.7 53.2L-19.6 44.6L-21.7 41.7L-26.2 46.8L-28.2 43.1L-25 35.6L-26.7 31.9L-31.7 35.1L-33.2 30.7L-29.1 24.7L-30.2 20.4L-35.6 21.6L-36.4 16.7L-31.7 12.5L-32.2 7.9L-37.5 6.9L-37.7 1.7L-32.5 -0.5L-32.3 -5.1L-37.4 -8.2L-36.9 -13.3L-31.5 -13.4L-30.8 -17.9L-35.3 -22.9L-34.1 -27.6L-28.9 -25.5L-27.6 -29.6L-31.3 -36.3L-29.5 -40.4L-24.7 -36.3L-22.9 -39.8L-25.6 -47.7L-23.3 -51.1L-19.2 -45.2L-16.9 -47.8L-18.5 -56.6L-15.9 -59L-12.6 -51.6L-10.1 -53.2L-10.4 -62.5L-7.5 -63.7L-5.4 -55.2L-2.7 -55.8L-1.8 -64.9L1.2 -65L2.2 -55.9L4.9 -55.4L6.9 -63.9L9.8 -62.7L9.6 -53.5L12.1 -51.9L15.3 -59.4L18 -57.1L16.5 -48.3L18.8 -45.7L22.8 -51.7L25.1 -48.5L22.5 -40.4L24.4 -37L29.1 -41.3L30.9 -37.2L27.3 -30.4L28.7 -26.3L33.9 -28.6L35.1 -23.9L30.6 -18.7L31.4 -14.2L36.8 -14.3L37.3 -9.3L32.3 -6Z"/><ellipse class="n" cx="0" cy="0" rx="26.7" ry="46"/><ellipse class="t" cx="0" cy="0" rx="24.4" ry="42"/><ellipse class="n" cx="0" cy="0" rx="9.9" ry="17"/><path class="n" d="M-4.6 -30A17.4 30 0 0 1 -4.6 30"/><path class="n" d="M4.6 -24A13.9 24 0 0 0 4.6 24"/><path class="t" d="M5.8 -36A20.9 36 0 0 1 20.3 -8"/><path class="t" d="M-5.8 36A20.9 36 0 0 1 -20.3 8"/><path class="n" d="M-22 2L-11.6 -6L-11.6 10Z"/><path class="n" d="M22 -2L11.6 6L11.6 -10Z"/><path class="t" d="M-9.9 -8L9.9 -12"/><path class="t" d="M-9.9 10L9.9 6"/></g>
<g transform="translate(2965,1256.5) rotate(28)"><path class="k" d="M-26.1 -1.5L-22.3 0.6L-22.6 6.2L-26.6 6.9L-27.5 11.4L-24.7 16.3L-26.5 21L-30.2 18.5L-32.2 21.7L-31.1 28.3L-33.9 31L-36.5 25.8L-39.2 27.1L-40 33.8L-43.2 33.9L-44.1 27.3L-46.8 26.2L-49.3 31.6L-52.2 29.1L-51.2 22.4L-53.3 19.3L-57 22.1L-58.9 17.6L-56.2 12.5L-57.3 8L-61.2 7.5L-61.7 2L-57.9 -0.4L-57.7 -5.1L-61.1 -8.7L-60 -14L-56 -13.1L-54.5 -17.1L-56.5 -23L-54.1 -26.8L-50.9 -22.8L-48.5 -25.1L-48.7 -32L-45.5 -33.4L-43.7 -27.3L-40.9 -27.4L-39.3 -33.7L-36.1 -32.5L-36.2 -25.6L-33.7 -23.5L-30.5 -27.6L-28 -24L-29.9 -18L-28.3 -14.1L-24.4 -15.3L-23.2 -10.1L-26.5 -6.2Z"/><path class="t" d="M19.7 0.6L-22.3 0.6M19.4 6.2L-22.6 6.2M15.4 6.9L-26.6 6.9M17.3 16.3L-24.7 16.3M15.5 21L-26.5 21M11.8 18.5L-30.2 18.5M10.9 28.3L-31.1 28.3M8.1 31L-33.9 31M5.5 25.8L-36.5 25.8M2 33.8L-40 33.8M-1.2 33.9L-43.2 33.9M-2.1 27.3L-44.1 27.3M-7.3 31.6L-49.3 31.6M-10.2 29.1L-52.2 29.1M-9.2 22.4L-51.2 22.4M-15 22.1L-57 22.1M-16.9 17.6L-58.9 17.6M-14.2 12.5L-56.2 12.5M-19.2 7.5L-61.2 7.5M-19.7 2L-61.7 2M-15.9 -0.4L-57.9 -0.4M-19.1 -8.7L-61.1 -8.7M-18 -14L-60 -14M-14 -13.1L-56 -13.1M-14.5 -23L-56.5 -23M-12.1 -26.8L-54.1 -26.8M-8.9 -22.8L-50.9 -22.8M-6.7 -32L-48.7 -32M-3.5 -33.4L-45.5 -33.4M-1.7 -27.3L-43.7 -27.3M2.7 -33.7L-39.3 -33.7M5.9 -32.5L-36.1 -32.5M5.8 -25.6L-36.2 -25.6M11.5 -27.6L-30.5 -27.6M14 -24L-28 -24M12.1 -18L-29.9 -18M17.6 -15.3L-24.4 -15.3M18.8 -10.1L-23.2 -10.1M15.5 -6.2L-26.5 -6.2"/><path class="k" d="M15.9 -1.5L19.7 0.6L19.4 6.2L15.4 6.9L14.5 11.4L17.3 16.3L15.5 21L11.8 18.5L9.8 21.7L10.9 28.3L8.1 31L5.5 25.8L2.8 27.1L2 33.8L-1.2 33.9L-2.1 27.3L-4.8 26.2L-7.3 31.6L-10.2 29.1L-9.2 22.4L-11.3 19.3L-15 22.1L-16.9 17.6L-14.2 12.5L-15.3 8L-19.2 7.5L-19.7 2L-15.9 -0.4L-15.7 -5.1L-19.1 -8.7L-18 -14L-14 -13.1L-12.5 -17.1L-14.5 -23L-12.1 -26.8L-8.9 -22.8L-6.5 -25.1L-6.7 -32L-3.5 -33.4L-1.7 -27.3L1.1 -27.4L2.7 -33.7L5.9 -32.5L5.8 -25.6L8.3 -23.5L11.5 -27.6L14 -24L12.1 -18L13.7 -14.1L17.6 -15.3L18.8 -10.1L15.5 -6.2Z"/><ellipse class="n" cx="0" cy="0" rx="12.8" ry="22"/><ellipse class="t" cx="0" cy="0" rx="11.3" ry="19.5"/><path class="n" d="M-7 -10L5.8 -13L7.5 9L-5.2 13Z"/><path class="t" d="M-5.2 13L-11.2 8L-12 -8"/></g>
<g transform="translate(2962,1382) rotate(28)"><path class="k" d="M2.5 -1.4L7.7 0.7L7.5 5.8L2.2 7L1.8 11.6L6.6 15.6L5.8 20.6L0.4 19.6L-0.6 23.9L3.5 29.8L2 34.3L-3 31.2L-4.6 34.9L-1.4 42.3L-3.4 46.1L-7.9 41L-10 44.1L-7.8 52.5L-10.3 55.4L-14 48.7L-16.4 50.9L-15.4 59.9L-18.2 61.7L-20.9 53.8L-23.6 54.9L-23.8 64.1L-26.8 64.8L-28.4 55.9L-31.1 56L-32.6 64.8L-35.5 64.3L-35.9 55.1L-38.6 54L-41.2 62.1L-44 60.4L-43.1 51.2L-45.5 49.2L-49.2 55.9L-51.7 53.2L-49.6 44.6L-51.7 41.7L-56.2 46.8L-58.2 43.1L-55 35.6L-56.7 31.9L-61.7 35.1L-63.2 30.7L-59.1 24.7L-60.2 20.4L-65.6 21.6L-66.4 16.7L-61.7 12.5L-62.2 7.9L-67.5 6.9L-67.7 1.7L-62.5 -0.5L-62.3 -5.1L-67.4 -8.2L-66.9 -13.3L-61.5 -13.4L-60.8 -17.9L-65.3 -22.9L-64.1 -27.6L-58.9 -25.5L-57.6 -29.6L-61.3 -36.3L-59.5 -40.4L-54.7 -36.3L-52.9 -39.8L-55.6 -47.7L-53.3 -51.1L-49.2 -45.2L-46.9 -47.8L-48.5 -56.6L-45.9 -59L-42.6 -51.6L-40.1 -53.2L-40.4 -62.5L-37.5 -63.7L-35.4 -55.2L-32.7 -55.8L-31.8 -64.9L-28.8 -65L-27.8 -55.9L-25.1 -55.4L-23.1 -63.9L-20.2 -62.7L-20.4 -53.5L-17.9 -51.9L-14.7 -59.4L-12 -57.1L-13.5 -48.3L-11.2 -45.7L-7.2 -51.7L-4.9 -48.5L-7.5 -40.4L-5.6 -37L-0.9 -41.3L0.9 -37.2L-2.7 -30.4L-1.3 -26.3L3.9 -28.6L5.1 -23.9L0.6 -18.7L1.4 -14.2L6.8 -14.3L7.3 -9.3L2.3 -6Z"/><path class="t" d="M37.7 0.7L7.7 0.7M37.5 5.8L7.5 5.8M32.2 7L2.2 7M36.6 15.6L6.6 15.6M35.8 20.6L5.8 20.6M30.4 19.6L0.4 19.6M33.5 29.8L3.5 29.8M32 34.3L2 34.3M27 31.2L-3 31.2M28.6 42.3L-1.4 42.3M26.6 46.1L-3.4 46.1M22.1 41L-7.9 41M22.2 52.5L-7.8 52.5M19.7 55.4L-10.3 55.4M16 48.7L-14 48.7M14.6 59.9L-15.4 59.9M11.8 61.7L-18.2 61.7M9.1 53.8L-20.9 53.8M6.2 64.1L-23.8 64.1M3.2 64.8L-26.8 64.8M1.6 55.9L-28.4 55.9M-2.6 64.8L-32.6 64.8M-5.5 64.3L-35.5 64.3M-5.9 55.1L-35.9 55.1M-11.2 62.1L-41.2 62.1M-14 60.4L-44 60.4M-13.1 51.2L-43.1 51.2M-19.2 55.9L-49.2 55.9M-21.7 53.2L-51.7 53.2M-19.6 44.6L-49.6 44.6M-26.2 46.8L-56.2 46.8M-28.2 43.1L-58.2 43.1M-25 35.6L-55 35.6M-31.7 35.1L-61.7 35.1M-33.2 30.7L-63.2 30.7M-29.1 24.7L-59.1 24.7M-35.6 21.6L-65.6 21.6M-36.4 16.7L-66.4 16.7M-31.7 12.5L-61.7 12.5M-37.5 6.9L-67.5 6.9M-37.7 1.7L-67.7 1.7M-32.5 -0.5L-62.5 -0.5M-37.4 -8.2L-67.4 -8.2M-36.9 -13.3L-66.9 -13.3M-31.5 -13.4L-61.5 -13.4M-35.3 -22.9L-65.3 -22.9M-34.1 -27.6L-64.1 -27.6M-28.9 -25.5L-58.9 -25.5M-31.3 -36.3L-61.3 -36.3M-29.5 -40.4L-59.5 -40.4M-24.7 -36.3L-54.7 -36.3M-25.6 -47.7L-55.6 -47.7M-23.3 -51.1L-53.3 -51.1M-19.2 -45.2L-49.2 -45.2M-18.5 -56.6L-48.5 -56.6M-15.9 -59L-45.9 -59M-12.6 -51.6L-42.6 -51.6M-10.4 -62.5L-40.4 -62.5M-7.5 -63.7L-37.5 -63.7M-5.4 -55.2L-35.4 -55.2M-1.8 -64.9L-31.8 -64.9M1.2 -65L-28.8 -65M2.2 -55.9L-27.8 -55.9M6.9 -63.9L-23.1 -63.9M9.8 -62.7L-20.2 -62.7M9.6 -53.5L-20.4 -53.5M15.3 -59.4L-14.7 -59.4M18 -57.1L-12 -57.1M16.5 -48.3L-13.5 -48.3M22.8 -51.7L-7.2 -51.7M25.1 -48.5L-4.9 -48.5M22.5 -40.4L-7.5 -40.4M29.1 -41.3L-0.9 -41.3M30.9 -37.2L0.9 -37.2M27.3 -30.4L-2.7 -30.4M33.9 -28.6L3.9 -28.6M35.1 -23.9L5.1 -23.9M30.6 -18.7L0.6 -18.7M36.8 -14.3L6.8 -14.3M37.3 -9.3L7.3 -9.3M32.3 -6L2.3 -6"/><path class="k" d="M32.5 -1.4L37.7 0.7L37.5 5.8L32.2 7L31.8 11.6L36.6 15.6L35.8 20.6L30.4 19.6L29.4 23.9L33.5 29.8L32 34.3L27 31.2L25.4 34.9L28.6 42.3L26.6 46.1L22.1 41L20 44.1L22.2 52.5L19.7 55.4L16 48.7L13.6 50.9L14.6 59.9L11.8 61.7L9.1 53.8L6.4 54.9L6.2 64.1L3.2 64.8L1.6 55.9L-1.1 56L-2.6 64.8L-5.5 64.3L-5.9 55.1L-8.6 54L-11.2 62.1L-14 60.4L-13.1 51.2L-15.5 49.2L-19.2 55.9L-21.7 53.2L-19.6 44.6L-21.7 41.7L-26.2 46.8L-28.2 43.1L-25 35.6L-26.7 31.9L-31.7 35.1L-33.2 30.7L-29.1 24.7L-30.2 20.4L-35.6 21.6L-36.4 16.7L-31.7 12.5L-32.2 7.9L-37.5 6.9L-37.7 1.7L-32.5 -0.5L-32.3 -5.1L-37.4 -8.2L-36.9 -13.3L-31.5 -13.4L-30.8 -17.9L-35.3 -22.9L-34.1 -27.6L-28.9 -25.5L-27.6 -29.6L-31.3 -36.3L-29.5 -40.4L-24.7 -36.3L-22.9 -39.8L-25.6 -47.7L-23.3 -51.1L-19.2 -45.2L-16.9 -47.8L-18.5 -56.6L-15.9 -59L-12.6 -51.6L-10.1 -53.2L-10.4 -62.5L-7.5 -63.7L-5.4 -55.2L-2.7 -55.8L-1.8 -64.9L1.2 -65L2.2 -55.9L4.9 -55.4L6.9 -63.9L9.8 -62.7L9.6 -53.5L12.1 -51.9L15.3 -59.4L18 -57.1L16.5 -48.3L18.8 -45.7L22.8 -51.7L25.1 -48.5L22.5 -40.4L24.4 -37L29.1 -41.3L30.9 -37.2L27.3 -30.4L28.7 -26.3L33.9 -28.6L35.1 -23.9L30.6 -18.7L31.4 -14.2L36.8 -14.3L37.3 -9.3L32.3 -6Z"/><ellipse class="n" cx="0" cy="0" rx="26.7" ry="46"/><ellipse class="t" cx="0" cy="0" rx="24.4" ry="42"/><ellipse class="n" cx="0" cy="0" rx="9.9" ry="17"/><path class="n" d="M-4.6 -30A17.4 30 0 0 1 -4.6 30"/><path class="n" d="M4.6 -24A13.9 24 0 0 0 4.6 24"/><path class="t" d="M5.8 -36A20.9 36 0 0 1 20.3 -8"/><path class="t" d="M-5.8 36A20.9 36 0 0 1 -20.3 8"/><path class="n" d="M-22 2L-11.6 -6L-11.6 10Z"/><path class="n" d="M22 -2L11.6 6L11.6 -10Z"/><path class="t" d="M-9.9 -8L9.9 -12"/><path class="t" d="M-9.9 10L9.9 6"/></g>
<!-- p_31_covers -->
<path class="k" d="M675.9 309C678.2 308.1 682.3 306.4 684.5 307.2C686.6 308.1 697.7 315.3 701.7 319.3C705.7 323.3 729.6 349.9 732.8 355.5C735.9 361.1 738.9 381.1 739.7 386.6C740.4 392 742.4 413.4 742.2 421C742.1 428.6 738.7 472.3 737.9 477.9C737.1 483.5 734.2 486.7 732.8 488.3C731.3 489.9 728.2 492 720.7 496.9C713.2 501.8 650.4 542.6 643.1 546.9C635.8 551.2 634.5 549.1 632.8 548.6C631 548.2 623.7 545.2 622.4 541.7C621.1 538.3 617.7 515.3 617.2 507.2C616.7 499.2 616.2 453.2 616.4 445.2C616.5 437.1 618.2 415.6 619 410.7C619.8 405.8 624.4 392.3 625.9 386.6C627.3 380.8 633.6 347.5 636.2 341.7C638.8 336 653.6 320.3 656.9 317.6C660.2 314.9 673.6 309.8 675.9 309Z"/>
<path class="n" d="M682.8 312.8C686.1 312.9 696.2 319.9 700 323.6C703.8 327.3 725.5 352 728.4 357.2C731.4 362.5 734.6 381.2 735.3 386.6C736.1 391.9 738.1 413.6 737.9 421C737.8 428.5 734.3 470.9 733.6 476.2C732.9 481.5 730.5 483.5 729.3 484.8C728.1 486.2 726.1 487.8 719 492.6C711.9 497.3 651 537.5 644 541.7C636.9 546 635.9 543.8 634.5 543.4C633 543.1 627.7 540.4 626.7 537.4C625.7 534.4 622.8 514.9 622.4 507.2C622 499.6 621.4 453.2 621.6 445.2C621.7 437.1 623.4 415.4 624.1 410.7C624.9 405.9 628.8 393.7 630.2 388.3C631.5 382.8 638.1 350.7 640.5 345.2C643 339.6 656 324.6 659.5 321.9C663 319.2 679.4 312.6 682.8 312.8Z"/>
<path class="t" d="M617.2 386.6C618.1 382.5 619.5 370.7 622.4 362.4C625.3 354.1 629.6 343.7 634.5 336.6C639.4 329.4 646 323.3 651.7 319.3C657.5 315.3 666.1 313.6 669 312.4"/>
<path class="t" d="M638.8 332.2L656.9 340"/>
<path class="t" d="M625.9 376.2L640.5 371"/>
<path class="t" d="M641.4 330.5L653.4 317.6"/>
<path class="t" d="M622.4 379.7L625.9 359"/>
<path class="t" d="M656.9 317.6L660.3 324.5"/>
<path class="t" d="M675.9 309L678.4 315.9"/>
<path class="t" d="M684.5 307.2L696.6 317.6"/>
<path class="t" d="M627.6 355.5L643.1 350.3"/>
<path class="n" d="M675.9 327.9C680.7 325.6 687.9 322.5 693.1 322.8C698.3 323 703.4 325.6 706.9 329.7C710.3 333.7 712.9 340 713.8 346.9C714.7 353.8 713.8 363.6 712.1 371C710.3 378.5 705.6 386.8 703.4 391.7C701.3 396.6 698 397.8 699.1 400.3C700.3 402.9 707 403.8 710.3 407.2C713.6 410.7 717.2 414.7 719 421C720.7 427.4 721.6 436.8 720.7 445.2C719.8 453.5 717.5 463.6 713.8 471C710.1 478.5 704.3 484.8 698.3 490C692.2 495.2 684.2 500.1 677.6 502.1C671 504.1 664.1 504.1 658.6 502.1C653.2 500.1 647.8 495.7 644.8 490C641.8 484.3 640.5 475.6 640.5 467.6C640.5 459.5 642.4 448.3 644.8 441.7C647.3 435.1 652.4 431.4 655.2 427.9C657.9 424.5 661.8 423.3 661.2 421C660.6 418.7 654.7 417.6 651.7 414.1C648.7 410.7 644.5 406.7 643.1 400.3C641.7 394 641.7 384.3 643.1 376.2C644.5 368.2 648.3 358.7 651.7 352.1C655.2 345.5 659.8 340.6 663.8 336.6C667.8 332.5 671 330.2 675.9 327.9Z"/>
<path class="n" d="M677.6 336.6C682.2 334 688.8 330.8 693.1 331.4C697.4 332 701.4 335.4 703.4 340C705.5 344.6 706 352.1 705.2 359C704.3 365.9 701.7 374.5 698.3 381.4C694.8 388.3 689.4 396 684.5 400.3C679.6 404.7 673.6 407 669 407.2C664.4 407.5 659.5 405.5 656.9 402.1C654.3 398.6 653.4 392.9 653.4 386.6C653.4 380.2 654.9 370.7 656.9 364.1C658.9 357.5 662.1 351.5 665.5 346.9C669 342.3 673 339.1 677.6 336.6Z"/>
<path class="n" d="M682.8 414.1C687.9 412.4 695.4 411 700 412.4C704.6 413.9 708.2 417.6 710.3 422.8C712.5 427.9 713.5 436.3 712.9 443.4C712.4 450.6 710.2 459.3 706.9 465.9C703.6 472.5 698.6 478.5 693.1 483.1C687.6 487.7 679.9 492 674.1 493.4C668.4 494.9 662.5 494.3 658.6 491.7C654.7 489.1 652.3 483.4 650.9 477.9C649.4 472.5 649 465.6 650 459C651 452.4 653.7 444.3 656.9 438.3C660.1 432.2 664.7 426.8 669 422.8C673.3 418.7 677.6 415.9 682.8 414.1Z"/>
<path class="t" d="M675.9 345.2C676.3 348 679 357 678.4 362.4C677.9 367.9 675.7 373.6 672.4 377.9C669.1 382.2 660.9 386.6 658.6 388.3"/>
<path class="t" d="M687.9 340C688.4 343.7 691.7 355.2 690.5 362.4C689.4 369.6 686.1 377.4 681 383.1C676 388.9 663.8 394.6 660.3 396.9"/>
<path class="t" d="M675.9 421C676.7 424.5 681.3 434.8 681 441.7C680.7 448.6 678.7 457.2 674.1 462.4C669.5 467.6 656.9 471 653.4 472.8"/>
<path class="t" d="M694.8 417.6C695.7 421.6 700.9 433.7 700 441.7C699.1 449.8 696.6 458.7 689.7 465.9C682.8 473 663.8 481.7 658.6 484.8"/>
<path class="t" d="M651.7 464.1C654.6 463.9 664.1 464.4 669 462.4C673.9 460.4 679 453.8 681 452.1"/>
<ellipse class="n" cx="719" cy="367.6" rx="5.2" ry="8.3" transform="rotate(20 719 367.6)"/>
<ellipse class="n" cx="636.2" cy="414.1" rx="5.2" ry="8.3" transform="rotate(20 636.2 414.1)"/>
<ellipse class="n" cx="723.3" cy="481.4" rx="5.2" ry="8.3" transform="rotate(20 723.3 481.4)"/>
<ellipse class="n" cx="637.9" cy="531.4" rx="5.2" ry="8.3" transform="rotate(20 637.9 531.4)"/>
<path class="n" d="M672.4 502.4L687.9 499L688.8 512.4L673.3 515.9Z"/>
<path class="t" d="M675.9 507.2L686.2 504.8"/>
<path class="t" d="M676.2 511.6L686.6 509"/>
<path class="k" d="M2559.7 1332.9C2563.8 1333.1 2576.6 1339.4 2580.3 1342.4C2584.1 1345.4 2595 1357.6 2597.6 1363.1C2600.2 1368.6 2605.2 1389.8 2606.2 1397.6C2607.2 1405.3 2607.9 1431.4 2607.9 1440.7C2607.9 1450 2606.9 1483.8 2606.2 1490.7C2605.5 1497.6 2603.6 1506 2601 1509.7C2598.4 1513.3 2585.2 1523.6 2580.3 1526.9C2575.5 1530.2 2558.6 1539 2552.8 1542.4C2546.9 1545.9 2526.2 1558.6 2521.7 1561.4C2517.2 1564.1 2510.7 1569.7 2507.9 1570C2505.2 1570.3 2496.1 1567.4 2494.1 1564.8C2492.2 1562.2 2489.1 1550.5 2488.1 1544.1C2487.1 1537.8 2484 1509.7 2483.8 1501C2483.6 1492.4 2485.7 1465.3 2486.4 1457.9C2487.1 1450.5 2489.4 1432.9 2490.7 1426.9C2492 1420.9 2497.4 1403.1 2499.3 1397.6C2501.2 1392.1 2507.6 1375.9 2509.7 1371.7C2511.7 1367.6 2517.1 1359.3 2520 1356.2C2522.9 1353.1 2535 1343 2539 1340.7C2542.9 1338.4 2555.5 1332.8 2559.7 1332.9Z"/>
<path class="t" d="M2520 1356.2C2517.4 1362.2 2509.1 1379.8 2504.5 1392.4C2499.9 1405.1 2495 1418.3 2492.4 1432.1C2489.8 1445.9 2489.3 1460.8 2489 1475.2C2488.7 1489.5 2489.5 1505.3 2490.7 1518.3C2491.8 1531.2 2495 1547 2495.9 1552.8"/>
<path class="t" d="M2525.2 1359.7C2522.6 1365.7 2514.3 1383.5 2509.7 1395.9C2505.1 1408.2 2500.2 1420.6 2497.6 1433.8C2495 1447 2494.4 1461.4 2494.1 1475.2C2493.9 1489 2494.7 1504.2 2495.9 1516.6C2497 1528.9 2500.2 1543.9 2501 1549.3"/>
<path class="t" d="M2539 1340.7C2537 1343 2529.8 1350.5 2526.9 1354.5C2524 1358.5 2522.6 1363.1 2521.7 1364.8"/>
<path class="t" d="M2559.7 1337.2C2557.1 1339 2547.9 1343.9 2544.1 1347.6C2540.4 1351.3 2538.4 1357.6 2537.2 1359.7"/>
<path class="n" d="M2516.6 1359.7L2521.7 1354.5L2542.4 1364.8L2539 1371.7"/>
<path class="t" d="M2490.7 1463.1L2509.7 1459.7"/>
<path class="t" d="M2491.6 1475.2L2511.4 1478.6"/>
<path class="t" d="M2489.8 1497.6L2509.7 1494.1"/>
<path class="t" d="M2492.4 1507.9L2513.1 1513.1"/>
<path class="t" d="M2497.6 1542.4L2518.3 1526.9"/>
<path class="t" d="M2526.9 1392.4L2542.4 1397.6"/>
<path class="t" d="M2513.1 1402.8L2535.5 1409.7"/>
<path class="t" d="M2521.7 1451L2535.5 1456.2"/>
<path class="t" d="M2520 1480.3L2533.8 1483.8"/>
<path class="t" d="M2525.2 1509.7L2537.2 1513.1"/>
<path class="t" d="M2526.9 1533.8L2532.1 1549.3"/>
<path class="t" d="M2532.1 1532.1L2537.2 1545.9"/>
<path class="t" d="M2539 1532.1L2542.4 1542.4"/>
<path class="t" d="M2552.8 1542.4L2559.7 1532.1"/>
<path class="t" d="M2556.2 1354.5L2566.6 1360.5"/>
<path class="t" d="M2561.4 1340.7L2573.4 1349.3"/>
<path class="k" d="M2566.6 1359.7C2571.7 1357.6 2577.2 1357.6 2582.1 1359.7C2587 1361.7 2592.4 1365.4 2595.9 1371.7C2599.3 1378 2601.3 1387.5 2602.8 1397.6C2604.2 1407.6 2604.3 1420.6 2604.5 1432.1C2604.6 1443.6 2604.5 1455.9 2603.6 1466.6C2602.8 1477.2 2601.8 1487.8 2599.3 1495.9C2596.9 1503.9 2593.9 1509.7 2589 1514.8C2584.1 1520 2576.3 1524.9 2570 1526.9C2563.7 1528.9 2556.2 1528.3 2551 1526.9C2545.9 1525.5 2541.8 1522.6 2539 1518.3C2536.1 1514 2534.7 1508.2 2533.8 1501C2532.9 1493.9 2533.2 1482.9 2533.8 1475.2C2534.4 1467.4 2535.8 1460.2 2537.2 1454.5C2538.7 1448.7 2542.1 1445.3 2542.4 1440.7C2542.7 1436.1 2539.8 1432.1 2539 1426.9C2538.1 1421.7 2536.7 1416 2537.2 1409.7C2537.8 1403.3 2540.1 1395.3 2542.4 1389C2544.7 1382.6 2547 1376.6 2551 1371.7C2555.1 1366.8 2561.4 1361.7 2566.6 1359.7Z"/>
<path class="n" d="M2554.4 1378.4C2555.6 1376.4 2570.9 1366.6 2572.7 1366.2C2574.6 1365.9 2577.1 1372.5 2576.8 1374.4C2576.4 1376.2 2570.2 1387.3 2568.6 1388.6C2567.1 1390 2559.7 1391.5 2558.5 1390.6C2557.3 1389.8 2553.2 1380.5 2554.4 1378.4Z"/>
<path class="t" d="M2557.7 1378.8C2558.6 1377.3 2569.6 1370.2 2570.9 1370C2572.2 1369.7 2574.1 1374.5 2573.8 1375.8C2573.6 1377.2 2569.1 1385.1 2568 1386.1C2566.9 1387.1 2561.5 1388.2 2560.6 1387.6C2559.8 1387 2556.9 1380.2 2557.7 1378.8Z"/>
<path class="n" d="M2579.4 1368.1C2581.3 1367.7 2596.4 1374.5 2597.7 1376.2C2599.1 1377.9 2597.2 1387.2 2595.7 1388.4C2594.2 1389.6 2581.1 1391.1 2579.4 1390.5C2577.7 1389.8 2575.3 1382.1 2575.3 1380.3C2575.3 1378.4 2577.5 1368.4 2579.4 1368.1Z"/>
<path class="t" d="M2581.1 1371.6C2582.5 1371.4 2593.3 1376.2 2594.3 1377.5C2595.3 1378.7 2593.9 1385.4 2592.8 1386.3C2591.7 1387.1 2582.3 1388.2 2581.1 1387.7C2579.9 1387.2 2578.2 1381.7 2578.2 1380.4C2578.2 1379.1 2579.8 1371.8 2581.1 1371.6Z"/>
<path class="n" d="M2578.9 1398.1C2580.3 1396.5 2593.5 1390.9 2595.2 1392C2596.9 1393 2599.8 1407.9 2599.3 1410.3C2598.8 1412.6 2590.8 1420.4 2589.1 1420.4C2587.4 1420.4 2579.8 1412.1 2578.9 1410.3C2578.1 1408.4 2577.6 1399.6 2578.9 1398.1Z"/>
<path class="t" d="M2581.5 1400.3C2582.5 1399.2 2592 1395.2 2593.3 1395.9C2594.5 1396.7 2596.6 1407.4 2596.2 1409.1C2595.8 1410.8 2590.1 1416.5 2588.9 1416.5C2587.6 1416.5 2582.1 1410.5 2581.5 1409.1C2580.9 1407.8 2580.6 1401.4 2581.5 1400.3Z"/>
<path class="n" d="M2560.2 1418.8C2561.7 1417.1 2572.6 1414 2574.4 1414.7C2576.3 1415.4 2583.3 1424.9 2582.6 1426.9C2581.9 1428.9 2568.5 1438.4 2566.3 1439.1C2564.1 1439.8 2556.6 1436.7 2556.1 1435C2555.6 1433.3 2558.7 1420.5 2560.2 1418.8Z"/>
<path class="t" d="M2562.4 1421C2563.5 1419.8 2571.3 1417.6 2572.6 1418.1C2574 1418.6 2579 1425.4 2578.5 1426.9C2578 1428.4 2568.3 1435.2 2566.8 1435.7C2565.2 1436.2 2559.8 1434 2559.4 1432.8C2559.1 1431.5 2561.3 1422.3 2562.4 1421Z"/>
<path class="n" d="M2541.1 1420.7C2542.3 1419 2553.8 1414.1 2555.4 1414.6C2556.9 1415.1 2559.8 1424.8 2559.4 1426.8C2559.1 1428.9 2552.8 1438.4 2551.3 1439C2549.8 1439.7 2542 1436.5 2541.1 1435C2540.3 1433.4 2539.9 1422.4 2541.1 1420.7Z"/>
<path class="t" d="M2543.5 1422.6C2544.4 1421.3 2552.7 1417.8 2553.8 1418.2C2554.9 1418.5 2556.9 1425.5 2556.7 1426.9C2556.4 1428.4 2551.9 1435.3 2550.8 1435.7C2549.7 1436.2 2544.1 1433.9 2543.5 1432.8C2542.9 1431.7 2542.6 1423.8 2543.5 1422.6Z"/>
<path class="n" d="M2539.3 1400.7C2540.3 1398.4 2549.8 1386.7 2551.5 1386.5C2553.2 1386.3 2559.4 1396.5 2559.6 1398.7C2559.8 1400.9 2555.2 1411.6 2553.5 1412.9C2551.8 1414.3 2540.4 1416 2539.3 1415C2538.1 1413.9 2538.2 1403.1 2539.3 1400.7Z"/>
<path class="t" d="M2541.9 1401.3C2542.6 1399.6 2549.5 1391.2 2550.7 1391C2551.9 1390.9 2556.4 1398.2 2556.5 1399.8C2556.7 1401.4 2553.4 1409.1 2552.1 1410.1C2550.9 1411.1 2542.7 1412.3 2541.9 1411.6C2541 1410.8 2541.1 1403 2541.9 1401.3Z"/>
<path class="n" d="M2540.6 1446.4C2542.9 1445.2 2562.6 1443.9 2565 1444.4C2567.3 1444.9 2570.1 1450.5 2569 1452.5C2568 1454.5 2555.5 1468.3 2552.8 1468.8C2550 1469.3 2537.5 1460.5 2536.5 1458.6C2535.5 1456.7 2538.2 1447.6 2540.6 1446.4Z"/>
<path class="t" d="M2544 1448.6C2545.7 1447.7 2559.8 1446.7 2561.6 1447.1C2563.3 1447.5 2565.2 1451.5 2564.5 1453C2563.8 1454.4 2554.7 1464.3 2552.8 1464.7C2550.8 1465.1 2541.8 1458.7 2541 1457.4C2540.3 1456 2542.3 1449.4 2544 1448.6Z"/>
<path class="n" d="M2569.1 1448.9C2570.6 1447.7 2587.2 1443.1 2589.4 1440.7C2591.6 1438.4 2594.5 1421.8 2595.5 1420.4C2596.6 1419 2602 1421.8 2601.6 1424.5C2601.3 1427.2 2594 1450.4 2591.5 1452.9C2588.9 1455.5 2573 1455.3 2571.1 1455C2569.3 1454.6 2567.6 1450.1 2569.1 1448.9Z"/>
<path class="t" d="M2573.9 1446.5C2575 1445.7 2587 1442.4 2588.6 1440.6C2590.2 1438.9 2592.2 1427 2593 1426C2593.7 1425 2597.6 1427 2597.4 1428.9C2597.1 1430.9 2591.9 1447.6 2590 1449.4C2588.2 1451.3 2576.7 1451.1 2575.4 1450.9C2574 1450.7 2572.8 1447.4 2573.9 1446.5Z"/>
<path class="n" d="M2597.6 1436.7C2598.9 1437 2604.4 1448.5 2604.7 1450.9C2605.1 1453.3 2602.6 1464.5 2601.7 1465.2C2600.8 1465.8 2594.6 1460.6 2593.5 1459C2592.5 1457.5 2589.1 1448.7 2589.5 1446.8C2589.8 1445 2596.3 1436.3 2597.6 1436.7Z"/>
<path class="t" d="M2597.6 1440.9C2598.5 1441.1 2602.4 1449.4 2602.7 1451.1C2602.9 1452.8 2601.2 1460.9 2600.5 1461.4C2599.8 1461.9 2595.4 1458.1 2594.6 1457C2593.9 1455.9 2591.5 1449.6 2591.7 1448.2C2591.9 1446.9 2596.6 1440.6 2597.6 1440.9Z"/>
<path class="n" d="M2597.6 1468.1C2598.6 1467.1 2603.7 1472.2 2603.7 1474.2C2603.7 1476.3 2598.6 1491.5 2597.6 1492.6C2596.6 1493.6 2591.5 1488.5 2591.5 1486.4C2591.5 1484.4 2596.6 1469.2 2597.6 1468.1Z"/>
<path class="t" d="M2597.6 1471.6C2598.3 1470.8 2602 1474.5 2602 1475.9C2602 1477.4 2598.3 1488.4 2597.6 1489.1C2596.9 1489.9 2593.2 1486.2 2593.2 1484.7C2593.2 1483.3 2596.9 1472.3 2597.6 1471.6Z"/>
<path class="n" d="M2575.6 1510C2576.4 1508.3 2588.5 1498.1 2589.8 1497.8C2591.2 1497.4 2592.7 1504.2 2591.9 1505.9C2591 1507.6 2581 1517.8 2579.6 1518.1C2578.3 1518.4 2574.7 1511.7 2575.6 1510Z"/>
<path class="t" d="M2578 1509.4C2578.6 1508.2 2587.3 1500.8 2588.3 1500.6C2589.2 1500.4 2590.3 1505.2 2589.7 1506.5C2589.1 1507.7 2581.9 1515 2580.9 1515.3C2579.9 1515.5 2577.4 1510.6 2578 1509.4Z"/>
<path class="n" d="M2551.4 1516C2552.8 1515 2566.2 1513.5 2567.7 1514C2569.2 1514.5 2571.1 1521.1 2569.8 1522.1C2568.4 1523.1 2553 1526.7 2551.4 1526.2C2549.9 1525.7 2550.1 1517 2551.4 1516Z"/>
<path class="t" d="M2553.9 1517C2554.8 1516.3 2564.5 1515.2 2565.6 1515.5C2566.7 1515.9 2568 1520.7 2567 1521.4C2566.1 1522.1 2555 1524.7 2553.9 1524.3C2552.8 1524 2552.9 1517.7 2553.9 1517Z"/>
<path class="n" d="M2540 1501.4C2540.7 1500.9 2547.3 1505.9 2548.1 1507.5C2549 1509 2550.8 1519.2 2550.2 1519.7C2549.5 1520.2 2540.8 1515.1 2540 1513.6C2539.1 1512 2539.3 1501.9 2540 1501.4Z"/>
<path class="t" d="M2541.3 1503.9C2541.8 1503.6 2546.5 1507.2 2547.1 1508.3C2547.7 1509.4 2549.1 1516.7 2548.6 1517.1C2548.1 1517.5 2541.9 1513.8 2541.3 1512.7C2540.7 1511.6 2540.8 1504.3 2541.3 1503.9Z"/>
<path class="n" d="M2538.4 1469.6C2539.4 1467.8 2548.1 1471.7 2548.6 1473.7C2549.1 1475.7 2545.5 1492.2 2544.5 1494C2543.5 1495.9 2536.9 1498.1 2536.4 1496.1C2535.9 1494 2537.4 1471.5 2538.4 1469.6Z"/>
<path class="t" d="M2539.4 1473.5C2540.2 1472.1 2546.4 1474.9 2546.7 1476.4C2547.1 1477.9 2544.5 1489.7 2543.8 1491.1C2543.1 1492.4 2538.3 1494 2538 1492.5C2537.6 1491.1 2538.7 1474.8 2539.4 1473.5Z"/>
<ellipse class="n" cx="2575.5" cy="1483.8" rx="24.1" ry="30.3" transform="rotate(20 2575.5 1483.8)"/>
<ellipse class="n" cx="2575.5" cy="1483.8" rx="21.4" ry="27.2" transform="rotate(20 2575.5 1483.8)"/>
<ellipse class="t" cx="2573.4" cy="1484.7" rx="18.1" ry="24.1" transform="rotate(20 2573.4 1484.7)"/>
<path class="t" d="M2571.7 1463.1C2571.1 1465.7 2570 1473.4 2568.3 1478.6C2566.6 1483.8 2563.4 1490.7 2561.4 1494.1C2559.4 1497.6 2557.1 1498.4 2556.2 1499.3"/>
<path class="t" d="M2580.3 1464.8C2579.8 1467.7 2578.9 1476.3 2576.9 1482.1C2574.9 1487.8 2571.1 1495.6 2568.3 1499.3C2565.4 1503 2561.1 1503.6 2559.7 1504.5"/>
<ellipse class="k" cx="2509.7" cy="1434.7" rx="12.4" ry="11.8"/>
<ellipse class="n" cx="2509.7" cy="1434.7" rx="7.2" ry="7.9" transform="rotate(20 2509.7 1434.7)"/>
<ellipse class="n" cx="2509.7" cy="1434.7" rx="4.5" ry="5.5" transform="rotate(20 2509.7 1434.7)"/>
<ellipse class="k" cx="2511.4" cy="1552.8" rx="11.7" ry="11.1"/>
<ellipse class="n" cx="2511.4" cy="1552.8" rx="7.2" ry="7.9" transform="rotate(20 2511.4 1552.8)"/>
<ellipse class="n" cx="2511.4" cy="1552.8" rx="4.5" ry="5.5" transform="rotate(20 2511.4 1552.8)"/>
<ellipse class="n" cx="2598.4" cy="1504.5" rx="8.3" ry="10" transform="rotate(20 2598.4 1504.5)"/>
<ellipse class="t" cx="2598.4" cy="1504.5" rx="5.2" ry="6.6" transform="rotate(20 2598.4 1504.5)"/>
<ellipse cx="2538.1" cy="1367.4" rx="3.3" ry="3.8" fill="#222" stroke="#111" stroke-width="1.5"/>
<ellipse cx="2576.9" cy="1345.9" rx="3.3" ry="3.8" fill="#222" stroke="#111" stroke-width="1.5"/>
<ellipse cx="2519.1" cy="1416.6" rx="3.3" ry="3.8" fill="#222" stroke="#111" stroke-width="1.5"/>
<ellipse cx="2518.3" cy="1463.1" rx="3.3" ry="3.8" fill="#222" stroke="#111" stroke-width="1.5"/>
<ellipse cx="2517.4" cy="1499.3" rx="3.3" ry="3.8" fill="#222" stroke="#111" stroke-width="1.5"/>
<ellipse cx="2523.4" cy="1523.4" rx="3.3" ry="3.8" fill="#222" stroke="#111" stroke-width="1.5"/>
<ellipse cx="2537.2" cy="1533.8" rx="3.3" ry="3.8" fill="#222" stroke="#111" stroke-width="1.5"/>
<!-- p_32_diff -->
<g transform="translate(2228,566.3) rotate(161.2)"><path class="k" d="M-138 -24L-146 -24A12 24 0 0 0 -146 24L-138 24A12 24 0 0 0 -138 -24Z"/><ellipse class="k" cx="-138" cy="0" rx="12" ry="24"/><path class="k" d="M-124 -0.5L-120.5 2.2L-121.2 8.5L-124.9 8.2L-126.2 12.5L-124.4 19L-126.9 23L-129.7 18L-132 19.6L-132.7 26.9L-135.9 26.7L-136.5 19.4L-138.8 17.5L-141.7 22.2L-144.1 18L-142.1 11.7L-143.3 7.3L-147 7.1L-147.5 0.8L-144 -1.5L-143.5 -6.4L-146.3 -11.3L-144.6 -16.7L-141.2 -14L-139.2 -17.1L-139.8 -24.4L-136.7 -26.4L-135 -19.9L-132.5 -19.8L-130.6 -26.1L-127.6 -23.8L-128.4 -16.5L-126.5 -13.2L-123 -15.6L-121.5 -10L-124.4 -5.4Z"/><path class="t" d="M-97 -0.7L-124 -0.5M-89.1 3.7L-120.5 2.2M-90.2 14.4L-121.2 8.5M-98.3 12.3L-124.9 8.2M-100.3 18.7L-126.2 12.5M-95.6 32.3L-124.4 19M-99.9 39.1L-126.9 23M-105.5 27L-129.7 18M-109.1 29.4L-132 19.6M-109.9 45.8L-132.7 26.9M-115.3 45.5L-135.9 26.7M-115.7 29.1L-136.5 19.4M-119.2 26.3L-138.8 17.5M-125.1 37.8L-141.7 22.2M-129.2 30.6L-144.1 18M-124.2 17.5L-142.1 11.7M-126 10.9L-143.3 7.3M-134.2 12.2L-147 7.1M-135 1.4L-147.5 0.8M-127 -2.2L-144 -1.5M-126.2 -9.6L-143.5 -6.4M-132.9 -19.2L-146.3 -11.3M-130.1 -28.5L-144.6 -16.7M-122.7 -20.9L-141.2 -14M-119.8 -25.6L-139.2 -17.1M-121.8 -41.6L-139.8 -24.4M-116.7 -45L-136.7 -26.4M-113.5 -29.8L-135 -19.9M-109.7 -29.7L-132.5 -19.8M-106.2 -44.5L-130.6 -26.1M-101.1 -40.5L-127.6 -23.8M-103.6 -24.8L-128.4 -16.5M-100.7 -19.8L-126.5 -13.2M-93.2 -26.6L-123 -15.6M-90.6 -17L-121.5 -10M-97.6 -8.1L-124.4 -5.4"/><path class="k" d="M-97 -0.7L-89.1 3.7L-90.2 14.4L-98.3 12.3L-100.3 18.7L-95.6 32.3L-99.9 39.1L-105.5 27L-109.1 29.4L-109.9 45.8L-115.3 45.5L-115.7 29.1L-119.2 26.3L-125.1 37.8L-129.2 30.6L-124.2 17.5L-126 10.9L-134.2 12.2L-135 1.4L-127 -2.2L-126.2 -9.6L-132.9 -19.2L-130.1 -28.5L-122.7 -20.9L-119.8 -25.6L-121.8 -41.6L-116.7 -45L-113.5 -29.8L-109.7 -29.7L-106.2 -44.5L-101.1 -40.5L-103.6 -24.8L-100.7 -19.8L-93.2 -26.6L-90.6 -17L-97.6 -8.1Z"/><ellipse class="k" cx="-110" cy="0" rx="13.5" ry="27"/><ellipse cx="-104" cy="0" rx="12" ry="24" style="fill:#fff;stroke:#111;stroke-width:3"/><path class="k" d="M0 -17L-104 -17A8.5 17 0 0 0 -104 17L0 17A8.5 17 0 0 0 0 -17Z"/><ellipse class="k" cx="0" cy="0" rx="8.5" ry="17"/><ellipse class="n" cx="-28" cy="-9" rx="9" ry="4.5"/><path class="t" d="M-36 -8A9 4.5 0 0 0 -22 -6"/></g>
<g transform="translate(2559.6,504.6) rotate(28)"><path class="k" d="M-84 -24L-99 -24A13.2 24 0 0 0 -99 24L-84 24A13.2 24 0 0 0 -84 -24Z"/><ellipse class="k" cx="-84" cy="0" rx="13.2" ry="24"/><path class="k" d="M-66 -31L-84 -31A17.1 31 0 0 0 -84 31L-66 31A17.1 31 0 0 0 -66 -31Z"/><ellipse class="k" cx="-66" cy="0" rx="17.1" ry="31"/><path class="k" d="M0 -44.6L-60 -44.6A24.5 44.6 0 0 0 -60 44.6L0 44.6A24.5 44.6 0 0 0 0 -44.6Z"/><ellipse class="k" cx="0" cy="0" rx="24.5" ry="44.6"/><ellipse class="t" cx="0" cy="0" rx="22.8" ry="41.5"/><ellipse cx="17.1" cy="11.3" rx="2.9" ry="5.2" fill="#111" stroke="#111" stroke-width="1"/><ellipse cx="3.2" cy="32.5" rx="2.9" ry="5.2" fill="#111" stroke="#111" stroke-width="1"/><ellipse cx="-13.9" cy="21.2" rx="2.9" ry="5.2" fill="#111" stroke="#111" stroke-width="1"/><ellipse cx="-17.1" cy="-11.3" rx="2.9" ry="5.2" fill="#111" stroke="#111" stroke-width="1"/><ellipse cx="-3.2" cy="-32.5" rx="2.9" ry="5.2" fill="#111" stroke="#111" stroke-width="1"/><ellipse cx="13.9" cy="-21.2" rx="2.9" ry="5.2" fill="#111" stroke="#111" stroke-width="1"/><path class="k" d="M39 -21L0 -21A11.6 21 0 0 0 0 21L39 21A11.6 21 0 0 0 39 -21Z"/><ellipse class="k" cx="39" cy="0" rx="11.6" ry="21"/><ellipse class="n" cx="39" cy="0" rx="9.1" ry="16.5"/><ellipse class="t" cx="39" cy="0" rx="7.7" ry="14"/><path class="n" d="M34.6 -10L40.1 12"/><path class="t" d="M37.4 -13L42.9 9"/></g>
<g transform="translate(2699.3,580.3) rotate(28)"><path class="k" d="M24.2 -1L30.2 1L30.1 5.9L24 7.1L23.7 11.7L29.4 15.3L28.8 20.1L22.7 19.7L21.9 24.1L27.2 29.2L26.1 33.8L20.1 31.7L18.9 35.8L23.6 42.3L22.1 46.5L16.4 42.8L14.8 46.5L18.8 54.2L16.9 58L11.7 52.7L9.7 56L12.9 64.7L10.7 67.9L6 61.2L3.8 63.9L6 73.4L3.5 75.9L-0.4 68.1L-2.9 70.1L-1.6 80.1L-4.3 81.9L-7.4 73.1L-10.1 74.4L-9.8 84.6L-12.7 85.6L-14.9 76.1L-17.6 76.6L-18.3 86.8L-21.2 87L-22.5 77L-25.2 76.8L-26.9 86.6L-29.8 86L-30.1 75.8L-32.8 74.9L-35.4 84.1L-38.2 82.7L-37.4 72.6L-40 70.9L-43.5 79.3L-46.2 77.1L-44.4 67.3L-46.8 65L-51.1 72.3L-53.5 69.4L-50.7 60.3L-52.8 57.3L-57.8 63.3L-59.9 59.8L-56.3 51.6L-58.1 48.1L-63.6 52.6L-65.3 48.6L-60.9 41.5L-62.3 37.5L-68.2 40.5L-69.5 36.1L-64.5 30.2L-65.5 25.9L-71.6 27.3L-72.4 22.6L-66.9 18.1L-67.5 13.7L-73.6 13.3L-74 8.4L-68.1 5.6L-68.2 1L-74.2 -1L-74.1 -5.9L-68 -7.1L-67.7 -11.7L-73.4 -15.3L-72.8 -20.1L-66.7 -19.7L-65.9 -24.1L-71.2 -29.2L-70.1 -33.8L-64.1 -31.7L-62.9 -35.8L-67.6 -42.3L-66.1 -46.5L-60.4 -42.8L-58.8 -46.5L-62.8 -54.2L-60.9 -58L-55.7 -52.7L-53.7 -56L-56.9 -64.7L-54.7 -67.9L-50 -61.2L-47.8 -63.9L-50 -73.4L-47.5 -75.9L-43.6 -68.1L-41.1 -70.1L-42.4 -80.1L-39.7 -81.9L-36.6 -73.1L-33.9 -74.4L-34.2 -84.6L-31.3 -85.6L-29.1 -76.1L-26.4 -76.6L-25.7 -86.8L-22.8 -87L-21.5 -77L-18.8 -76.8L-17.1 -86.6L-14.2 -86L-13.9 -75.8L-11.2 -74.9L-8.6 -84.1L-5.8 -82.7L-6.6 -72.6L-4 -70.9L-0.5 -79.3L2.2 -77.1L0.4 -67.3L2.8 -65L7.1 -72.3L9.5 -69.4L6.7 -60.3L8.8 -57.3L13.8 -63.3L15.9 -59.8L12.3 -51.6L14.1 -48.1L19.6 -52.6L21.3 -48.6L16.9 -41.5L18.3 -37.5L24.2 -40.5L25.5 -36.1L20.5 -30.2L21.5 -25.9L27.6 -27.3L28.4 -22.6L22.9 -18.1L23.5 -13.7L29.6 -13.3L30 -8.4L24.1 -5.6Z"/><ellipse class="k" cx="-18" cy="0" rx="48" ry="80"/><ellipse class="k" cx="0" cy="0" rx="49.2" ry="82"/><ellipse class="n" cx="0" cy="0" rx="12" ry="20"/><ellipse class="n" cx="19.5" cy="5.7" rx="5.4" ry="9"/><path class="n" d="M11.9 -2.5L16.2 -0.7"/><path class="n" d="M10.7 9.1L15.1 9.9"/><ellipse class="n" cx="6.8" cy="31" rx="5.4" ry="9"/><path class="n" d="M7.3 15.9L8.5 23"/><path class="n" d="M0.6 20L2.4 26.7"/><ellipse class="n" cx="-12.7" cy="25.3" rx="5.4" ry="9"/><path class="n" d="M-4.7 18.4L-7.7 23.7"/><path class="n" d="M-10.1 10.8L-12.7 16.8"/><ellipse class="n" cx="-19.5" cy="-5.7" rx="5.4" ry="9"/><path class="n" d="M-11.9 2.5L-16.2 0.7"/><path class="n" d="M-10.7 -9.1L-15.1 -9.9"/><ellipse class="n" cx="-6.8" cy="-31" rx="5.4" ry="9"/><path class="n" d="M-7.3 -15.9L-8.5 -23"/><path class="n" d="M-0.6 -20L-2.4 -26.7"/><ellipse class="n" cx="12.7" cy="-25.3" rx="5.4" ry="9"/><path class="n" d="M4.7 -18.4L7.7 -23.7"/><path class="n" d="M10.1 -10.8L12.7 -16.8"/><ellipse class="t" cx="0" cy="0" rx="18" ry="30"/></g>
<path class="w" d="M2730.8 295.6C2732.5 294.6 2737.1 288.7 2740.4 288.4C2743.7 288.1 2791.1 287.4 2796.4 288.9C2801.8 290.3 2844.1 314.6 2847.7 317.2C2851.3 319.9 2866.9 339.3 2868.5 342C2870 344.8 2877.4 368.8 2878.1 372.4C2878.7 376 2881.2 409.2 2881.3 414C2881.3 418.8 2880.2 464.6 2879.7 468.5C2879.1 472.3 2872.2 488.9 2870.1 490.9C2867.9 492.9 2839.4 507.5 2836.5 508.5C2833.5 509.4 2812.8 510.8 2810.8 510.1C2808.8 509.4 2800 497.4 2796.4 494.1C2792.9 490.7 2744.3 445.1 2740.4 442.9C2736.5 440.6 2719.9 448.7 2718 449.3C2716.1 449.8 2703.5 454.6 2702 454.1C2700.6 453.5 2689.4 440.7 2689.2 438.1C2689 435.4 2697.9 406.4 2698.8 401.2C2699.7 396 2706.7 338.2 2706.8 334C2707 329.9 2702 319.3 2702 318C2702 316.7 2705.4 308.7 2706.8 307.6C2708.3 306.5 2729.1 296.6 2730.8 295.6Z"/><path class="n" d="M2730.8 295.6L2740.4 288.4L2796.4 288.9L2847.7 317.2L2868.5 342L2878.1 372.4L2881.3 414L2879.7 468.5L2870.1 490.9L2836.5 508.5L2820.4 508.5"/><path class="n" d="M2754.8 299.6L2793.2 299.6L2842.9 324.4L2861.3 346.8L2870.1 374L2872.5 414L2868.5 471.7L2859.7 489.3L2831.7 502.1"/><path class="t" d="M2759.6 307.6L2790 307.6L2838.1 332.4L2854.1 353.2"/><path class="n" d="M2882.9 372.4C2884.7 375.1 2891.4 382.6 2894.1 388.4C2896.7 394.3 2898.9 401.2 2898.9 407.6C2898.9 414 2896.5 422 2894.1 426.9C2891.7 431.7 2886.1 434.9 2884.5 436.5"/><path d="M2866.9 334C2868.7 337.8 2875.1 347.4 2878.1 356.4C2881 365.5 2883.4 383.1 2884.5 388.4" fill="none" stroke="#111" stroke-width="3.4"/><path class="n" d="M2718 345.2C2719.3 347.6 2725.2 354 2726 359.6C2726.8 365.2 2725.2 372.7 2722.8 378.8C2720.4 385 2715.6 391.9 2711.6 396.4C2707.6 401 2700.9 404.4 2698.8 406"/><path class="n" d="M2735.6 340.4C2736.4 343.6 2740.4 352.7 2740.4 359.6C2740.4 366.6 2738.6 374.8 2735.6 382C2732.7 389.2 2727.6 397.2 2722.8 402.8C2718 408.4 2709.5 413.5 2706.8 415.6"/><path class="n" d="M2751.6 345.2C2752.7 348.4 2757.8 357.2 2758 364.4C2758.3 371.6 2756.2 380.7 2753.2 388.4C2750.3 396.2 2745.5 403.9 2740.4 410.8C2735.4 417.8 2725.8 426.9 2722.8 430.1"/><path class="n" d="M2846.1 412.4C2846.3 415.4 2848.7 424.2 2847.7 430.1C2846.6 435.9 2843.1 442.3 2839.7 447.7C2836.2 453 2831.1 458.1 2826.9 462.1C2822.6 466.1 2816.2 470.1 2814 471.7"/><path class="n" d="M2852.5 414C2853.1 417 2857 425.5 2856.5 431.7C2855.9 437.8 2852.9 445 2849.3 450.9C2845.7 456.7 2838.6 463.7 2834.9 466.9C2831.1 470.1 2828.2 469.5 2826.9 470.1"/><path class="n" d="M2698.8 399.6L2706.8 406L2706.8 415.6"/><path class="n" d="M2697.2 402.8L2697.2 422"/><path class="n" d="M2706.8 334L2713.2 340.4L2718 345.2"/><path class="n" d="M2735.6 322.8L2734 340.4"/><path class="n" d="M2761.2 308.4L2760.4 333.2L2818.8 361.2L2822 327.6"/><path class="n" d="M2767.6 340.4L2766 356.4L2809.2 374"/><path class="n" d="M2778.8 364.4L2777.2 378.8"/><path class="n" d="M2764.4 383.6L2777.2 378.8L2828.5 401.2L2830.1 393.2"/><path class="n" d="M2764.4 383.6L2761.2 402.8L2826.9 430.1L2830.1 418.8L2826.9 409.2"/><path class="n" d="M2753.2 414L2750 430.1L2809.2 458.9L2810.8 442.9L2822 438.1L2822 428.5"/><path class="n" d="M2753.2 414L2761.2 402.8"/><path class="n" d="M2750 430.1L2742 441.3L2790 462.1L2804.4 481.3"/><path class="n" d="M2740.4 442.9L2788.4 466.9L2798 486.1"/><path class="n" d="M2809.2 458.9L2806 479.7"/><path class="n" d="M2826.9 470.1L2823.6 479.7L2809.2 471.7"/><path class="n" d="M2834.9 470.1L2833.3 497.3"/><path class="n" d="M2822 327.6L2839.7 338.8L2847.7 353.2L2833.3 359.6L2818.8 362.8"/><path class="n" d="M2833.3 362.8L2863.7 353.2"/><path class="n" d="M2842.9 377.2L2868.5 367.6"/><path class="n" d="M2844.5 380.4L2870.1 370.8"/><path class="n" d="M2839.7 375.6L2839.7 388.4L2830.1 393.2"/><path class="n" d="M2842.9 378.8L2838.1 414"/><path class="n" d="M2833.3 497.3L2858.9 487.7"/><path class="n" d="M2729.2 308.4L2756.4 298.8L2762 311.6L2734 322.8"/><path class="n" d="M2706.8 334L2706.8 340.4L2713.2 340.4"/><path class="n" d="M2722.8 430.1L2740.4 442.9"/><path class="n" d="M2718 449.3L2722.8 430.1"/><ellipse class="k" cx="2723.8" cy="314" rx="11.2" ry="15.2" transform="rotate(-10 2723.8 314)"/><path class="n" d="M2710 306L2720.6 298.8"/><path class="n" d="M2718.8 335.6L2729.4 328.4"/><ellipse class="k" cx="2713.2" cy="321.2" rx="11.2" ry="15.2" transform="rotate(-10 2713.2 321.2)"/><ellipse class="n" cx="2713.2" cy="321.2" rx="5.1" ry="7.2" transform="rotate(-10 2713.2 321.2)"/><ellipse class="k" cx="2826.4" cy="376.8" rx="11.2" ry="15.2" transform="rotate(-10 2826.4 376.8)"/><path class="n" d="M2816.4 364.4L2823.2 361.5"/><path class="n" d="M2825.2 394L2832 391.2"/><ellipse class="k" cx="2819.6" cy="379.6" rx="11.2" ry="15.2" transform="rotate(-10 2819.6 379.6)"/><ellipse class="n" cx="2819.6" cy="379.6" rx="5.1" ry="7.2" transform="rotate(-10 2819.6 379.6)"/><ellipse class="k" cx="2710" cy="434.4" rx="11.2" ry="15.2" transform="rotate(-10 2710 434.4)"/><path class="n" d="M2697.2 422L2706.8 419.2"/><path class="n" d="M2706 451.7L2715.6 448.8"/><ellipse class="k" cx="2700.4" cy="437.3" rx="11.2" ry="15.2" transform="rotate(-10 2700.4 437.3)"/><ellipse class="n" cx="2700.4" cy="437.3" rx="5.1" ry="7.2" transform="rotate(-10 2700.4 437.3)"/><ellipse class="k" cx="2816.3" cy="491.8" rx="11.2" ry="15.2" transform="rotate(-10 2816.3 491.8)"/><path class="n" d="M2804.4 480.5L2813.1 476.6"/><path class="n" d="M2813.2 510.1L2821.9 506.2"/><ellipse class="k" cx="2807.6" cy="495.7" rx="11.2" ry="15.2" transform="rotate(-10 2807.6 495.7)"/><ellipse class="n" cx="2807.6" cy="495.7" rx="5.1" ry="7.2" transform="rotate(-10 2807.6 495.7)"/>
<!-- p_40_ujoints -->
<g transform="translate(1226,846.2) rotate(160.7)"><path class="k" d="M0 -45.5L-66.5 -45.5A33.7 45.5 0 0 0 -66.5 45.5L0 45.5A33.7 45.5 0 0 0 0 -45.5Z"/><ellipse class="k" cx="0" cy="0" rx="33.7" ry="45.5"/><ellipse class="t" cx="0" cy="0" rx="31.4" ry="42.5"/><ellipse class="n" cx="0" cy="0" rx="29.2" ry="39.5"/><ellipse class="n" cx="-63" cy="37" rx="12" ry="6.5"/><path class="t" d="M-72 35A10 5 0 0 0 -56 34"/></g>
<g transform="translate(1095.8,893.8) rotate(160.7)"><path class="k" d="M-4 -36L-66 -36A27.4 36 0 0 0 -66 36L-4 36A27.4 36 0 0 0 -4 -36Z"/><ellipse class="k" cx="-4" cy="0" rx="27.4" ry="36"/><path class="k" d="M0 -41.6L-6 -41.6A31.6 41.6 0 0 0 -6 41.6L0 41.6A31.6 41.6 0 0 0 0 -41.6Z"/><ellipse class="k" cx="0" cy="0" rx="31.6" ry="41.6"/><ellipse class="n" cx="0" cy="0" rx="28.5" ry="37.5"/><ellipse class="t" cx="0" cy="0" rx="25.8" ry="34"/><ellipse class="n" cx="-2" cy="0" rx="22" ry="29"/><ellipse class="t" cx="-5" cy="0" rx="19" ry="25"/><path class="t" d="M-14 -26A21.3 28 0 0 0 -14 26"/><ellipse class="n" cx="-12" cy="-21" rx="5" ry="3"/></g>
<ellipse cx="1146.1" cy="845.4" rx="12" ry="7" fill="#333" stroke="#111" stroke-width="1.6" transform="rotate(-15 1146.1 845.4)"/><ellipse class="t" cx="1147.9" cy="846.1" rx="6.6" ry="3.8" transform="rotate(-15 1147.9 846.1)"/>
<ellipse class="t" cx="1109.9" cy="857" rx="4.3" ry="1.9" transform="rotate(-15 1109.9 857)"/>
<path class="k" d="M935.8 943.5C937 941.5 965.1 924.3 966.8 923.2C968.4 922.1 976.4 915.8 977.4 915.4C978.4 915.1 989.9 914.2 990.9 914.5C992 914.8 1003.6 922.4 1004.5 923.2C1005.4 923.9 1013.6 931.8 1014.2 932.8C1014.7 933.9 1018.8 946.9 1019 948.3C1019.2 949.8 1018.4 968.5 1018 969.6C1017.7 970.8 1011.8 976.4 1010.3 977.4C1008.7 978.3 982.3 993 979.3 992.8C976.4 992.6 938.5 974.5 936.8 972.5C935 970.5 934.6 945.5 935.8 943.5Z"/>
<path class="n" d="M935.8 943.5L981.3 961.9L1008.4 946.4"/>
<path class="n" d="M981.3 961.9L979.3 992.8"/>
<path class="t" d="M966.8 923.2L1005.5 940.6"/>
<path class="t" d="M970 921.2L1007.4 937.7"/>
<path class="t" d="M1008.4 946.4C1009.3 948.3 1012.9 953.8 1014.2 958C1015.5 962.2 1015.8 969.3 1016.1 971.5"/>
<ellipse cx="958" cy="968.1" rx="7.7" ry="9.3" fill="#333" stroke="#111" stroke-width="1.6" transform="rotate(-10 958 968.1)"/><ellipse class="t" cx="959.2" cy="969" rx="4.3" ry="5.1" transform="rotate(-10 959.2 969)"/>
<ellipse class="k" cx="1028.7" cy="929.9" rx="24.2" ry="28.6" transform="rotate(-12 1028.7 929.9)"/>
<ellipse class="t" cx="1023.8" cy="925.1" rx="18.4" ry="23.2" transform="rotate(-12 1023.8 925.1)"/>
<ellipse class="k" cx="1039.7" cy="937.7" rx="9.7" ry="14.7" transform="rotate(10 1039.7 937.7)"/>
<ellipse class="n" cx="1038.4" cy="938.3" rx="7" ry="11.6" transform="rotate(10 1038.4 938.3)"/>
<path class="t" d="M1004.5 913.5C1006.4 911.9 1011.6 905.6 1016.1 903.8C1020.6 902 1026.7 901.6 1031.6 902.9C1036.4 904.1 1042.9 910.1 1045.1 911.6"/>
<path class="t" d="M1008.4 923.2C1009.3 924.8 1013.4 929 1014.2 932.8C1015 936.7 1013.4 944.1 1013.2 946.4"/>
<g transform="translate(1099.3,973.9) rotate(32)"><path class="k" d="M0 -17.5L-36 -17.5A10.5 17.5 0 0 0 -36 17.5L0 17.5A10.5 17.5 0 0 0 0 -17.5Z"/><ellipse class="k" cx="0" cy="0" rx="10.5" ry="17.5"/><ellipse class="t" cx="0" cy="0" rx="8.7" ry="14.5"/><ellipse class="n" cx="-17" cy="-13" rx="6.5" ry="3.5"/></g>
<g transform="translate(141.3,1585.4) rotate(151.7)"><path class="k" d="M0 -43.5L-71.4 -43.5A33.9 43.5 0 0 0 -71.4 43.5L0 43.5A33.9 43.5 0 0 0 0 -43.5Z"/><ellipse class="k" cx="0" cy="0" rx="33.9" ry="43.5"/><ellipse class="t" cx="0" cy="0" rx="31.2" ry="40"/><ellipse class="n" cx="2" cy="2" rx="26.5" ry="34"/><ellipse class="n" cx="3" cy="3" rx="23" ry="29.5"/><path class="t" d="M-6 -20A21.8 28 0 0 1 -6 28"/></g>
<ellipse class="n" cx="154.8" cy="1539" rx="12" ry="7.4" transform="rotate(-5 154.8 1539)"/>
<path class="t" d="M145.1 1540.9C146.6 1541.6 150.3 1544.8 153.9 1544.8C157.4 1544.8 164.3 1541.6 166.4 1540.9"/>
<g transform="translate(256.8,1522.2) rotate(149.3)"><path class="k" d="M-80 -42L-88 -42A31.1 42 0 0 0 -88 42L-80 42A31.1 42 0 0 0 -80 -42Z"/><ellipse class="k" cx="-80" cy="0" rx="31.1" ry="42"/><path class="k" d="M-76 -42L-84 -42A31.1 42 0 0 0 -84 42L-76 42A31.1 42 0 0 0 -76 -42Z"/><ellipse class="k" cx="-76" cy="0" rx="31.1" ry="42"/><path class="k" d="M0 -35.5L-78 -35.5A26.3 35.5 0 0 0 -78 35.5L0 35.5A26.3 35.5 0 0 0 0 -35.5Z"/><ellipse class="k" cx="0" cy="0" rx="26.3" ry="35.5"/><ellipse class="t" cx="0" cy="0" rx="23.7" ry="32"/><ellipse class="n" cx="1" cy="1" rx="20.4" ry="27.5"/><ellipse class="n" cx="3" cy="2" rx="16.3" ry="22"/><ellipse class="t" cx="4" cy="2" rx="14.1" ry="19"/></g>
<ellipse cx="270.9" cy="1480.9" rx="12" ry="7" fill="#333" stroke="#111" stroke-width="1.6" transform="rotate(-8 270.9 1480.9)"/><ellipse class="t" cx="272.7" cy="1481.6" rx="6.6" ry="3.8" transform="rotate(-8 272.7 1481.6)"/>
<ellipse class="t" cx="308.7" cy="1456.7" rx="5.8" ry="2.5" transform="rotate(-10 308.7 1456.7)"/>
<path class="k" d="M403.5 1395.8C405.5 1394.3 425.2 1383.6 428.6 1384.2C432 1384.8 468.9 1405.4 471.2 1407.4C473.5 1409.4 474.2 1422.4 474.1 1423.9C474 1425.4 471.4 1435.7 469.3 1437.4C467.1 1439.1 433.2 1457.5 430.6 1458.7C427.9 1459.9 418.6 1461.9 417 1461.6C415.5 1461.3 401 1454.2 399.6 1452.9C398.2 1451.6 390.5 1437.4 389.9 1435.5C389.4 1433.5 388.3 1416.2 389 1414.2C389.6 1412.2 401.5 1397.3 403.5 1395.8Z"/>
<path class="n" d="M428.6 1384.2L444.1 1421.9L471.2 1407.4"/>
<path class="t" d="M444.1 1421.9L446 1441.3"/>
<path class="t" d="M403.5 1395.8C405.4 1395.5 410.9 1393.4 415.1 1393.9C419.3 1394.3 424.8 1396 428.6 1398.7C432.5 1401.4 435.7 1406.4 438.3 1410.3C440.9 1414.2 443.1 1420 444.1 1421.9"/>
<ellipse class="n" cx="417" cy="1429.7" rx="23.2" ry="31" transform="rotate(-20 417 1429.7)"/>
<ellipse class="t" cx="413.1" cy="1430.6" rx="18.4" ry="26.1" transform="rotate(-20 413.1 1430.6)"/>
<ellipse class="t" cx="405.4" cy="1416.1" rx="7.7" ry="10.6" transform="rotate(-20 405.4 1416.1)"/>
<circle class="k" cx="382.2" cy="1445.1" r="29"/>
<ellipse class="k" cx="397.7" cy="1454.8" rx="10.6" ry="15.9" transform="rotate(15 397.7 1454.8)"/>
<ellipse class="n" cx="396.7" cy="1455.2" rx="7.7" ry="12.4" transform="rotate(15 396.7 1455.2)"/>
<ellipse class="n" cx="364.8" cy="1454.8" rx="5.4" ry="8.1"/>
<path class="n" d="M364.8 1433.5C366.4 1432.2 370.6 1427.4 374.4 1425.8C378.3 1424.2 385.7 1424.2 388 1423.9"/>
<path class="t" d="M368.6 1439.3C369.9 1438.2 373 1434.1 376.4 1432.6C379.8 1431 386.9 1430.5 389 1430"/>
<path class="t" d="M364.8 1433.5L368.6 1439.3"/>
<g transform="translate(467.3,1488.1) rotate(32)"><path class="k" d="M0 -17.5L-38 -17.5A10.5 17.5 0 0 0 -38 17.5L0 17.5A10.5 17.5 0 0 0 0 -17.5Z"/><ellipse class="k" cx="0" cy="0" rx="10.5" ry="17.5"/><ellipse class="t" cx="0" cy="0" rx="8.7" ry="14.5"/><ellipse class="n" cx="-19" cy="-12" rx="7" ry="4"/></g>
<!-- p_41_sliders -->
<g transform="translate(778.7,1061.2) rotate(150.1)"><path class="k" d="M-104 -37.7L-151.6 -37.7A29.8 37.7 0 0 0 -151.6 37.7L-104 37.7A29.8 37.7 0 0 0 -104 -37.7Z"/><ellipse class="k" cx="-104" cy="0" rx="29.8" ry="37.7"/><path class="k" d="M0 -37.7L-104 -37.7A29.8 37.7 0 0 0 -104 37.7L0 37.7A29.8 37.7 0 0 0 0 -37.7Z"/><ellipse class="k" cx="0" cy="0" rx="29.8" ry="37.7"/><path class="t" d="M-107 -37.7A29.8 37.7 0 0 0 -107 37.7"/><ellipse class="t" cx="0" cy="0" rx="27.7" ry="35.1"/><ellipse class="n" cx="0" cy="0" rx="25" ry="31.7"/><path class="t" d="M-13.8 -23.8L12.5 -17.4L18.8 0"/><path class="t" d="M-5 14.3L21.3 9.5L7.5 25.3"/></g>
<g transform="translate(506.1,1380.6) rotate(152.4)"><path class="k" d="M-51.3 -38.4L-179.4 -38.4A30.3 38.4 0 0 0 -179.4 38.4L-51.3 38.4A30.3 38.4 0 0 0 -51.3 -38.4Z"/><ellipse class="k" cx="-51.3" cy="0" rx="30.3" ry="38.4"/><path class="k" d="M0 -40L-51.3 -40A31.6 40 0 0 0 -51.3 40L0 40A31.6 40 0 0 0 0 -40Z"/><ellipse class="k" cx="0" cy="0" rx="31.6" ry="40"/><path class="t" d="M-54.3 -38.4A30.3 38.4 0 0 0 -54.3 38.4"/><ellipse class="t" cx="0" cy="0" rx="29.4" ry="37.2"/><ellipse class="n" cx="0" cy="0" rx="26.5" ry="33.6"/><path class="t" d="M-14.6 -25.2L13.3 -18.5L19.9 0"/><path class="t" d="M-5.3 15.1L22.6 10.1L8 26.9"/></g>
<g transform="translate(464.3,1223.6) rotate(153.2)"><g transform="translate(0,0) rotate(0)"><path class="k" d="M-189.4 -1.3L-185.4 1.3L-186.1 7.6L-190.4 8.4L-192.2 13.4L-190.1 18.7L-193.3 23.2L-197.2 20.3L-200.7 22.9L-201.2 28.9L-205.8 30L-207.7 24.5L-211.6 23.7L-214.6 28.1L-218.7 25.2L-217.9 19.3L-220.7 15.4L-225 16.6L-227.1 10.9L-224 6.7L-224.6 1.3L-228.6 -1.3L-227.9 -7.6L-223.6 -8.4L-221.8 -13.4L-223.9 -18.7L-220.7 -23.2L-216.8 -20.3L-213.3 -22.9L-212.8 -28.9L-208.2 -30L-206.3 -24.5L-202.4 -23.7L-199.4 -28.1L-195.3 -25.2L-196.1 -19.3L-193.3 -15.4L-189 -16.6L-186.9 -10.9L-190 -6.7Z"/><path class="t" d="M21.6 1.3L-185.4 1.3M20.9 7.6L-186.1 7.6M16.9 18.7L-190.1 18.7M13.7 23.2L-193.3 23.2M5.8 28.9L-201.2 28.9M1.2 30L-205.8 30M-7.6 28.1L-214.6 28.1M-11.7 25.2L-218.7 25.2M-18 16.6L-225 16.6M-20.1 10.9L-227.1 10.9M-21.6 -1.3L-228.6 -1.3M-20.9 -7.6L-227.9 -7.6M-16.9 -18.7L-223.9 -18.7M-13.7 -23.2L-220.7 -23.2M-5.8 -28.9L-212.8 -28.9M-1.2 -30L-208.2 -30M7.6 -28.1L-199.4 -28.1M11.7 -25.2L-195.3 -25.2M18 -16.6L-189 -16.6M20.1 -10.9L-186.9 -10.9"/><path class="k" d="M17.6 -1.3L21.6 1.3L20.9 7.6L16.6 8.4L14.8 13.4L16.9 18.7L13.7 23.2L9.8 20.3L6.3 22.9L5.8 28.9L1.2 30L-0.7 24.5L-4.6 23.7L-7.6 28.1L-11.7 25.2L-10.9 19.3L-13.7 15.4L-18 16.6L-20.1 10.9L-17 6.7L-17.6 1.3L-21.6 -1.3L-20.9 -7.6L-16.6 -8.4L-14.8 -13.4L-16.9 -18.7L-13.7 -23.2L-9.8 -20.3L-6.3 -22.9L-5.8 -28.9L-1.2 -30L0.7 -24.5L4.6 -23.7L7.6 -28.1L11.7 -25.2L10.9 -19.3L13.7 -15.4L18 -16.6L20.1 -10.9L17 -6.7Z"/></g><path class="k" d="M-98 -41L-108 -41A29.5 41 0 0 0 -108 41L-98 41A29.5 41 0 0 0 -98 -41Z"/><ellipse class="k" cx="-98" cy="0" rx="29.5" ry="41"/><ellipse class="t" cx="-98" cy="0" rx="26.6" ry="37"/><path class="k" d="M-94 -36L-98 -36A25.9 36 0 0 0 -98 36L-94 36A25.9 36 0 0 0 -94 -36Z"/><ellipse class="k" cx="-94" cy="0" rx="25.9" ry="36"/><g transform="translate(0,0) rotate(0)"><path class="k" d="M-76.4 -1.3L-72.4 1.3L-73.1 7.6L-77.4 8.4L-79.2 13.4L-77.1 18.7L-80.3 23.2L-84.2 20.3L-87.7 22.9L-88.2 28.9L-92.8 30L-94.7 24.5L-98.6 23.7L-101.6 28.1L-105.7 25.2L-104.9 19.3L-107.7 15.4L-112 16.6L-114.1 10.9L-111 6.7L-111.6 1.3L-115.6 -1.3L-114.9 -7.6L-110.6 -8.4L-108.8 -13.4L-110.9 -18.7L-107.7 -23.2L-103.8 -20.3L-100.3 -22.9L-99.8 -28.9L-95.2 -30L-93.3 -24.5L-89.4 -23.7L-86.4 -28.1L-82.3 -25.2L-83.1 -19.3L-80.3 -15.4L-76 -16.6L-73.9 -10.9L-77 -6.7Z"/><path class="t" d="M21.6 1.3L-72.4 1.3M20.9 7.6L-73.1 7.6M16.9 18.7L-77.1 18.7M13.7 23.2L-80.3 23.2M5.8 28.9L-88.2 28.9M1.2 30L-92.8 30M-7.6 28.1L-101.6 28.1M-11.7 25.2L-105.7 25.2M-18 16.6L-112 16.6M-20.1 10.9L-114.1 10.9M-21.6 -1.3L-115.6 -1.3M-20.9 -7.6L-114.9 -7.6M-16.9 -18.7L-110.9 -18.7M-13.7 -23.2L-107.7 -23.2M-5.8 -28.9L-99.8 -28.9M-1.2 -30L-95.2 -30M7.6 -28.1L-86.4 -28.1M11.7 -25.2L-82.3 -25.2M18 -16.6L-76 -16.6M20.1 -10.9L-73.9 -10.9"/><path class="k" d="M17.6 -1.3L21.6 1.3L20.9 7.6L16.6 8.4L14.8 13.4L16.9 18.7L13.7 23.2L9.8 20.3L6.3 22.9L5.8 28.9L1.2 30L-0.7 24.5L-4.6 23.7L-7.6 28.1L-11.7 25.2L-10.9 19.3L-13.7 15.4L-18 16.6L-20.1 10.9L-17 6.7L-17.6 1.3L-21.6 -1.3L-20.9 -7.6L-16.6 -8.4L-14.8 -13.4L-16.9 -18.7L-13.7 -23.2L-9.8 -20.3L-6.3 -22.9L-5.8 -28.9L-1.2 -30L0.7 -24.5L4.6 -23.7L7.6 -28.1L11.7 -25.2L10.9 -19.3L13.7 -15.4L18 -16.6L20.1 -10.9L17 -6.7Z"/><ellipse class="n" cx="0" cy="0" rx="7.2" ry="10"/><ellipse class="n" cx="1" cy="0" rx="4.7" ry="6.5"/></g></g>
<!-- p_50_housing -->
<path class="n" d="M1576.1 436.8L1552.9 425.2L1513.6 448.4L1495.7 477.9L1480.5 524.3L1476.1 590.4L1483.2 652.9L1531.4 679.6L1629.6 621.6"/>
<path class="t" d="M1550.2 427.3L1569.8 438.6"/>
<path class="t" d="M1560 466.2L1539.5 514.5L1523.4 549.3L1520.4 611.8L1531.4 679.6"/>
<path class="t" d="M1563.6 469.8L1542.1 517.1L1526.4 551.1L1523.4 611.8L1534.6 679.3"/>
<path class="t" d="M1518.9 446.6L1560 466.2"/>
<path class="t" d="M1510 456.4L1557.3 475.2"/>
<path class="t" d="M1496.6 478.8L1550.2 495.7"/>
<path class="t" d="M1480.5 524.3L1523.4 549.3"/>
<path class="t" d="M1477 590.4L1520.7 610.9"/>
<path class="t" d="M1477.9 603.8L1521.6 623.4"/>
<path class="t" d="M1539.8 527L1557.3 534.1"/>
<path class="t" d="M1523.9 598.9L1546.1 597.5"/>
<path class="t" d="M1524.3 624.3L1547.9 617.1"/>
<path class="t" d="M1531.4 679.6L1562.1 640.4"/>
<path class="t" d="M1534.6 679.3L1565.4 640.7"/>
<path class="n" d="M1557.9 456.8C1556.1 460.9 1550.4 472.6 1547.5 481.4C1544.6 490.3 1541.8 501.1 1540.4 510C1538.9 518.9 1538.2 524.9 1538.6 535C1538.9 545.1 1541.2 558.2 1542.5 570.7C1543.8 583.2 1544.9 600.5 1546.6 610C1548.3 619.5 1549.7 623.1 1552.9 627.9C1556 632.6 1560.6 636.3 1565.4 638.6C1570.1 640.8 1575.2 641.7 1581.4 641.2C1587.7 640.8 1594.8 639.2 1602.9 635.9C1610.9 632.6 1625.2 624 1629.6 621.6"/>
<path class="t" d="M1565.4 453.8C1563.6 458.4 1557.3 472.1 1554.6 481.4C1552 490.8 1550.3 501.1 1549.3 510C1548.2 518.9 1548 524.9 1548.4 535C1548.8 545.1 1550.4 558.5 1551.4 570.7C1552.5 582.9 1553.2 599 1554.6 608.2C1556.1 617.4 1557.3 621.5 1560 626.1C1562.7 630.7 1566.5 633.8 1570.7 635.9C1574.9 638 1579 639.2 1585 638.6C1591 638 1599.4 634.9 1606.4 632.3C1613.4 629.8 1623.5 624.9 1627 623.4"/>
<path class="t" d="M1571.6 455.5C1569.7 460.4 1562.8 475.3 1560 485C1557.2 494.7 1555.7 505.2 1554.6 513.6C1553.6 521.9 1553.3 525.5 1553.8 535C1554.2 544.5 1556.4 558.8 1557.3 570.7C1558.2 582.6 1557.9 597.6 1559.1 606.4C1560.3 615.2 1561.9 618.9 1564.5 623.4C1567 627.9 1570.3 631.2 1574.3 633.2C1578.3 635.2 1582.9 636.1 1588.6 635.4C1594.2 634.6 1604.9 629.9 1608.2 628.8"/>
<path class="t" d="M1577.9 459.1C1575.9 463.4 1569.2 475.9 1566.2 485C1563.3 494.1 1561.2 505.2 1560 513.6C1558.8 521.9 1558.8 525.5 1559.1 535C1559.5 544.5 1561.2 559.1 1562.1 570.7C1563 582.3 1563.3 596.3 1564.5 604.6C1565.7 613 1567.1 616.4 1569.3 620.7C1571.5 625 1574.3 628.8 1577.9 630.5C1581.4 632.3 1588.3 631.3 1590.4 631.4"/>
<path class="n" d="M1583.2 463.6C1581.3 467.4 1574.4 479 1571.6 486.8C1568.8 494.5 1567.3 502 1566.2 510C1565.2 518 1565 528.2 1565.4 535C1565.7 541.8 1566.8 546.6 1568.6 551.1C1570.4 555.5 1573 559.4 1576.1 561.8C1579.1 564.2 1583.2 565 1586.8 565.4C1590.4 565.7 1595.7 564.2 1597.5 563.9"/>
<path class="t" d="M1589.5 469.8C1587.5 473.2 1580.7 483.1 1577.9 490.4C1575 497.6 1573.5 506.1 1572.5 513.6C1571.5 521 1571.6 528.8 1572.1 535C1572.7 541.2 1573.9 547 1575.7 551.1C1577.6 555.2 1580.2 557.9 1583.2 559.6C1586.2 561.4 1592.1 561.4 1593.9 561.8"/>
<path class="n" d="M1601.1 488.6C1599 491 1592.1 497.5 1588.6 502.9C1585.1 508.2 1581.9 514.8 1580 520.7C1578.1 526.7 1576.7 533.2 1577 538.6C1577.2 543.9 1578.9 549.1 1581.4 552.9C1584 556.6 1587.7 558.5 1592.1 560.9C1596.6 563.3 1605.5 566.1 1608.2 567.1"/>
<path class="t" d="M1557.3 534.1L1566.8 535L1572.9 618"/>
<path class="n" d="M1565.4 461.8C1564.1 461.2 1559.4 460.1 1557.9 458.2C1556.3 456.3 1555.4 452.4 1556.1 450.2C1556.7 447.9 1559.3 445.9 1561.8 444.8C1564.2 443.8 1569.2 444.1 1570.7 443.9"/>
<path class="n" d="M1576.1 457.3L1592.1 463.6L1595.7 471.6L1602.9 476.1L1607.3 483.2L1617.1 497.5"/>
<path class="n" d="M1617.1 497.5C1618.6 496.5 1622.8 492.1 1626.1 491.2C1629.3 490.4 1633.7 490.7 1636.8 492.5C1639.9 494.3 1642.7 498.8 1644.8 502C1646.9 505.2 1648.5 510.1 1649.3 511.8"/>
<!-- p_51_housing_beam -->
<path class="n" d="M1561.8 444.8C1563.9 443.9 1569.8 441.2 1574.3 439.5C1578.8 437.7 1584.4 435.4 1588.6 434.1C1592.7 432.8 1597.5 431.9 1599.3 431.4"/>
<path class="n" d="M1599.3 431.4L1798.9 489.9L2159 683.9L2319.5 822.4L2340.3 840.9"/>
<path class="n" d="M2340.3 840.9C2339.3 842.7 2337.6 848.4 2334.5 851.3C2331.4 854.2 2326.3 856.3 2321.8 858.2C2317.4 860.2 2310.3 862.1 2308 862.9"/>
<path class="t" d="M2298.7 832.8L2331.1 820.1"/>
<path class="t" d="M2298.7 832.8C2299.9 834.6 2304.1 838.2 2305.7 843.2C2307.2 848.2 2307.6 859.6 2308 862.9"/>
<path class="t" d="M1798.9 489.9L1746.4 508.3"/>
<path class="t" d="M1801.8 492.1L1750.1 510.5"/>
<path class="t" d="M2159 683.9L2109.4 701.2"/>
<path class="t" d="M2163.6 687.3L2114 704.7"/>
<path class="n" d="M1570.7 448.4L1703.6 496.5L1746.4 510.5L1836.6 558.6"/>
<path class="n" d="M1989.3 642.3L2109.4 701.2L2234.1 801.7L2296.4 842.1"/>
<path class="n" d="M1574.3 454.6L1705 503.9L1743.5 517.2L1833.6 563.8"/>
<path class="n" d="M1987 649.2L2111.7 709.3L2146.3 734.7L2291.8 840.9"/>
<path class="t" d="M1703.6 496.5L1705 503.9"/>
<path class="t" d="M2146.3 734.7L2147.5 742.8"/>
<path class="n" d="M1649.3 511.8L1832.1 606.6"/>
<path class="t" d="M1652 517.1L1830.7 611.1"/>
<path class="n" d="M2043.5 716.2L2231.8 824.8"/>
<path class="t" d="M2042.4 721.3L2228.3 828.9"/>
<path class="n" d="M2231.8 824.8C2233.5 823.9 2238.5 819.1 2242.1 819.7C2245.8 820.3 2250.4 824.7 2253.7 828.2C2257 831.8 2257.7 838.3 2261.8 840.9C2265.8 843.5 2275.3 843.2 2277.9 843.7"/>
<ellipse class="n" cx="1668.1" cy="502.4" rx="9.8" ry="13.6" transform="rotate(-14 1668.1 502.4)"/>
<path class="t" d="M1667.3 489.9C1668 491.3 1670.2 495.7 1671.3 498.3C1672.5 501 1673.3 504.1 1674.3 505.8C1675.3 507.5 1676.8 508.1 1677.3 508.5"/>
<ellipse class="n" cx="1719.8" cy="523.9" rx="11.2" ry="15.1" transform="rotate(-14 1719.8 523.9)"/>
<path class="t" d="M1719.1 510C1719.7 511.5 1721.9 516.4 1723.1 519.3C1724.2 522.3 1724.8 525.7 1726 527.6C1727.3 529.5 1729.7 530.1 1730.5 530.6"/>
<ellipse class="n" cx="1769.3" cy="546.8" rx="13" ry="18" transform="rotate(-14 1769.3 546.8)"/>
<path class="t" d="M1768.6 530.2C1769.2 532 1771.4 537.8 1772.6 541.4C1773.7 544.9 1774 549 1775.5 551.3C1777 553.5 1780.7 554.3 1781.7 554.9"/>
<path class="n" d="M1830.7 563C1829.2 562.5 1824.3 559.3 1821.8 560.1C1819.3 560.8 1817.1 564.5 1815.9 567.5C1814.6 570.4 1814.2 574.3 1814.4 577.8C1814.6 581.2 1815.6 585.4 1817.4 588.1C1819.1 590.9 1822.5 592.9 1824.7 594.1C1827 595.2 1829.7 594.7 1830.7 594.8"/>
<path class="t" d="M1827 561.5C1826.5 563 1824.3 567.5 1824 570.4C1823.8 573.4 1824.5 576.6 1825.5 579.3C1826.5 582 1829.2 585.4 1829.9 586.7"/>
<ellipse class="n" cx="2063.2" cy="704.2" rx="13.4" ry="18.5" transform="rotate(-14 2063.2 704.2)"/>
<path class="t" d="M2061.3 687.6C2061.9 689.7 2063.7 696.8 2065 700.5C2066.3 704.2 2067.2 707.6 2068.9 709.7C2070.6 711.9 2074.2 712.8 2075.2 713.4"/>
<ellipse class="n" cx="2120.4" cy="736.5" rx="13.4" ry="18" transform="rotate(-14 2120.4 736.5)"/>
<path class="t" d="M2118.6 720.3C2119.2 722.4 2121 729.3 2122.3 732.9C2123.6 736.5 2124.5 739.8 2126.2 741.9C2127.9 744 2131.4 744.9 2132.5 745.5"/>
<ellipse class="n" cx="2168.9" cy="764.7" rx="10.6" ry="14.8" transform="rotate(-14 2168.9 764.7)"/>
<path class="t" d="M2167.1 751.4C2167.7 753.1 2169.5 758.8 2170.8 761.8C2172.1 764.7 2173.4 767.4 2174.7 769.1C2176 770.9 2177.9 771.6 2178.5 772.1"/>
<ellipse class="n" cx="2219.1" cy="799.4" rx="9.7" ry="12.9" transform="rotate(-14 2219.1 799.4)"/>
<path class="t" d="M2217.2 787.7C2217.8 789.2 2219.6 794.2 2220.9 796.8C2222.2 799.4 2223.7 801.7 2224.8 803.2C2226 804.7 2227.3 805.4 2227.8 805.8"/>
<path class="n" d="M1997.3 658.5L2036.6 717.4L2043.5 707L2019.3 665.4"/>
<path class="t" d="M2002 661.9L2034.3 710.4"/>
<path class="t" d="M2036.6 717.4L2034.3 722L2028.5 719.7"/>
<!-- p_52_housing_lugs -->
<path class="n" d="M1659 528.2L1590.9 590.5C1589.5 592.8 1583.6 599.4 1582.8 604.4C1582 609.4 1583.4 616.7 1586.3 620.6C1589.1 624.4 1597.8 626.3 1600.1 627.5L1600.1 627.5L1642.8 615.9"/><path class="n" d="M1668.2 532.8L1659 528.2"/><path class="t" d="M1668.2 532.8L1602.9 591.7C1601.6 594 1595.8 600.9 1595 605.5C1594.3 610.2 1595.9 616.1 1598.3 619.4C1600.7 622.7 1607.5 624.2 1609.4 625.2"/><path class="t" d="M1607.5 596.3C1606.4 598.2 1601.2 604 1600.6 607.9C1600 611.7 1601.9 616.9 1603.8 619.4C1605.7 621.9 1610.7 622.5 1612.1 623.1"/><path class="t" d="M1590.9 590.5L1602.9 591.7"/><ellipse class="n" cx="1609.4" cy="607.9" rx="6.9" ry="8.8" transform="rotate(20 1609.4 607.9)"/><path class="t" d="M1665.9 536.3C1664.3 539 1658.3 546.7 1656 552.4C1653.7 558.2 1652.3 565.1 1652.3 570.9C1652.3 576.7 1654.1 582.8 1656 587.1C1657.9 591.3 1662.4 594.8 1663.6 596.3"/>
<path class="n" d="M1711 554.7L1642.8 617.1C1641.5 619.4 1635.5 625.9 1634.8 630.9C1634 636 1635.3 643.3 1638.2 647.1C1641.1 651 1649.8 652.9 1652.1 654L1652.1 654L1694.8 643.6"/><path class="n" d="M1720.2 559.4L1711 554.7"/><path class="t" d="M1720.2 559.4L1654.8 618.2C1653.5 620.6 1647.8 627.5 1647 632.1C1646.2 636.7 1647.8 642.7 1650.2 646C1652.6 649.2 1659.5 650.8 1661.3 651.7"/><path class="t" d="M1659.5 622.9C1658.3 624.8 1653.2 630.6 1652.5 634.4C1651.9 638.3 1653.8 643.4 1655.8 646C1657.7 648.5 1662.7 649 1664.1 649.7"/><path class="t" d="M1642.8 617.1L1654.8 618.2"/><ellipse class="n" cx="1661.3" cy="634.4" rx="6.9" ry="8.8" transform="rotate(20 1661.3 634.4)"/><path class="t" d="M1717.9 562.8C1716.2 565.5 1710.2 573.2 1708 579C1705.7 584.8 1704.3 591.7 1704.3 597.5C1704.3 603.2 1706.1 609.4 1708 613.6C1709.9 617.9 1714.3 621.3 1715.6 622.9"/>
<path class="n" d="M1766.4 583.6L1698.3 646C1696.9 648.3 1691 654.8 1690.2 659.8C1689.4 664.8 1690.8 672.1 1693.6 676C1696.5 679.8 1705.2 681.8 1707.5 682.9L1707.5 682.9L1784.9 663.3"/><path class="n" d="M1775.6 588.2L1766.4 583.6"/><path class="t" d="M1775.6 588.2L1710.3 647.1C1709 649.4 1703.2 656.4 1702.4 661C1701.7 665.6 1703.3 671.6 1705.7 674.8C1708 678.1 1714.9 679.6 1716.7 680.6"/><path class="t" d="M1714.9 651.7C1713.7 653.7 1708.6 659.4 1708 663.3C1707.4 667.1 1709.3 672.3 1711.2 674.8C1713.1 677.4 1718.1 677.9 1719.5 678.5"/><path class="t" d="M1698.3 646L1710.3 647.1"/><ellipse class="n" cx="1716.7" cy="663.3" rx="6.9" ry="8.8" transform="rotate(20 1716.7 663.3)"/><path class="t" d="M1773.3 591.7C1771.7 594.4 1765.7 602.1 1763.4 607.9C1761.1 613.6 1759.7 620.6 1759.7 626.3C1759.7 632.1 1761.5 638.3 1763.4 642.5C1765.3 646.7 1769.7 650.2 1771 651.7"/>
<path class="n" d="M2090.9 758.9L2022.7 821.3C2021.4 823.6 2015.4 830.1 2014.7 835.2C2013.9 840.2 2015.2 847.5 2018.1 851.3C2021 855.2 2029.7 857.1 2032 858.2L2032 858.2L2079.3 849"/><path class="n" d="M2100.1 763.6L2090.9 758.9"/><path class="t" d="M2100.1 763.6L2034.8 822.4C2033.4 824.8 2027.7 831.7 2026.9 836.3C2026.1 840.9 2027.8 846.9 2030.1 850.2C2032.5 853.4 2039.4 855 2041.2 855.9"/><path class="t" d="M2039.4 827.1C2038.2 829 2033.1 834.8 2032.4 838.6C2031.8 842.5 2033.8 847.6 2035.7 850.2C2037.6 852.7 2042.6 853.2 2044 853.9"/><path class="t" d="M2022.7 821.3L2034.8 822.4"/><ellipse class="n" cx="2041.2" cy="838.6" rx="6.9" ry="8.8" transform="rotate(20 2041.2 838.6)"/><path class="t" d="M2097.8 767C2096.2 769.7 2090.1 777.4 2087.9 783.2C2085.6 789 2084.2 795.9 2084.2 801.7C2084.2 807.4 2086 813.6 2087.9 817.8C2089.8 822.1 2094.2 825.5 2095.5 827.1"/>
<path class="n" d="M2142.8 786.2L2074.7 848.5C2073.4 850.9 2067.4 857.4 2066.6 862.4C2065.9 867.4 2067.2 874.7 2070.1 878.6C2073 882.4 2081.6 884.3 2083.9 885.5L2083.9 885.5L2132.4 875.6"/><path class="n" d="M2152.1 790.8L2142.8 786.2"/><path class="t" d="M2152.1 790.8L2086.7 849.7C2085.4 852 2079.6 858.9 2078.9 863.6C2078.1 868.2 2079.7 874.1 2082.1 877.4C2084.5 880.7 2091.3 882.2 2093.2 883.2"/><path class="t" d="M2091.3 854.3C2090.2 856.2 2085 862 2084.4 865.9C2083.8 869.7 2085.7 874.9 2087.6 877.4C2089.6 880 2094.6 880.5 2096 881.1"/><path class="t" d="M2074.7 848.5L2086.7 849.7"/><ellipse class="n" cx="2093.2" cy="865.9" rx="6.9" ry="8.8" transform="rotate(20 2093.2 865.9)"/><path class="t" d="M2149.8 794.3C2148.1 797 2142.1 804.7 2139.8 810.4C2137.6 816.2 2136.1 823.1 2136.1 828.9C2136.1 834.7 2138 840.8 2139.8 845.1C2141.7 849.3 2146.2 852.8 2147.5 854.3"/>
<path class="n" d="M2194.8 813.2L2126.7 875.6C2125.3 877.9 2119.4 884.4 2118.6 889.4C2117.8 894.4 2119.2 901.7 2122.1 905.6C2124.9 909.4 2133.6 911.4 2135.9 912.5L2135.9 912.5L2215.6 895.2"/><path class="n" d="M2204 817.8L2194.8 813.2"/><path class="t" d="M2204 817.8L2138.7 876.7C2137.4 879 2131.6 886 2130.8 890.6C2130.1 895.2 2131.7 901.2 2134.1 904.4C2136.5 907.7 2143.3 909.2 2145.2 910.2"/><path class="t" d="M2143.3 881.3C2142.1 883.3 2137 889 2136.4 892.9C2135.8 896.7 2137.7 901.9 2139.6 904.4C2141.5 907 2146.5 907.5 2147.9 908.1"/><path class="t" d="M2126.7 875.6L2138.7 876.7"/><ellipse class="n" cx="2145.2" cy="892.9" rx="6.9" ry="8.8" transform="rotate(20 2145.2 892.9)"/><path class="t" d="M2201.7 821.3C2200.1 824 2194.1 831.7 2191.8 837.5C2189.5 843.2 2188.1 850.2 2188.1 855.9C2188.1 861.7 2189.9 867.9 2191.8 872.1C2193.7 876.3 2198.2 879.8 2199.4 881.3"/>
<path class="n" d="M2215.6 895.2L2247.9 910.7"/>
<!-- p_53_housing_center -->
<ellipse class="k" cx="1823" cy="714.3" rx="32.9" ry="49.9" transform="rotate(-15 1823 714.3)"/>
<ellipse class="n" cx="1823.5" cy="714.3" rx="29.6" ry="46.2" transform="rotate(-15 1823.5 714.3)"/>
<ellipse class="t" cx="1824.3" cy="714.3" rx="27.7" ry="44" transform="rotate(-15 1824.3 714.3)"/>
<path class="t" d="M1836.8 681.9C1834.1 683.2 1824.2 685 1820.2 689.3C1816.2 693.6 1813.7 701 1812.8 707.8C1811.9 714.6 1812.8 723.5 1814.7 730C1816.5 736.4 1820.2 742.9 1823.9 746.6C1827.6 750.3 1834.7 751.2 1836.8 752.1"/>
<path class="t" d="M1842.4 687.5C1839.9 688.4 1831.1 689.3 1827.6 693C1824.1 696.7 1821.9 703.8 1821.1 709.7C1820.4 715.5 1821.3 722.6 1823 728.1C1824.7 733.7 1828.1 739.8 1831.3 742.9C1834.5 746 1840.5 746 1842.4 746.6"/>
<path class="t" d="M1846.1 694.9C1844.5 696.4 1838.5 700.1 1836.8 704.1C1835.1 708.1 1835 714.3 1835.9 718.9C1836.8 723.5 1841.3 729.7 1842.4 731.8"/>
<path class="n" d="M1853.5 650.5C1856.2 653.9 1865.8 663.2 1870.1 670.9C1874.4 678.6 1877.6 688.1 1879.3 696.7C1881 705.3 1880.9 714.6 1880.3 722.6C1879.6 730.6 1876.4 741.1 1875.6 744.8"/>
<path class="t" d="M1859 648.7C1862.1 652.4 1872.9 662.8 1877.5 670.9C1882.1 678.9 1885 688.1 1886.7 696.7C1888.4 705.3 1888.4 714.4 1887.6 722.6C1886.9 730.7 1883 741.8 1882.1 745.7"/>
<path class="n" d="M1868.2 646.8C1871.9 650.8 1885.5 661.9 1890.4 670.9C1895.3 679.8 1896.7 691.2 1897.8 700.4C1898.9 709.7 1898.1 718.6 1896.9 726.3C1895.7 734 1891.5 743.2 1890.4 746.6"/>
<path class="t" d="M1883 641.3C1887 645.9 1901.8 659.2 1907 669C1912.3 678.9 1913.5 690.9 1914.4 700.4C1915.4 710 1914.4 718.6 1912.6 726.3C1910.7 734 1904.9 743.2 1903.3 746.6"/>
<path class="n" d="M1811 666.2L1853.5 650.5"/>
<path class="n" d="M1838.7 762.3L1853.5 755.8"/>
<path class="n" d="M1853.5 755.8L1860.9 748.5L1907 748.5L1912.6 754L1907 758.6L1860.9 759.5L1853.5 755.8"/>
<path class="t" d="M1860.9 752.1L1908.9 752.1"/>
<path class="n" d="M1825.8 759.5L1879.3 781.7"/>
<path class="t" d="M1831.3 758.6L1883 778"/>
<path class="t" d="M1818.4 755.8C1819.3 757.4 1821.4 763.1 1823.9 765.1C1826.4 767.1 1831.6 767.4 1833.1 767.9"/>
<path class="n" d="M1944 663.5L1860.9 691.5C1860.5 692.6 1858.3 695.8 1858.6 697.6C1859 699.5 1862.3 701.8 1863.1 702.6L1946.2 672.3"/>
<path class="t" d="M1864.5 695.8L1944.9 668.1"/>
<path class="n" d="M1888.6 626.5L1834.1 656.1C1833.6 657 1830.8 659.9 1831.3 661.6C1831.8 663.3 1835.9 665.5 1836.8 666.2L1893.2 633.9"/>
<path class="t" d="M1836.8 661.2L1891.3 630.2"/>
<path class="t" d="M1799 663.5L1879.3 621"/>
<path class="t" d="M1801.7 660.7L1883 607.1"/>
<path class="t" d="M1805.4 657.9L1853.5 615.4"/>
<path class="t" d="M1811 652.4L1846.1 621"/>
<path class="t" d="M1799.9 664.4L1833.1 652.4"/>
<path class="n" d="M1814.7 621C1813.1 624 1808 632.4 1805.4 639.4C1802.8 646.5 1800 659.5 1799 663.5"/>
<path class="t" d="M1820.2 619.1C1818.7 622.2 1813.4 631.4 1811 637.6C1808.5 643.8 1806.4 653 1805.4 656.1"/>
<path class="n" d="M1877.5 672.7C1880.9 669.9 1889.8 662.5 1897.8 656.1C1905.8 649.6 1919.4 637.6 1925.5 633.9C1931.7 630.2 1934.3 631.7 1934.8 633.9C1935.2 636.1 1932.9 642.4 1928.3 646.8C1923.7 651.3 1914.6 656.5 1907 660.7C1899.5 664.8 1887 669.9 1883 671.8"/>
<path class="t" d="M1883 667.2C1886.4 664.7 1896.6 657.3 1903.3 652.4C1910.1 647.5 1920.3 640.1 1923.7 637.6"/>
<path class="n" d="M1868.2 622.8L1883 621L1897.8 630.2L1890.4 639.4L1877.5 641.3"/>
<path class="t" d="M1883 641.3L1894.1 656.1L1903.3 670.9"/>
<path class="t" d="M1897.8 630.2L1910.7 646.8"/>
<path class="n" d="M1846.1 606.2L1883 597"/>
<path class="t" d="M1849.8 613.6L1885.8 603.4"/>
<path class="n" d="M1903.3 628.4L1936.6 615.4"/>
<path class="t" d="M1905.2 633L1938.5 621"/>
<ellipse class="n" cx="1861.6" cy="566.3" rx="5.5" ry="7.8" transform="rotate(15 1861.6 566.3)"/>
<path class="n" d="M1831.1 549.7C1831.9 548.3 1832.6 543.3 1835.7 541.3C1838.8 539.3 1845.4 537.6 1849.6 537.6C1853.7 537.6 1858.8 540.7 1860.7 541.3L1905.2 561.8"/>
<path class="n" d="M1831.1 549.7L1833.1 598.8C1833.8 601 1834.1 609 1836.8 611.7C1839.6 614.5 1847.6 614.8 1849.8 615.4L1879.3 606.2L1883 578.5"/>
<path class="t" d="M1842.4 550.8C1843.3 549.7 1845.5 545.6 1847.9 544.3C1850.4 543 1855.6 543.2 1857.2 543"/>
<path class="t" d="M1836.8 560L1838.3 597C1838.8 598.6 1839.4 605 1841.5 607.1C1843.5 609.3 1849.2 609.4 1850.7 609.9"/>
<path class="t" d="M1814.7 560C1814.5 562.5 1812.8 568.6 1813.7 574.8C1814.7 580.9 1817.3 590.5 1820.2 597C1823.1 603.4 1829.4 610.8 1831.3 613.6"/>
<path class="t" d="M1823.9 563.7C1824.1 566.8 1823.6 575.7 1824.8 582.2C1826.1 588.6 1830.2 599.1 1831.3 602.5"/>
<ellipse class="n" cx="1917.2" cy="602.1" rx="5.9" ry="8.1" transform="rotate(15 1917.2 602.1)"/>
<path class="n" d="M1886.7 585.9C1887.5 584.5 1888.3 579.6 1891.3 577.6C1894.4 575.6 1901 573.9 1905.2 573.9C1909.4 573.9 1914.4 576.9 1916.3 577.6L1960.6 599.7"/>
<path class="n" d="M1886.7 585.9L1885.8 615.4C1886.6 617 1887.8 622.2 1890.4 624.7C1893 627.1 1899.7 629.3 1901.5 630.2L1936.6 617.3L1940.3 611.7"/>
<path class="t" d="M1881.2 582.2L1890.4 578.5"/>
<path class="t" d="M1881.2 582.2L1882.1 589.6L1886.7 590.5"/>
<path class="t" d="M1897.8 585.9C1898.7 584.9 1900.9 581.4 1903.3 580.3C1905.8 579.2 1911 579.6 1912.6 579.4"/>
<ellipse class="n" cx="1969.3" cy="628" rx="6.7" ry="9.6" transform="rotate(15 1969.3 628)"/>
<path class="n" d="M1940.3 613.6C1941.2 612.7 1942.8 609.7 1945.8 608.4C1948.9 607.1 1954.5 605.6 1958.8 605.8C1963.1 606.1 1969.6 609.2 1971.7 609.9L2014.2 630.2L1989.3 641.3L1989.3 646.8"/>
<path class="n" d="M1942.1 615.4L1940.3 656.1C1941.2 657.9 1943.1 663.5 1945.8 667.2C1948.6 670.9 1953.8 676.1 1956.9 678.2C1960 680.4 1963.1 679.8 1964.3 680.1L1980.9 675.5C1982.8 674.4 1989.1 671.2 1992 669C1995 666.9 1997.4 663.6 1998.5 662.5"/>
<path class="t" d="M1951.4 621C1952.3 620 1954.5 616.6 1956.9 615.4C1959.4 614.3 1964.6 614.2 1966.2 613.9"/>
<path class="t" d="M1948.6 621L1947.7 652.4L1953.2 663.5"/>
<path class="t" d="M1936.6 613.6L1942.1 615.4"/>
<ellipse class="n" cx="1948.6" cy="690.3" rx="6.7" ry="8.5" transform="rotate(15 1948.6 690.3)"/>
<path class="n" d="M1914.4 694.9C1915.5 692.3 1917.2 683.2 1920.9 679.2C1924.6 675.2 1931.2 671.9 1936.6 670.9C1942 669.8 1949.2 671.1 1953.2 673.1C1957.3 675.1 1959.8 678.8 1961 682.9C1962.2 687 1962.2 693.5 1960.6 697.6C1959 701.8 1955.7 705.7 1951.4 707.8C1947.1 710 1940 710.7 1934.8 710.6C1929.5 710.4 1923.4 709.5 1920 706.9C1916.6 704.3 1915.4 696.9 1914.4 694.9"/>
<path class="t" d="M1936.6 689.3C1937.2 687.5 1938.3 680.6 1940.3 678.2C1942.3 675.9 1947.2 675.9 1948.6 675.5"/>
<path class="n" d="M1986.5 670.9C1985.6 673.9 1984.6 683.8 1980.9 689.3C1977.3 694.9 1970.5 700.4 1964.3 704.1C1958.2 707.8 1950.2 710.3 1944 711.5C1937.8 712.7 1930.1 711.5 1927.4 711.5"/>
<path class="n" d="M1932 712.4C1930.8 716.3 1926.2 727.1 1924.6 735.5C1923 744 1922 754 1922.2 763.2C1922.3 772.5 1923.4 782.3 1925.5 790.9C1927.6 799.6 1933.2 811 1934.8 815"/>
<path class="t" d="M1927.4 718.9C1924.9 721 1916.1 727.2 1912.6 731.8C1909 736.4 1907.2 744.1 1906.1 746.6"/>
<path class="n" d="M1879.3 761.4C1880.9 765.7 1883.6 778.9 1888.6 787.3C1893.5 795.6 1900.9 804.8 1908.9 811.3C1916.9 817.7 1927.7 823.8 1936.6 826.1C1945.5 828.3 1954.8 825.8 1962.5 824.6C1970.2 823.3 1979.4 819.6 1982.8 818.7"/>
<path class="t" d="M1886.7 761.4C1888.3 765.4 1891.6 778 1896 785.4C1900.3 792.8 1909.8 802.3 1912.6 805.7"/>
<path class="t" d="M1900.6 760.5C1901.3 764 1902.6 775.4 1905.2 781.7C1907.8 788 1914.4 795.6 1916.3 798.3"/>
<path class="t" d="M1984.6 675.5C1981.9 679.6 1972 690.4 1968 700.4C1964 710.4 1961.5 723.5 1960.6 735.5C1959.7 747.5 1960.6 761.7 1962.5 772.5C1964.3 783.2 1970.2 795.6 1971.7 800.2"/>
<path class="t" d="M1997.6 687.5C1994.8 691.5 1984.8 702 1980.9 711.5C1977.1 721 1975.1 733.7 1974.5 744.8C1973.9 755.8 1974.9 768.2 1977.3 778C1979.6 787.9 1986.5 799.6 1988.3 803.9"/>
<path class="t" d="M2006.8 697.6C2004 701.2 1994 710.4 1990.2 718.9C1986.3 727.4 1984.3 738.6 1983.7 748.5C1983.1 758.3 1984.5 769.7 1986.5 778C1988.5 786.3 1994.2 794.9 1995.7 798.3"/>
<path class="t" d="M1995.7 798.3L1998.5 787.3L2002.2 785.8"/>
<path class="t" d="M2009.6 696.7L2010.5 707.8L2030.8 720.7"/>
<path class="n" d="M2038.2 721.7C2035 724 2023.7 729.2 2018.8 735.5C2013.9 741.8 2010 751.2 2008.7 759.5C2007.3 767.9 2008.4 778.3 2010.5 785.4C2012.7 792.5 2019.7 799.6 2021.6 802.4"/>
<path class="t" d="M2042.8 724.4C2039.6 726.7 2028.2 732.3 2023.4 738.3C2018.7 744.3 2015.4 752.9 2014.2 760.5C2013 768 2013.9 776.9 2016.1 783.6C2018.2 790.2 2025.3 797.4 2027.1 800.2"/>
<path class="t" d="M2021.6 802.4L2027.1 800.2L2029 805.7"/>
<path class="n" d="M1982.8 818.7L1988.3 813.1L2027.1 806.7L2041.9 798.3"/>
<path class="t" d="M1986.5 817.7L2029 809.4"/>
<ellipse class="n" cx="1936.6" cy="807.9" rx="6.7" ry="8.5" transform="rotate(15 1936.6 807.9)"/>
<path class="n" d="M1912.6 805.7C1913.2 804.5 1913.8 800.2 1916.3 798.3C1918.7 796.5 1922.4 794.6 1927.4 794.6C1932.3 794.6 1940.6 796.2 1945.8 798.3C1951.1 800.5 1954.8 804.2 1958.8 807.6C1962.8 810.9 1970.8 816.4 1969.9 818.3C1968.9 820.2 1959.1 817.7 1953.2 819C1947.4 820.3 1940.3 826.1 1934.8 826.1C1929.2 826 1923.7 822 1920 818.7C1916.3 815.3 1913.8 807.9 1912.6 805.7"/>
<path class="n" d="M1750 674.5L1785.1 665.3"/>
<path class="t" d="M1773.1 591.4C1771.4 594.2 1765.2 601.6 1762.9 608C1760.6 614.5 1759.2 623.4 1759.2 630.2C1759.2 637 1760.5 643.8 1762.9 648.7C1765.4 653.6 1770.3 657 1774 659.8C1777.7 662.5 1781.1 663.5 1785.1 665.3C1789.1 667.2 1795.9 669.9 1798 670.9"/>
<!-- p_54_housing_right -->
<path class="n" d="M2280.3 843.7C2277 846.7 2265.6 854.9 2260.6 861.7C2255.7 868.6 2252.6 876.7 2250.7 884.8C2248.8 892.9 2249.3 906 2249.1 910.2"/>
<path class="t" d="M2289.5 846.7C2286.2 849.8 2274.9 858.2 2269.9 865.2C2264.9 872.1 2261.6 880.4 2259.5 888.3C2257.4 896.2 2257.5 908.5 2257.2 912.5"/>
<path class="n" d="M2296.4 849C2293.3 852.3 2282.6 861.5 2277.9 868.6C2273.2 875.8 2271.1 880.2 2268.2 891.7C2265.4 903.3 2261.9 930.2 2260.6 937.9"/>
<path class="n" d="M2249.1 910.2L2254.8 977.2"/>
<path class="t" d="M2257.2 912.5L2259.5 951.8"/>
<path class="n" d="M2286.3 855.9L2262.6 875.6L2248.8 909.1L2252.8 960.3L2249.8 995.8L2256.7 1068.7L2306 1098.3L2319.8 1095.3L2390.7 1049L2409.4 1039.2L2414.3 960.3L2406.5 907.1L2374.9 869.7L2333.5 852"/>
<path class="n" d="M2359.2 873.6C2364.7 873.4 2379.3 879.4 2384.8 883.5C2390.3 887.6 2403.1 900.1 2406.5 909.1C2409.8 918.1 2413 946.6 2413.3 960.3C2413.7 974.1 2412.1 1017.1 2409.4 1027.3C2406.8 1037.6 2401.1 1040.2 2390.7 1048C2380.2 1055.8 2329.6 1088.6 2319.8 1094.3C2309.9 1100.1 2308.4 1100.5 2306 1097.3C2303.5 1094.1 2300.2 1077.2 2299.1 1066.7C2297.9 1056.3 2295.9 1020 2296.1 1007.6C2296.3 995.2 2298.5 971.1 2301 960.3C2303.6 949.5 2313.5 923.8 2317.8 915C2322 906.3 2332.7 890.3 2337.5 885.5C2342.3 880.6 2353.6 873.9 2359.2 873.6Z"/>
<path class="t" d="M2360.1 878.6C2365 878.5 2377 884.6 2381.8 888.4C2386.7 892.2 2398.4 902.7 2401.5 911.1C2404.6 919.5 2408.1 947.2 2408.4 960.3C2408.8 973.4 2406.9 1013.6 2404.5 1023.4C2402.1 1033.2 2397.4 1036.5 2387.7 1044.1C2378.1 1051.7 2330.8 1082.9 2321.7 1088.4C2312.7 1093.9 2312.4 1094.1 2310.3 1091.4C2308.2 1088.6 2305.1 1074.5 2304 1064.8C2302.9 1055 2300.8 1019.6 2301 1007.6C2301.3 995.7 2303.5 972.8 2306 962.3C2308.4 951.9 2317.7 926.5 2321.7 918C2325.7 909.5 2336 894 2340.4 889.4C2344.9 884.8 2355.3 878.7 2360.1 878.6Z"/>
<path class="t" d="M2362.1 882.5C2364.9 884.2 2375.1 887.9 2378.9 892.4C2382.6 896.8 2383.8 906.3 2384.8 909.1"/>
<path class="t" d="M2286.3 868.7L2337.5 885.5"/>
<path class="t" d="M2280.3 877.6L2329.6 894.3"/>
<path class="t" d="M2272.5 896.3L2321.7 917"/>
<path class="t" d="M2259.7 945.6L2301 966.3"/>
<path class="t" d="M2258.7 951.5L2300 972.2"/>
<path class="t" d="M2250.8 1004.7L2296.1 1021.4"/>
<path class="t" d="M2251.8 1017.5L2297.1 1033.3"/>
<path class="t" d="M2307.9 861.8L2367 873.6"/>
<path class="t" d="M2313.8 855.9L2371 869.7"/>
<ellipse class="n" cx="2396.6" cy="919" rx="8.3" ry="10.2" transform="rotate(15 2396.6 919)"/>
<ellipse class="n" cx="2396.6" cy="919" rx="4.7" ry="6.3" transform="rotate(15 2396.6 919)"/>
<ellipse class="n" cx="2315.8" cy="966.3" rx="8.3" ry="10.2" transform="rotate(15 2315.8 966.3)"/>
<ellipse class="n" cx="2315.8" cy="966.3" rx="4.7" ry="6.3" transform="rotate(15 2315.8 966.3)"/>
<ellipse class="n" cx="2402.5" cy="1033.3" rx="8.3" ry="10.2" transform="rotate(15 2402.5 1033.3)"/>
<ellipse class="n" cx="2402.5" cy="1033.3" rx="4.7" ry="6.3" transform="rotate(15 2402.5 1033.3)"/>
<ellipse class="n" cx="2316.8" cy="1083.5" rx="8.3" ry="10.2" transform="rotate(15 2316.8 1083.5)"/>
<ellipse class="n" cx="2316.8" cy="1083.5" rx="4.7" ry="6.3" transform="rotate(15 2316.8 1083.5)"/>
<path class="t" d="M2323.7 950.5C2326 949.8 2333.9 944.9 2337.5 946.6C2341.1 948.2 2344.4 954.1 2345.4 960.3C2346.4 966.6 2345.4 976.4 2343.4 984C2341.4 991.5 2337.5 1000.4 2333.5 1005.7C2329.6 1010.9 2324 1013.5 2319.8 1015.5C2315.5 1017.5 2309.9 1017.2 2307.9 1017.5"/>
<path class="t" d="M2367 924.9C2368 929.5 2373 942 2373 952.5C2373 963 2370.7 976.8 2367 987.9C2363.4 999.1 2355.2 1012.9 2351.3 1019.5C2347.3 1026 2344.7 1026 2343.4 1027.3"/>
<path class="t" d="M2371 960.3L2409.4 970.2"/>
<path class="t" d="M2371 976.1L2408.4 986"/>
<path class="t" d="M2359.2 999.8L2404.5 1021.4"/>
<path class="t" d="M2351.3 1017.5L2388.7 1037.2"/>
<path class="t" d="M2341.4 1033.3L2378.9 1051"/>
<path class="t" d="M2307.9 1064.8L2329.6 1074.6"/>
<path class="t" d="M2347.3 897.3L2384.8 913.1"/>
<path class="t" d="M2353.3 889.4L2388.7 905.2"/>
<path class="t" d="M2327.6 1084.5L2388.7 1047"/>
<path class="t" d="M2333.5 1076.6L2382.8 1047"/>
<path class="ld" d="M576 280L643 272.7"/>
<path class="ld" d="M515 345.5L643 272.7"/>
<path class="ld" d="M591 397L643 272.7"/>
<path class="ld" d="M467 421L643 272.7"/>
<path class="ld" d="M597 503L630 503"/>
<path class="ld" d="M718 554L713 584"/>
<path class="ld" d="M814.8 377L811.8 401"/>
<path class="ld" d="M782.7 607.3L779 629.5"/>
<path class="ld" d="M471 605.4L489.6 642.4"/>
<path class="ld" d="M479.6 888L452.7 949"/>
<path class="ld" d="M689 1054.4L705 1082"/>
<path class="ld" d="M1007 175.5L1050.5 166.3L992 265.3"/>
<path class="ld" d="M1250.8 272.3L1250.8 321.5"/>
<path class="ld" d="M1036.5 419.4L1095.6 419.4"/>
<path class="ld" d="M1016 488.5L1062.4 488.5"/>
<path class="ld" d="M1304.4 522.9L1328.4 543.2"/>
<path class="ld" d="M2350 332.6L2365 359.2"/>
<path class="ld" d="M2112.5 525.5L2121 553.2"/>
<path class="ld" d="M2813.6 259.4L2813.6 293.8"/>
<path class="ld" d="M2549.4 411L2549.4 443.4"/>
<path class="ld" d="M2364 561L2432.3 659L2617 600"/>
<path class="ld" d="M2763.8 700.4L2785.2 674.9"/>
<path class="ld" d="M2893 777.3L2909 752"/>
<path class="ld" d="M2659.5 1024.8L2644.8 1061.8"/>
<path class="ld" d="M2408.3 1126.5L2443.4 1106"/>
<path class="ld" d="M1284 740.3L1311.8 740.3"/>
<path class="ld" d="M1068.6 778L1108.5 790.2"/>
<path class="ld" d="M989.6 920.6L1021 852.3L1068 875.2"/>
<path class="ld" d="M1021 852.3L1093.8 980.5"/>
<path class="ld" d="M1262 882.6L1262 919.5"/>
<path class="ld" d="M1447.4 788.3L1406 976.8L1444.8 907.7"/>
<path class="ld" d="M1563 849.3L1406 976.8L1537.2 952"/>
<path class="ld" d="M1228.6 1060L1199 1075.8"/>
<path class="ld" d="M864 1061.8L907.2 1116L663.3 1141.4"/>
<path class="ld" d="M907.2 1116L654 1261.5"/>
<path class="ld" d="M1390 1127.5L1372.8 1159"/>
<path class="ld" d="M1635 715.2L1666.5 733.7"/>
<path class="ld" d="M198.4 1398.6L167 1434.4"/>
<path class="ld" d="M347.3 1502.8L451.5 1531.6L384.3 1473.2"/>
<path class="ld" d="M451.5 1531.6L443.4 1497.2"/>
<path class="ld" d="M313 1583.3L351 1583.3"/>
<path class="ld" d="M199.5 1601.8L234.6 1632"/>
<path class="ld" d="M757.5 1261.5L777.8 1261.5"/>
<path class="ld" d="M1219.4 1210.9L1241.6 1246"/>
<path class="ld" d="M1001.4 1393.8L1019.9 1413.4"/>
<path class="ld" d="M1132.6 1572.2L1152.9 1597"/>
<path class="ld" d="M1814.3 1392L1882 1356.8L1872.3 1414"/>
<path class="ld" d="M1679.4 1414L1665.8 1533L1845.7 1504.6"/>
<path class="ld" d="M2104.4 1520L2091.5 1541.6"/>
<path class="ld" d="M2300.2 1280.3L2333.5 1289.2"/>
<path class="ld" d="M2304 1387.5L2331.7 1389.3"/>
<path class="ld" d="M2415.7 1204.6L2458.2 1204.6"/>
<path class="ld" d="M2612.3 1218.2L2633.7 1196.8"/>
<path class="ld" d="M2909 1261.5L2848 1329L2905.3 1342"/>
<path class="ld" d="M2410 1471.4L2434 1457.3"/>
<path class="ld" d="M2432.3 1534.2L2489.6 1534.2"/>
<path class="ld" d="M2650.3 1525L2553.5 1637.7L2766.7 1502.8"/>
<path class="ld" d="M2711.3 1574L2553.5 1637.7L2676.2 1648"/>
<path class="ld" d="M2830.3 1710.1L2844.3 1675"/>
<path class="ld" d="M755 1670.2L708.4 1690.9"/>
<path class="ld" d="M638.2 1702.7L658.8 1796.2L776 1777.7"/>
<path class="ld" d="M951.5 1787L907.2 1809.2"/>
<path class="ld" d="M1254.5 2076L1220.5 2119.2L1306.2 2143.6L1387.5 2141.7"/>
<path class="ld" d="M1431.9 2050.8L1591.9 2003.9L1564.2 2096.3"/>
<path class="ld" d="M1625 1721.2L1650 1731.6"/>
<path class="ld" d="M2041.6 1964.4L2060 1985.4"/>
<path class="ld" d="M2374.5 1706.7L2346 1722.5"/>
<path class="ld" d="M2461.9 1776.6L2519 1774"/>
<path class="ld" d="M2626.3 1915.2L2637.4 1982.5"/>
<path class="ld" d="M2862 2026L2883 2063"/>
<text class="l" x="654" y="276.4">AXI235014</text>
<text class="l" x="458.2" y="516">AXI232023</text>
<text class="l" x="762" y="369.5">AXA1221</text>
<text class="l" x="1026.2" y="155.2">AXI232007</text>
<text class="l" x="1184.3" y="262.7">AXI232028</text>
<text class="l" x="891.3" y="436">AXI232008</text>
<text class="l" x="893" y="500.7">AX31065</text>
<text class="l" x="1337.7" y="562.8">AXA1221</text>
<text class="l" x="2287.3" y="325.2">AX31406</text>
<text class="l" x="2042.3" y="518.5">AX31407</text>
<text class="l" x="2748.2" y="252.4">AXI232026</text>
<text class="l" x="2477" y="401.7">AXI232002</text>
<text class="l" x="593" y="609.1">AXI232018</text>
<text class="l" x="439.7" y="676.4">AXI234003</text>
<text class="l" x="707.6" y="665.3">AXI237009</text>
<text class="l" x="434.2" y="875.2">AXI234004</text>
<text class="l" x="612.7" y="1044">AXA144</text>
<text class="l" x="1318.4" y="752.5">AXA0286</text>
<text class="l" x="949.3" y="785.4">AX31028</text>
<text class="l" x="908.6" y="842">AX31148</text>
<text class="l" x="1195.4" y="954.6">AXI232038</text>
<text class="l" x="1268.6" y="1005.6">AXI235016</text>
<text class="l" x="1239" y="1058">AXA120</text>
<text class="l" x="922.7" y="1118">AXI232038</text>
<text class="l" x="1343.2" y="1116.5">AXI234004</text>
<text class="l" x="1563" y="702.2">AXA1221</text>
<text class="l" x="2290.3" y="1144.2">AXA1221</text>
<text class="l" x="2366.5" y="696">AXI232003</text>
<text class="l" x="2650.3" y="726.6">AX31006</text>
<text class="l" x="2780.4" y="806">AX31406</text>
<text class="l" x="2590.5" y="1016.3">AXI232028</text>
<text class="l" x="155.2" y="1387.1">AXA0286</text>
<text class="l" x="454.5" y="1557.1">AX31148</text>
<text class="l" x="362.1" y="1595.2">AX31028</text>
<text class="l" x="242.8" y="1651.4">AXI232038</text>
<text class="l" x="786.3" y="1275.5">AXA144</text>
<text class="l" x="1177" y="1284.8">AXI234006</text>
<text class="l" x="1016.2" y="1447.4">AXI234018</text>
<text class="l" x="1008.8" y="1562.7">AXI234019</text>
<text class="l" x="766" y="1675.4">AXI234004</text>
<text class="l" x="1891.2" y="1364.6">AXI234004</text>
<text class="l" x="2185" y="1288.8">AXA1221</text>
<text class="l" x="2164.3" y="1400.4">AXI237009</text>
<text class="l" x="2069.3" y="1508.3">AXA120</text>
<text class="l" x="2270" y="1490.2">AXI232018</text>
<text class="l" x="2289.2" y="1547.1">AXI232023</text>
<text class="l" x="2296.6" y="1220.1">AX31065</text>
<text class="l" x="1524" y="1562">AXI234006</text>
<text class="l" x="2480.3" y="1247.8">AXI232008</text>
<text class="l" x="2703.9" y="1342">AXI232007</text>
<text class="l" x="2407.2" y="1649.5">AXI235014</text>
<text class="l" x="565.4" y="1832.8">AXI234006</text>
<text class="l" x="962.6" y="1792.5">AXI234004</text>
<text class="l" x="1071.6" y="2130.7">AXI234004</text>
<text class="l" x="1484.4" y="1722.3">AXI234019</text>
<text class="l" x="1604.4" y="2000.2">AXI234006</text>
<text class="l" x="2057.1" y="2018.7">AXI234018</text>
<text class="l" x="2384.3" y="1719.4">AXI234004</text>
<text class="l" x="2524.7" y="1787.7">AXI234006</text>
<text class="l" x="2753.8" y="1745.2">AXI234003</text>
<text class="l" x="2576.4" y="2013.1">AXA120</text>
<text class="l" x="2750.8" y="2016.1">AXI234004</text>
<rect x="2642.5" y="99.5" width="409" height="62.5" rx="9" ry="9" fill="#fff" stroke="#222" stroke-width="2.2"/>
<text x="2675.5" y="146.7" style="font-family:'Liberation Sans',sans-serif;font-weight:bold;font-size:40.8px;fill:#222">REAR ASSEMBLY</text>
<rect x="118.6" y="2100.7" width="632.4" height="52.1" rx="9" ry="9" fill="#221f20"/>
<text x="139.3" y="2136.2" textLength="591.7" lengthAdjust="spacingAndGlyphs" style="font-family:'Liberation Sans',sans-serif;font-weight:bold;font-size:25.6px;fill:#fff">C-AXI03006T1/T2 SCX10 III Jeep JT Gladiator RTR</text>
</svg>
</body></html>
